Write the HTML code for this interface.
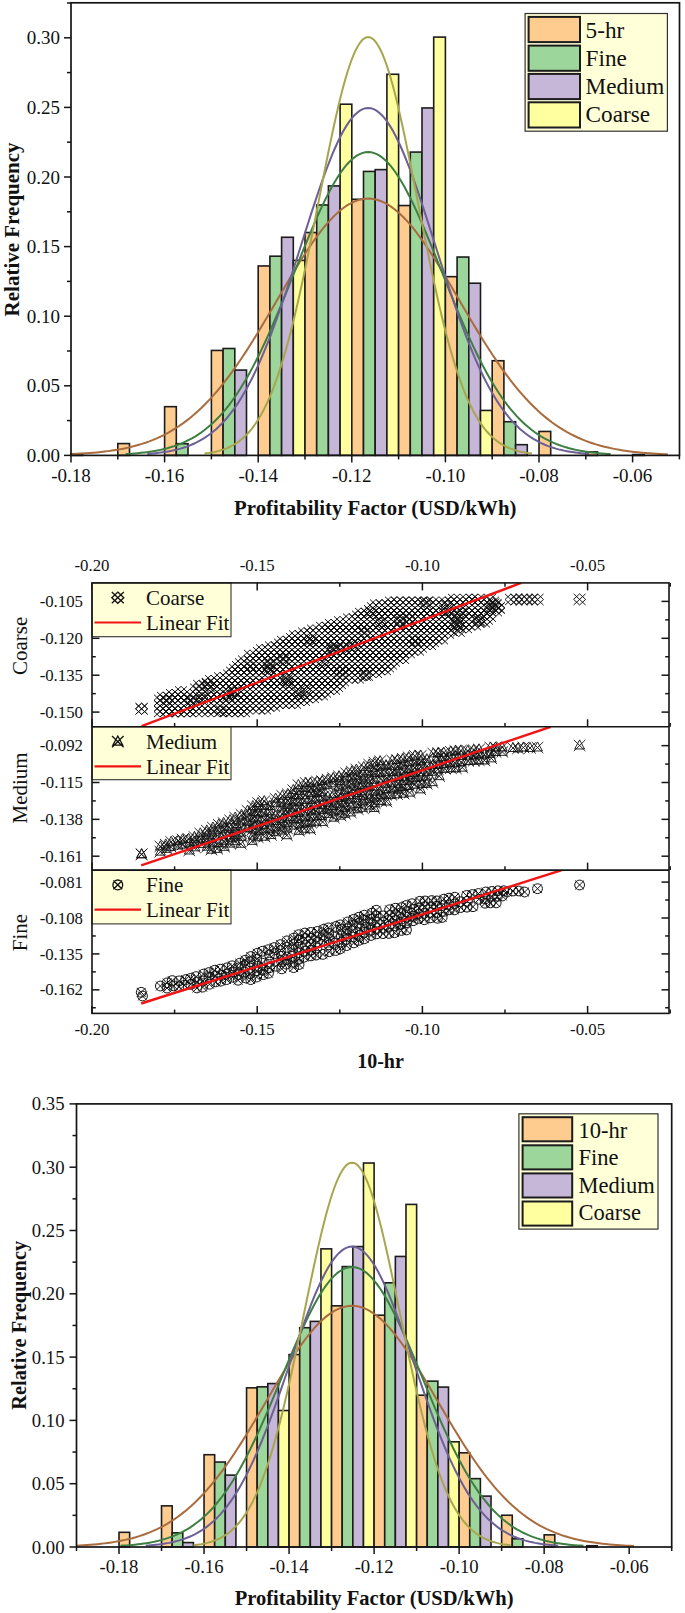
<!DOCTYPE html><html><head><meta charset="utf-8"><title>chart</title><style>html,body{margin:0;padding:0;background:#fff;width:685px;height:1613px;overflow:hidden}svg{display:block}text{font-family:"Liberation Serif",serif;fill:#111}</style></head><body>
<svg width="685" height="1613" viewBox="0 0 685 1613">
<rect width="685" height="1613" fill="#fff"/>
<g stroke="#1C1C1C" stroke-width="1.6">
<rect x="71" y="453.73" width="11.7" height="1.67" fill="#FFCC90"/>
<rect x="117.8" y="443.57" width="11.7" height="11.83" fill="#FFCC90"/>
<rect x="164.6" y="406.68" width="11.7" height="48.72" fill="#FFCC90"/>
<rect x="176.3" y="443.71" width="11.7" height="11.69" fill="#9DD69B"/>
<rect x="211.4" y="350.44" width="11.7" height="104.96" fill="#FFCC90"/>
<rect x="223.1" y="348.49" width="11.7" height="106.91" fill="#9DD69B"/>
<rect x="234.8" y="370.07" width="11.7" height="85.33" fill="#C6B6D8"/>
<rect x="258.2" y="265.95" width="11.7" height="189.45" fill="#FFCC90"/>
<rect x="269.9" y="256.2" width="11.7" height="199.2" fill="#9DD69B"/>
<rect x="281.6" y="237.27" width="11.7" height="218.13" fill="#C6B6D8"/>
<rect x="293.3" y="260.38" width="11.7" height="195.02" fill="#FFFFA0"/>
<rect x="305" y="232.54" width="11.7" height="222.86" fill="#FFCC90"/>
<rect x="316.7" y="204.98" width="11.7" height="250.42" fill="#9DD69B"/>
<rect x="328.4" y="185.91" width="11.7" height="269.49" fill="#C6B6D8"/>
<rect x="340.1" y="104.2" width="11.7" height="351.2" fill="#FFFFA0"/>
<rect x="351.8" y="199.27" width="11.7" height="256.13" fill="#FFCC90"/>
<rect x="363.5" y="171.43" width="11.7" height="283.97" fill="#9DD69B"/>
<rect x="375.2" y="169.62" width="11.7" height="285.78" fill="#C6B6D8"/>
<rect x="386.9" y="74.27" width="11.7" height="381.13" fill="#FFFFA0"/>
<rect x="398.6" y="205.54" width="11.7" height="249.86" fill="#FFCC90"/>
<rect x="410.3" y="152.08" width="11.7" height="303.32" fill="#9DD69B"/>
<rect x="422" y="107.96" width="11.7" height="347.44" fill="#C6B6D8"/>
<rect x="433.7" y="37.1" width="11.7" height="418.3" fill="#FFFFA0"/>
<rect x="445.4" y="276.67" width="11.7" height="178.73" fill="#FFCC90"/>
<rect x="457.1" y="257.04" width="11.7" height="198.36" fill="#9DD69B"/>
<rect x="468.8" y="283.21" width="11.7" height="172.19" fill="#C6B6D8"/>
<rect x="480.5" y="410.44" width="11.7" height="44.96" fill="#FFFFA0"/>
<rect x="492.2" y="360.74" width="11.7" height="94.66" fill="#FFCC90"/>
<rect x="503.9" y="421.71" width="11.7" height="33.69" fill="#9DD69B"/>
<rect x="515.6" y="444.68" width="11.7" height="10.72" fill="#C6B6D8"/>
<rect x="539" y="431.46" width="11.7" height="23.94" fill="#FFCC90"/>
<rect x="585.8" y="451.92" width="11.7" height="3.48" fill="#FFCC90"/>
<rect x="632.6" y="454.56" width="11.7" height="0.84" fill="#FFCC90"/>
</g>
<polyline fill="none" stroke="#A86C3E" stroke-width="2" points="71,454.19 74.73,454.02 78.46,453.82 82.19,453.6 85.92,453.35 89.65,453.08 93.38,452.77 97.11,452.42 100.84,452.04 104.57,451.61 108.3,451.13 112.03,450.6 115.76,450.01 119.49,449.37 123.22,448.66 126.95,447.87 130.68,447.01 134.41,446.07 138.14,445.03 141.87,443.91 145.6,442.68 149.33,441.34 153.06,439.89 156.79,438.32 160.52,436.62 164.25,434.79 167.98,432.82 171.71,430.69 175.44,428.42 179.17,425.99 182.9,423.39 186.63,420.62 190.36,417.67 194.09,414.54 197.82,411.23 201.55,407.73 205.28,404.04 209.01,400.16 212.74,396.09 216.47,391.82 220.2,387.36 223.93,382.71 227.66,377.87 231.39,372.85 235.12,367.65 238.85,362.29 242.58,356.76 246.31,351.08 250.04,345.26 253.77,339.31 257.5,333.24 261.23,327.08 264.96,320.83 268.69,314.51 272.42,308.15 276.15,301.76 279.88,295.36 283.61,288.97 287.34,282.63 291.07,276.34 294.8,270.14 298.53,264.05 302.26,258.09 305.99,252.28 309.72,246.66 313.45,241.25 317.18,236.06 320.91,231.13 324.64,226.48 328.37,222.12 332.1,218.08 335.83,214.37 339.56,211.03 343.29,208.05 347.02,205.46 350.75,203.27 354.48,201.48 358.21,200.12 361.94,199.18 365.67,198.67 369.4,198.6 373.13,198.96 376.86,199.75 380.59,200.96 384.32,202.6 388.05,204.65 391.78,207.1 395.51,209.95 399.24,213.17 402.97,216.75 406.7,220.68 410.43,224.93 414.16,229.48 417.89,234.32 421.62,239.42 425.35,244.76 429.08,250.31 432.81,256.05 436.54,261.96 440.27,268.01 444,274.18 447.73,280.44 451.46,286.76 455.19,293.14 458.92,299.53 462.65,305.93 466.38,312.3 470.11,318.64 473.84,324.91 477.57,331.11 481.3,337.21 485.03,343.2 488.76,349.07 492.49,354.8 496.22,360.38 499.95,365.81 503.68,371.06 507.41,376.15 511.14,381.05 514.87,385.76 518.6,390.29 522.33,394.63 526.06,398.77 529.79,402.72 533.52,406.47 537.24,410.04 540.97,413.41 544.7,416.61 548.43,419.61 552.16,422.44 555.89,425.1 559.62,427.59 563.35,429.92 567.08,432.1 570.81,434.12 574.54,436 578.27,437.74 582,439.36 585.73,440.85 589.46,442.23 593.19,443.49 596.92,444.65 600.65,445.72 604.38,446.69 608.11,447.58 611.84,448.39 615.57,449.13 619.3,449.8 623.03,450.4 626.76,450.95 630.49,451.45 634.22,451.89 637.95,452.29 641.68,452.65 645.41,452.97 649.14,453.26 652.87,453.52 656.6,453.75 660.33,453.95 664.06,454.13 667.79,454.29"/>
<polyline fill="none" stroke="#3D7F42" stroke-width="2" points="125.71,454.09 128.74,453.9 131.77,453.69 134.8,453.44 137.83,453.17 140.86,452.87 143.89,452.53 146.93,452.14 149.96,451.71 152.99,451.24 156.02,450.71 159.05,450.12 162.08,449.47 165.11,448.74 168.14,447.95 171.17,447.07 174.2,446.1 177.23,445.04 180.27,443.88 183.3,442.61 186.33,441.22 189.36,439.71 192.39,438.06 195.42,436.28 198.45,434.35 201.48,432.27 204.51,430.02 207.54,427.6 210.57,425.01 213.6,422.22 216.64,419.24 219.67,416.07 222.7,412.68 225.73,409.09 228.76,405.27 231.79,401.24 234.82,396.98 237.85,392.49 240.88,387.77 243.91,382.83 246.94,377.65 249.98,372.24 253.01,366.61 256.04,360.76 259.07,354.7 262.1,348.43 265.13,341.96 268.16,335.31 271.19,328.48 274.22,321.49 277.25,314.36 280.28,307.1 283.32,299.73 286.35,292.27 289.38,284.74 292.41,277.18 295.44,269.59 298.47,262.01 301.5,254.46 304.53,246.97 307.56,239.58 310.59,232.29 313.62,225.16 316.65,218.2 319.69,211.45 322.72,204.93 325.75,198.67 328.78,192.7 331.81,187.06 334.84,181.75 337.87,176.82 340.9,172.28 343.93,168.16 346.96,164.47 349.99,161.23 353.03,158.47 356.06,156.18 359.09,154.4 362.12,153.11 365.15,152.34 368.18,152.08 371.21,152.34 374.24,153.11 377.27,154.4 380.3,156.18 383.33,158.47 386.37,161.23 389.4,164.47 392.43,168.16 395.46,172.28 398.49,176.82 401.52,181.75 404.55,187.06 407.58,192.7 410.61,198.67 413.64,204.93 416.67,211.45 419.71,218.2 422.74,225.16 425.77,232.29 428.8,239.58 431.83,246.97 434.86,254.46 437.89,262.01 440.92,269.59 443.95,277.18 446.98,284.74 450.01,292.27 453.04,299.73 456.08,307.1 459.11,314.36 462.14,321.49 465.17,328.48 468.2,335.31 471.23,341.96 474.26,348.43 477.29,354.7 480.32,360.76 483.35,366.61 486.38,372.24 489.42,377.65 492.45,382.83 495.48,387.77 498.51,392.49 501.54,396.98 504.57,401.24 507.6,405.27 510.63,409.09 513.66,412.68 516.69,416.07 519.72,419.24 522.76,422.22 525.79,425.01 528.82,427.6 531.85,430.02 534.88,432.27 537.91,434.35 540.94,436.28 543.97,438.06 547,439.71 550.03,441.22 553.06,442.61 556.09,443.88 559.13,445.04 562.16,446.1 565.19,447.07 568.22,447.95 571.25,448.74 574.28,449.47 577.31,450.12 580.34,450.71 583.37,451.24 586.4,451.71 589.43,452.14 592.47,452.53 595.5,452.87 598.53,453.17 601.56,453.44 604.59,453.69 607.62,453.9 610.65,454.09"/>
<polyline fill="none" stroke="#6C6095" stroke-width="2" points="147.33,453.9 150.09,453.68 152.85,453.44 155.61,453.16 158.37,452.85 161.13,452.5 163.89,452.11 166.66,451.67 169.42,451.18 172.18,450.63 174.94,450.02 177.7,449.35 180.46,448.6 183.22,447.77 185.98,446.86 188.74,445.85 191.5,444.75 194.26,443.53 197.02,442.2 199.78,440.74 202.54,439.15 205.3,437.42 208.06,435.54 210.82,433.5 213.59,431.29 216.35,428.9 219.11,426.33 221.87,423.56 224.63,420.58 227.39,417.39 230.15,413.98 232.91,410.35 235.67,406.47 238.43,402.35 241.19,397.98 243.95,393.36 246.71,388.48 249.47,383.34 252.23,377.94 254.99,372.27 257.76,366.34 260.52,360.14 263.28,353.7 266.04,346.99 268.8,340.05 271.56,332.87 274.32,325.46 277.08,317.83 279.84,310.01 282.6,302.01 285.36,293.84 288.12,285.52 290.88,277.08 293.64,268.54 296.4,259.92 299.16,251.25 301.93,242.56 304.69,233.87 307.45,225.23 310.21,216.65 312.97,208.18 315.73,199.84 318.49,191.66 321.25,183.69 324.01,175.96 326.77,168.49 329.53,161.32 332.29,154.49 335.05,148.02 337.81,141.94 340.57,136.29 343.33,131.09 346.1,126.37 348.86,122.14 351.62,118.44 354.38,115.27 357.14,112.65 359.9,110.61 362.66,109.14 365.42,108.25 368.18,107.96 370.94,108.25 373.7,109.14 376.46,110.61 379.22,112.65 381.98,115.27 384.74,118.44 387.5,122.14 390.26,126.37 393.03,131.09 395.79,136.29 398.55,141.94 401.31,148.02 404.07,154.49 406.83,161.32 409.59,168.49 412.35,175.96 415.11,183.69 417.87,191.66 420.63,199.84 423.39,208.18 426.15,216.65 428.91,225.23 431.67,233.87 434.43,242.56 437.2,251.25 439.96,259.92 442.72,268.54 445.48,277.08 448.24,285.52 451,293.84 453.76,302.01 456.52,310.01 459.28,317.83 462.04,325.46 464.8,332.87 467.56,340.05 470.32,346.99 473.08,353.7 475.84,360.14 478.6,366.34 481.37,372.27 484.13,377.94 486.89,383.34 489.65,388.48 492.41,393.36 495.17,397.98 497.93,402.35 500.69,406.47 503.45,410.35 506.21,413.98 508.97,417.39 511.73,420.58 514.49,423.56 517.25,426.33 520.01,428.9 522.77,431.29 525.54,433.5 528.3,435.54 531.06,437.42 533.82,439.15 536.58,440.74 539.34,442.2 542.1,443.53 544.86,444.75 547.62,445.85 550.38,446.86 553.14,447.77 555.9,448.6 558.66,449.35 561.42,450.02 564.18,450.63 566.94,451.18 569.7,451.67 572.47,452.11 575.23,452.5 577.99,452.85 580.75,453.16 583.51,453.44 586.27,453.68 589.03,453.9"/>
<polyline fill="none" stroke="#A8A64C" stroke-width="2" points="204.47,453.59 206.52,453.33 208.57,453.04 210.61,452.7 212.66,452.33 214.71,451.91 216.75,451.44 218.8,450.91 220.84,450.32 222.89,449.66 224.94,448.93 226.98,448.12 229.03,447.22 231.08,446.22 233.12,445.12 235.17,443.91 237.21,442.58 239.26,441.11 241.31,439.51 243.35,437.76 245.4,435.84 247.45,433.76 249.49,431.49 251.54,429.04 253.59,426.38 255.63,423.5 257.68,420.4 259.72,417.07 261.77,413.48 263.82,409.64 265.86,405.54 267.91,401.16 269.96,396.49 272,391.53 274.05,386.27 276.1,380.71 278.14,374.83 280.19,368.64 282.23,362.14 284.28,355.31 286.33,348.17 288.37,340.72 290.42,332.96 292.47,324.89 294.51,316.52 296.56,307.88 298.6,298.96 300.65,289.78 302.7,280.36 304.74,270.73 306.79,260.89 308.84,250.88 310.88,240.71 312.93,230.43 314.98,220.05 317.02,209.62 319.07,199.15 321.11,188.7 323.16,178.29 325.21,167.97 327.25,157.76 329.3,147.72 331.35,137.88 333.39,128.28 335.44,118.97 337.49,109.98 339.53,101.35 341.58,93.12 343.62,85.34 345.67,78.02 347.72,71.22 349.76,64.96 351.81,59.27 353.86,54.18 355.9,49.72 357.95,45.91 359.99,42.76 362.04,40.29 364.09,38.53 366.13,37.46 368.18,37.1 370.23,37.46 372.27,38.53 374.32,40.29 376.37,42.76 378.41,45.91 380.46,49.72 382.5,54.18 384.55,59.27 386.6,64.96 388.64,71.22 390.69,78.02 392.74,85.34 394.78,93.12 396.83,101.35 398.87,109.98 400.92,118.97 402.97,128.28 405.01,137.88 407.06,147.72 409.11,157.76 411.15,167.97 413.2,178.29 415.25,188.7 417.29,199.15 419.34,209.62 421.38,220.05 423.43,230.43 425.48,240.71 427.52,250.88 429.57,260.89 431.62,270.73 433.66,280.36 435.71,289.78 437.76,298.96 439.8,307.88 441.85,316.52 443.89,324.89 445.94,332.96 447.99,340.72 450.03,348.17 452.08,355.31 454.13,362.14 456.17,368.64 458.22,374.83 460.26,380.71 462.31,386.27 464.36,391.53 466.4,396.49 468.45,401.16 470.5,405.54 472.54,409.64 474.59,413.48 476.64,417.07 478.68,420.4 480.73,423.5 482.77,426.38 484.82,429.04 486.87,431.49 488.91,433.76 490.96,435.84 493.01,437.76 495.05,439.51 497.1,441.11 499.15,442.58 501.19,443.91 503.24,445.12 505.28,446.22 507.33,447.22 509.38,448.12 511.42,448.93 513.47,449.66 515.52,450.32 517.56,450.91 519.61,451.44 521.65,451.91 523.7,452.33 525.75,452.7 527.79,453.04 529.84,453.33 531.89,453.59"/>
<rect x="71" y="2.8" width="608.5" height="452.6" fill="none" stroke="#151515" stroke-width="1.7"/>
<line x1="64" y1="455.4" x2="71" y2="455.4" stroke="#151515" stroke-width="1.5"/>
<text x="60" y="461.9" font-size="19" text-anchor="end">0.00</text>
<line x1="64" y1="385.8" x2="71" y2="385.8" stroke="#151515" stroke-width="1.5"/>
<text x="60" y="392.3" font-size="19" text-anchor="end">0.05</text>
<line x1="64" y1="316.2" x2="71" y2="316.2" stroke="#151515" stroke-width="1.5"/>
<text x="60" y="322.7" font-size="19" text-anchor="end">0.10</text>
<line x1="64" y1="246.6" x2="71" y2="246.6" stroke="#151515" stroke-width="1.5"/>
<text x="60" y="253.1" font-size="19" text-anchor="end">0.15</text>
<line x1="64" y1="177" x2="71" y2="177" stroke="#151515" stroke-width="1.5"/>
<text x="60" y="183.5" font-size="19" text-anchor="end">0.20</text>
<line x1="64" y1="107.4" x2="71" y2="107.4" stroke="#151515" stroke-width="1.5"/>
<text x="60" y="113.9" font-size="19" text-anchor="end">0.25</text>
<line x1="64" y1="37.8" x2="71" y2="37.8" stroke="#151515" stroke-width="1.5"/>
<text x="60" y="44.3" font-size="19" text-anchor="end">0.30</text>
<line x1="67" y1="420.6" x2="71" y2="420.6" stroke="#151515" stroke-width="1.5"/>
<line x1="67" y1="351" x2="71" y2="351" stroke="#151515" stroke-width="1.5"/>
<line x1="67" y1="281.4" x2="71" y2="281.4" stroke="#151515" stroke-width="1.5"/>
<line x1="67" y1="211.8" x2="71" y2="211.8" stroke="#151515" stroke-width="1.5"/>
<line x1="67" y1="142.2" x2="71" y2="142.2" stroke="#151515" stroke-width="1.5"/>
<line x1="67" y1="72.6" x2="71" y2="72.6" stroke="#151515" stroke-width="1.5"/>
<line x1="67" y1="3" x2="71" y2="3" stroke="#151515" stroke-width="1.5"/>
<line x1="71" y1="455.4" x2="71" y2="462.4" stroke="#151515" stroke-width="1.5"/>
<text x="71" y="481.8" font-size="19" text-anchor="middle">-0.18</text>
<line x1="164.6" y1="455.4" x2="164.6" y2="462.4" stroke="#151515" stroke-width="1.5"/>
<text x="164.6" y="481.8" font-size="19" text-anchor="middle">-0.16</text>
<line x1="258.2" y1="455.4" x2="258.2" y2="462.4" stroke="#151515" stroke-width="1.5"/>
<text x="258.2" y="481.8" font-size="19" text-anchor="middle">-0.14</text>
<line x1="351.8" y1="455.4" x2="351.8" y2="462.4" stroke="#151515" stroke-width="1.5"/>
<text x="351.8" y="481.8" font-size="19" text-anchor="middle">-0.12</text>
<line x1="445.4" y1="455.4" x2="445.4" y2="462.4" stroke="#151515" stroke-width="1.5"/>
<text x="445.4" y="481.8" font-size="19" text-anchor="middle">-0.10</text>
<line x1="539" y1="455.4" x2="539" y2="462.4" stroke="#151515" stroke-width="1.5"/>
<text x="539" y="481.8" font-size="19" text-anchor="middle">-0.08</text>
<line x1="632.6" y1="455.4" x2="632.6" y2="462.4" stroke="#151515" stroke-width="1.5"/>
<text x="632.6" y="481.8" font-size="19" text-anchor="middle">-0.06</text>
<line x1="117.8" y1="455.4" x2="117.8" y2="459.4" stroke="#151515" stroke-width="1.5"/>
<line x1="211.4" y1="455.4" x2="211.4" y2="459.4" stroke="#151515" stroke-width="1.5"/>
<line x1="305" y1="455.4" x2="305" y2="459.4" stroke="#151515" stroke-width="1.5"/>
<line x1="398.6" y1="455.4" x2="398.6" y2="459.4" stroke="#151515" stroke-width="1.5"/>
<line x1="492.2" y1="455.4" x2="492.2" y2="459.4" stroke="#151515" stroke-width="1.5"/>
<line x1="585.8" y1="455.4" x2="585.8" y2="459.4" stroke="#151515" stroke-width="1.5"/>
<line x1="679.4" y1="455.4" x2="679.4" y2="459.4" stroke="#151515" stroke-width="1.5"/>
<text x="375.25" y="515.3" font-size="20.8" text-anchor="middle" font-weight="bold">Profitability Factor (USD/kWh)</text>
<text transform="translate(18.8,229.4) rotate(-90)" font-size="21" font-weight="bold" text-anchor="middle">Relative Frequency</text>
<rect x="525.1" y="13.5" width="142.3" height="117.7" fill="#FFFFD8" stroke="#333" stroke-width="1.2"/>
<rect x="528.6" y="16.9" width="51.4" height="25.2" fill="#FFCC90" stroke="#1C1C1C" stroke-width="2"/>
<text x="585.6" y="37.5" font-size="23.2" text-anchor="start">5-hr</text>
<rect x="528.6" y="45.6" width="51.4" height="25.2" fill="#9DD69B" stroke="#1C1C1C" stroke-width="2"/>
<text x="585.6" y="65.5" font-size="23.2" text-anchor="start">Fine</text>
<rect x="528.6" y="73.9" width="51.4" height="25.2" fill="#C6B6D8" stroke="#1C1C1C" stroke-width="2"/>
<text x="585.6" y="94" font-size="23.2" text-anchor="start">Medium</text>
<rect x="528.6" y="102.3" width="51.4" height="25.2" fill="#FFFFA0" stroke="#1C1C1C" stroke-width="2"/>
<text x="585.6" y="122.2" font-size="23.2" text-anchor="start">Coarse</text>
<defs>
<clipPath id="cp0"><rect x="92" y="582.9" width="577" height="143.9"/></clipPath>
<clipPath id="cp1"><rect x="92" y="726.8" width="577" height="143.3"/></clipPath>
<clipPath id="cp2"><rect x="92" y="870.1" width="577" height="143.3"/></clipPath>
</defs>
<path clip-path="url(#cp0)" fill="none" stroke="#111" stroke-width="0.95" d="M154 694.7l12 11.2m0 -11.2l-12 11.2M160 694.7l6 5.6l-6 5.6l-6 -5.6zM154 700.3l12 11.2m0 -11.2l-12 11.2M160 700.3l6 5.6l-6 5.6l-6 -5.6zM154 705.9l12 11.2m0 -11.2l-12 11.2M160 705.9l6 5.6l-6 5.6l-6 -5.6zM157 691.9l12 11.2m0 -11.2l-12 11.2M163 691.9l6 5.6l-6 5.6l-6 -5.6zM157 697.5l12 11.2m0 -11.2l-12 11.2M163 697.5l6 5.6l-6 5.6l-6 -5.6zM157 703.1l12 11.2m0 -11.2l-12 11.2M163 703.1l6 5.6l-6 5.6l-6 -5.6zM160 694.7l12 11.2m0 -11.2l-12 11.2M166 694.7l6 5.6l-6 5.6l-6 -5.6zM160 700.3l12 11.2m0 -11.2l-12 11.2M166 700.3l6 5.6l-6 5.6l-6 -5.6zM160 705.9l12 11.2m0 -11.2l-12 11.2M166 705.9l6 5.6l-6 5.6l-6 -5.6zM163 691.9l12 11.2m0 -11.2l-12 11.2M169 691.9l6 5.6l-6 5.6l-6 -5.6zM163 703.1l12 11.2m0 -11.2l-12 11.2M169 703.1l6 5.6l-6 5.6l-6 -5.6zM166 689.1l12 11.2m0 -11.2l-12 11.2M172 689.1l6 5.6l-6 5.6l-6 -5.6zM166 694.7l12 11.2m0 -11.2l-12 11.2M172 694.7l6 5.6l-6 5.6l-6 -5.6zM166 700.3l12 11.2m0 -11.2l-12 11.2M172 700.3l6 5.6l-6 5.6l-6 -5.6zM166 705.9l12 11.2m0 -11.2l-12 11.2M172 705.9l6 5.6l-6 5.6l-6 -5.6zM169 691.9l12 11.2m0 -11.2l-12 11.2M175 691.9l6 5.6l-6 5.6l-6 -5.6zM169 703.1l12 11.2m0 -11.2l-12 11.2M175 703.1l6 5.6l-6 5.6l-6 -5.6zM172 689.1l12 11.2m0 -11.2l-12 11.2M178 689.1l6 5.6l-6 5.6l-6 -5.6zM172 694.7l12 11.2m0 -11.2l-12 11.2M178 694.7l6 5.6l-6 5.6l-6 -5.6zM172 700.3l12 11.2m0 -11.2l-12 11.2M178 700.3l6 5.6l-6 5.6l-6 -5.6zM172 705.9l12 11.2m0 -11.2l-12 11.2M178 705.9l6 5.6l-6 5.6l-6 -5.6zM175 686.3l12 11.2m0 -11.2l-12 11.2M181 686.3l6 5.6l-6 5.6l-6 -5.6zM175 691.9l12 11.2m0 -11.2l-12 11.2M181 691.9l6 5.6l-6 5.6l-6 -5.6zM175 697.5l12 11.2m0 -11.2l-12 11.2M181 697.5l6 5.6l-6 5.6l-6 -5.6zM178 689.1l12 11.2m0 -11.2l-12 11.2M184 689.1l6 5.6l-6 5.6l-6 -5.6zM178 694.7l12 11.2m0 -11.2l-12 11.2M184 694.7l6 5.6l-6 5.6l-6 -5.6zM178 705.9l12 11.2m0 -11.2l-12 11.2M184 705.9l6 5.6l-6 5.6l-6 -5.6zM181 691.9l12 11.2m0 -11.2l-12 11.2M187 691.9l6 5.6l-6 5.6l-6 -5.6zM181 697.5l12 11.2m0 -11.2l-12 11.2M187 697.5l6 5.6l-6 5.6l-6 -5.6zM181 703.1l12 11.2m0 -11.2l-12 11.2M187 703.1l6 5.6l-6 5.6l-6 -5.6zM184 694.7l12 11.2m0 -11.2l-12 11.2M190 694.7l6 5.6l-6 5.6l-6 -5.6zM184 700.3l12 11.2m0 -11.2l-12 11.2M190 700.3l6 5.6l-6 5.6l-6 -5.6zM184 705.9l12 11.2m0 -11.2l-12 11.2M190 705.9l6 5.6l-6 5.6l-6 -5.6zM187 691.9l12 11.2m0 -11.2l-12 11.2M193 691.9l6 5.6l-6 5.6l-6 -5.6zM187 697.5l12 11.2m0 -11.2l-12 11.2M193 697.5l6 5.6l-6 5.6l-6 -5.6zM187 703.1l12 11.2m0 -11.2l-12 11.2M193 703.1l6 5.6l-6 5.6l-6 -5.6zM190 683.5l12 11.2m0 -11.2l-12 11.2M196 683.5l6 5.6l-6 5.6l-6 -5.6zM190 689.1l12 11.2m0 -11.2l-12 11.2M196 689.1l6 5.6l-6 5.6l-6 -5.6zM190 694.7l12 11.2m0 -11.2l-12 11.2M196 694.7l6 5.6l-6 5.6l-6 -5.6zM190 700.3l12 11.2m0 -11.2l-12 11.2M196 700.3l6 5.6l-6 5.6l-6 -5.6zM190 705.9l12 11.2m0 -11.2l-12 11.2M196 705.9l6 5.6l-6 5.6l-6 -5.6zM193 686.3l12 11.2m0 -11.2l-12 11.2M199 686.3l6 5.6l-6 5.6l-6 -5.6zM196 683.5l12 11.2m0 -11.2l-12 11.2M202 683.5l6 5.6l-6 5.6l-6 -5.6zM196 689.1l12 11.2m0 -11.2l-12 11.2M202 689.1l6 5.6l-6 5.6l-6 -5.6zM199 680.7l12 11.2m0 -11.2l-12 11.2M205 680.7l6 5.6l-6 5.6l-6 -5.6zM199 686.3l12 11.2m0 -11.2l-12 11.2M205 686.3l6 5.6l-6 5.6l-6 -5.6zM199 691.9l12 11.2m0 -11.2l-12 11.2M205 691.9l6 5.6l-6 5.6l-6 -5.6zM199 697.5l12 11.2m0 -11.2l-12 11.2M205 697.5l6 5.6l-6 5.6l-6 -5.6zM199 703.1l12 11.2m0 -11.2l-12 11.2M205 703.1l6 5.6l-6 5.6l-6 -5.6zM202 677.9l12 11.2m0 -11.2l-12 11.2M208 677.9l6 5.6l-6 5.6l-6 -5.6zM202 683.5l12 11.2m0 -11.2l-12 11.2M208 683.5l6 5.6l-6 5.6l-6 -5.6zM202 700.3l12 11.2m0 -11.2l-12 11.2M208 700.3l6 5.6l-6 5.6l-6 -5.6zM202 705.9l12 11.2m0 -11.2l-12 11.2M208 705.9l6 5.6l-6 5.6l-6 -5.6zM205 675.1l12 11.2m0 -11.2l-12 11.2M211 675.1l6 5.6l-6 5.6l-6 -5.6zM205 680.7l12 11.2m0 -11.2l-12 11.2M211 680.7l6 5.6l-6 5.6l-6 -5.6zM205 686.3l12 11.2m0 -11.2l-12 11.2M211 686.3l6 5.6l-6 5.6l-6 -5.6zM205 691.9l12 11.2m0 -11.2l-12 11.2M211 691.9l6 5.6l-6 5.6l-6 -5.6zM205 703.1l12 11.2m0 -11.2l-12 11.2M211 703.1l6 5.6l-6 5.6l-6 -5.6zM208 677.9l12 11.2m0 -11.2l-12 11.2M214 677.9l6 5.6l-6 5.6l-6 -5.6zM208 683.5l12 11.2m0 -11.2l-12 11.2M214 683.5l6 5.6l-6 5.6l-6 -5.6zM208 689.1l12 11.2m0 -11.2l-12 11.2M214 689.1l6 5.6l-6 5.6l-6 -5.6zM208 694.7l12 11.2m0 -11.2l-12 11.2M214 694.7l6 5.6l-6 5.6l-6 -5.6zM211 675.1l12 11.2m0 -11.2l-12 11.2M217 675.1l6 5.6l-6 5.6l-6 -5.6zM211 686.3l12 11.2m0 -11.2l-12 11.2M217 686.3l6 5.6l-6 5.6l-6 -5.6zM211 691.9l12 11.2m0 -11.2l-12 11.2M217 691.9l6 5.6l-6 5.6l-6 -5.6zM211 697.5l12 11.2m0 -11.2l-12 11.2M217 697.5l6 5.6l-6 5.6l-6 -5.6zM211 703.1l12 11.2m0 -11.2l-12 11.2M217 703.1l6 5.6l-6 5.6l-6 -5.6zM214 672.3l12 11.2m0 -11.2l-12 11.2M220 672.3l6 5.6l-6 5.6l-6 -5.6zM214 677.9l12 11.2m0 -11.2l-12 11.2M220 677.9l6 5.6l-6 5.6l-6 -5.6zM214 683.5l12 11.2m0 -11.2l-12 11.2M220 683.5l6 5.6l-6 5.6l-6 -5.6zM214 689.1l12 11.2m0 -11.2l-12 11.2M220 689.1l6 5.6l-6 5.6l-6 -5.6zM214 694.7l12 11.2m0 -11.2l-12 11.2M220 694.7l6 5.6l-6 5.6l-6 -5.6zM214 705.9l12 11.2m0 -11.2l-12 11.2M220 705.9l6 5.6l-6 5.6l-6 -5.6zM217 680.7l12 11.2m0 -11.2l-12 11.2M223 680.7l6 5.6l-6 5.6l-6 -5.6zM217 686.3l12 11.2m0 -11.2l-12 11.2M223 686.3l6 5.6l-6 5.6l-6 -5.6zM217 691.9l12 11.2m0 -11.2l-12 11.2M223 691.9l6 5.6l-6 5.6l-6 -5.6zM217 697.5l12 11.2m0 -11.2l-12 11.2M223 697.5l6 5.6l-6 5.6l-6 -5.6zM217 703.1l12 11.2m0 -11.2l-12 11.2M223 703.1l6 5.6l-6 5.6l-6 -5.6zM220 672.3l12 11.2m0 -11.2l-12 11.2M226 672.3l6 5.6l-6 5.6l-6 -5.6zM220 677.9l12 11.2m0 -11.2l-12 11.2M226 677.9l6 5.6l-6 5.6l-6 -5.6zM220 689.1l12 11.2m0 -11.2l-12 11.2M226 689.1l6 5.6l-6 5.6l-6 -5.6zM220 694.7l12 11.2m0 -11.2l-12 11.2M226 694.7l6 5.6l-6 5.6l-6 -5.6zM220 700.3l12 11.2m0 -11.2l-12 11.2M226 700.3l6 5.6l-6 5.6l-6 -5.6zM220 705.9l12 11.2m0 -11.2l-12 11.2M226 705.9l6 5.6l-6 5.6l-6 -5.6zM223 669.5l12 11.2m0 -11.2l-12 11.2M229 669.5l6 5.6l-6 5.6l-6 -5.6zM223 680.7l12 11.2m0 -11.2l-12 11.2M229 680.7l6 5.6l-6 5.6l-6 -5.6zM223 686.3l12 11.2m0 -11.2l-12 11.2M229 686.3l6 5.6l-6 5.6l-6 -5.6zM223 691.9l12 11.2m0 -11.2l-12 11.2M229 691.9l6 5.6l-6 5.6l-6 -5.6zM223 697.5l12 11.2m0 -11.2l-12 11.2M229 697.5l6 5.6l-6 5.6l-6 -5.6zM223 703.1l12 11.2m0 -11.2l-12 11.2M229 703.1l6 5.6l-6 5.6l-6 -5.6zM226 666.7l12 11.2m0 -11.2l-12 11.2M232 666.7l6 5.6l-6 5.6l-6 -5.6zM226 672.3l12 11.2m0 -11.2l-12 11.2M232 672.3l6 5.6l-6 5.6l-6 -5.6zM226 677.9l12 11.2m0 -11.2l-12 11.2M232 677.9l6 5.6l-6 5.6l-6 -5.6zM226 683.5l12 11.2m0 -11.2l-12 11.2M232 683.5l6 5.6l-6 5.6l-6 -5.6zM226 689.1l12 11.2m0 -11.2l-12 11.2M232 689.1l6 5.6l-6 5.6l-6 -5.6zM226 694.7l12 11.2m0 -11.2l-12 11.2M232 694.7l6 5.6l-6 5.6l-6 -5.6zM226 700.3l12 11.2m0 -11.2l-12 11.2M232 700.3l6 5.6l-6 5.6l-6 -5.6zM226 705.9l12 11.2m0 -11.2l-12 11.2M232 705.9l6 5.6l-6 5.6l-6 -5.6zM229 663.9l12 11.2m0 -11.2l-12 11.2M235 663.9l6 5.6l-6 5.6l-6 -5.6zM229 669.5l12 11.2m0 -11.2l-12 11.2M235 669.5l6 5.6l-6 5.6l-6 -5.6zM229 675.1l12 11.2m0 -11.2l-12 11.2M235 675.1l6 5.6l-6 5.6l-6 -5.6zM229 680.7l12 11.2m0 -11.2l-12 11.2M235 680.7l6 5.6l-6 5.6l-6 -5.6zM229 686.3l12 11.2m0 -11.2l-12 11.2M235 686.3l6 5.6l-6 5.6l-6 -5.6zM229 697.5l12 11.2m0 -11.2l-12 11.2M235 697.5l6 5.6l-6 5.6l-6 -5.6zM229 703.1l12 11.2m0 -11.2l-12 11.2M235 703.1l6 5.6l-6 5.6l-6 -5.6zM232 661.1l12 11.2m0 -11.2l-12 11.2M238 661.1l6 5.6l-6 5.6l-6 -5.6zM232 666.7l12 11.2m0 -11.2l-12 11.2M238 666.7l6 5.6l-6 5.6l-6 -5.6zM232 672.3l12 11.2m0 -11.2l-12 11.2M238 672.3l6 5.6l-6 5.6l-6 -5.6zM232 677.9l12 11.2m0 -11.2l-12 11.2M238 677.9l6 5.6l-6 5.6l-6 -5.6zM232 683.5l12 11.2m0 -11.2l-12 11.2M238 683.5l6 5.6l-6 5.6l-6 -5.6zM232 689.1l12 11.2m0 -11.2l-12 11.2M238 689.1l6 5.6l-6 5.6l-6 -5.6zM232 694.7l12 11.2m0 -11.2l-12 11.2M238 694.7l6 5.6l-6 5.6l-6 -5.6zM232 700.3l12 11.2m0 -11.2l-12 11.2M238 700.3l6 5.6l-6 5.6l-6 -5.6zM232 705.9l12 11.2m0 -11.2l-12 11.2M238 705.9l6 5.6l-6 5.6l-6 -5.6zM235 658.3l12 11.2m0 -11.2l-12 11.2M241 658.3l6 5.6l-6 5.6l-6 -5.6zM235 663.9l12 11.2m0 -11.2l-12 11.2M241 663.9l6 5.6l-6 5.6l-6 -5.6zM235 669.5l12 11.2m0 -11.2l-12 11.2M241 669.5l6 5.6l-6 5.6l-6 -5.6zM235 675.1l12 11.2m0 -11.2l-12 11.2M241 675.1l6 5.6l-6 5.6l-6 -5.6zM235 680.7l12 11.2m0 -11.2l-12 11.2M241 680.7l6 5.6l-6 5.6l-6 -5.6zM235 686.3l12 11.2m0 -11.2l-12 11.2M241 686.3l6 5.6l-6 5.6l-6 -5.6zM235 691.9l12 11.2m0 -11.2l-12 11.2M241 691.9l6 5.6l-6 5.6l-6 -5.6zM235 697.5l12 11.2m0 -11.2l-12 11.2M241 697.5l6 5.6l-6 5.6l-6 -5.6zM235 703.1l12 11.2m0 -11.2l-12 11.2M241 703.1l6 5.6l-6 5.6l-6 -5.6zM238 655.5l12 11.2m0 -11.2l-12 11.2M244 655.5l6 5.6l-6 5.6l-6 -5.6zM238 661.1l12 11.2m0 -11.2l-12 11.2M244 661.1l6 5.6l-6 5.6l-6 -5.6zM238 666.7l12 11.2m0 -11.2l-12 11.2M244 666.7l6 5.6l-6 5.6l-6 -5.6zM238 672.3l12 11.2m0 -11.2l-12 11.2M244 672.3l6 5.6l-6 5.6l-6 -5.6zM238 677.9l12 11.2m0 -11.2l-12 11.2M244 677.9l6 5.6l-6 5.6l-6 -5.6zM238 683.5l12 11.2m0 -11.2l-12 11.2M244 683.5l6 5.6l-6 5.6l-6 -5.6zM238 694.7l12 11.2m0 -11.2l-12 11.2M244 694.7l6 5.6l-6 5.6l-6 -5.6zM238 700.3l12 11.2m0 -11.2l-12 11.2M244 700.3l6 5.6l-6 5.6l-6 -5.6zM238 705.9l12 11.2m0 -11.2l-12 11.2M244 705.9l6 5.6l-6 5.6l-6 -5.6zM241 658.3l12 11.2m0 -11.2l-12 11.2M247 658.3l6 5.6l-6 5.6l-6 -5.6zM241 663.9l12 11.2m0 -11.2l-12 11.2M247 663.9l6 5.6l-6 5.6l-6 -5.6zM241 669.5l12 11.2m0 -11.2l-12 11.2M247 669.5l6 5.6l-6 5.6l-6 -5.6zM241 675.1l12 11.2m0 -11.2l-12 11.2M247 675.1l6 5.6l-6 5.6l-6 -5.6zM241 680.7l12 11.2m0 -11.2l-12 11.2M247 680.7l6 5.6l-6 5.6l-6 -5.6zM241 686.3l12 11.2m0 -11.2l-12 11.2M247 686.3l6 5.6l-6 5.6l-6 -5.6zM241 691.9l12 11.2m0 -11.2l-12 11.2M247 691.9l6 5.6l-6 5.6l-6 -5.6zM241 697.5l12 11.2m0 -11.2l-12 11.2M247 697.5l6 5.6l-6 5.6l-6 -5.6zM241 703.1l12 11.2m0 -11.2l-12 11.2M247 703.1l6 5.6l-6 5.6l-6 -5.6zM244 649.9l12 11.2m0 -11.2l-12 11.2M250 649.9l6 5.6l-6 5.6l-6 -5.6zM244 655.5l12 11.2m0 -11.2l-12 11.2M250 655.5l6 5.6l-6 5.6l-6 -5.6zM244 661.1l12 11.2m0 -11.2l-12 11.2M250 661.1l6 5.6l-6 5.6l-6 -5.6zM244 666.7l12 11.2m0 -11.2l-12 11.2M250 666.7l6 5.6l-6 5.6l-6 -5.6zM244 672.3l12 11.2m0 -11.2l-12 11.2M250 672.3l6 5.6l-6 5.6l-6 -5.6zM244 677.9l12 11.2m0 -11.2l-12 11.2M250 677.9l6 5.6l-6 5.6l-6 -5.6zM244 683.5l12 11.2m0 -11.2l-12 11.2M250 683.5l6 5.6l-6 5.6l-6 -5.6zM244 689.1l12 11.2m0 -11.2l-12 11.2M250 689.1l6 5.6l-6 5.6l-6 -5.6zM244 694.7l12 11.2m0 -11.2l-12 11.2M250 694.7l6 5.6l-6 5.6l-6 -5.6zM244 700.3l12 11.2m0 -11.2l-12 11.2M250 700.3l6 5.6l-6 5.6l-6 -5.6zM247 652.7l12 11.2m0 -11.2l-12 11.2M253 652.7l6 5.6l-6 5.6l-6 -5.6zM247 658.3l12 11.2m0 -11.2l-12 11.2M253 658.3l6 5.6l-6 5.6l-6 -5.6zM247 669.5l12 11.2m0 -11.2l-12 11.2M253 669.5l6 5.6l-6 5.6l-6 -5.6zM247 675.1l12 11.2m0 -11.2l-12 11.2M253 675.1l6 5.6l-6 5.6l-6 -5.6zM247 697.5l12 11.2m0 -11.2l-12 11.2M253 697.5l6 5.6l-6 5.6l-6 -5.6zM250 655.5l12 11.2m0 -11.2l-12 11.2M256 655.5l6 5.6l-6 5.6l-6 -5.6zM250 661.1l12 11.2m0 -11.2l-12 11.2M256 661.1l6 5.6l-6 5.6l-6 -5.6zM250 666.7l12 11.2m0 -11.2l-12 11.2M256 666.7l6 5.6l-6 5.6l-6 -5.6zM250 672.3l12 11.2m0 -11.2l-12 11.2M256 672.3l6 5.6l-6 5.6l-6 -5.6zM250 677.9l12 11.2m0 -11.2l-12 11.2M256 677.9l6 5.6l-6 5.6l-6 -5.6zM250 683.5l12 11.2m0 -11.2l-12 11.2M256 683.5l6 5.6l-6 5.6l-6 -5.6zM250 689.1l12 11.2m0 -11.2l-12 11.2M256 689.1l6 5.6l-6 5.6l-6 -5.6zM250 694.7l12 11.2m0 -11.2l-12 11.2M256 694.7l6 5.6l-6 5.6l-6 -5.6zM250 700.3l12 11.2m0 -11.2l-12 11.2M256 700.3l6 5.6l-6 5.6l-6 -5.6zM253 647.1l12 11.2m0 -11.2l-12 11.2M259 647.1l6 5.6l-6 5.6l-6 -5.6zM253 652.7l12 11.2m0 -11.2l-12 11.2M259 652.7l6 5.6l-6 5.6l-6 -5.6zM253 658.3l12 11.2m0 -11.2l-12 11.2M259 658.3l6 5.6l-6 5.6l-6 -5.6zM253 663.9l12 11.2m0 -11.2l-12 11.2M259 663.9l6 5.6l-6 5.6l-6 -5.6zM253 675.1l12 11.2m0 -11.2l-12 11.2M259 675.1l6 5.6l-6 5.6l-6 -5.6zM253 697.5l12 11.2m0 -11.2l-12 11.2M259 697.5l6 5.6l-6 5.6l-6 -5.6zM253 703.1l12 11.2m0 -11.2l-12 11.2M259 703.1l6 5.6l-6 5.6l-6 -5.6zM256 644.3l12 11.2m0 -11.2l-12 11.2M262 644.3l6 5.6l-6 5.6l-6 -5.6zM256 649.9l12 11.2m0 -11.2l-12 11.2M262 649.9l6 5.6l-6 5.6l-6 -5.6zM256 655.5l12 11.2m0 -11.2l-12 11.2M262 655.5l6 5.6l-6 5.6l-6 -5.6zM256 661.1l12 11.2m0 -11.2l-12 11.2M262 661.1l6 5.6l-6 5.6l-6 -5.6zM256 666.7l12 11.2m0 -11.2l-12 11.2M262 666.7l6 5.6l-6 5.6l-6 -5.6zM256 672.3l12 11.2m0 -11.2l-12 11.2M262 672.3l6 5.6l-6 5.6l-6 -5.6zM256 683.5l12 11.2m0 -11.2l-12 11.2M262 683.5l6 5.6l-6 5.6l-6 -5.6zM256 689.1l12 11.2m0 -11.2l-12 11.2M262 689.1l6 5.6l-6 5.6l-6 -5.6zM256 694.7l12 11.2m0 -11.2l-12 11.2M262 694.7l6 5.6l-6 5.6l-6 -5.6zM259 647.1l12 11.2m0 -11.2l-12 11.2M265 647.1l6 5.6l-6 5.6l-6 -5.6zM259 652.7l12 11.2m0 -11.2l-12 11.2M265 652.7l6 5.6l-6 5.6l-6 -5.6zM259 658.3l12 11.2m0 -11.2l-12 11.2M265 658.3l6 5.6l-6 5.6l-6 -5.6zM259 663.9l12 11.2m0 -11.2l-12 11.2M265 663.9l6 5.6l-6 5.6l-6 -5.6zM259 669.5l12 11.2m0 -11.2l-12 11.2M265 669.5l6 5.6l-6 5.6l-6 -5.6zM259 675.1l12 11.2m0 -11.2l-12 11.2M265 675.1l6 5.6l-6 5.6l-6 -5.6zM259 680.7l12 11.2m0 -11.2l-12 11.2M265 680.7l6 5.6l-6 5.6l-6 -5.6zM259 686.3l12 11.2m0 -11.2l-12 11.2M265 686.3l6 5.6l-6 5.6l-6 -5.6zM259 697.5l12 11.2m0 -11.2l-12 11.2M265 697.5l6 5.6l-6 5.6l-6 -5.6zM259 703.1l12 11.2m0 -11.2l-12 11.2M265 703.1l6 5.6l-6 5.6l-6 -5.6zM262 644.3l12 11.2m0 -11.2l-12 11.2M268 644.3l6 5.6l-6 5.6l-6 -5.6zM262 649.9l12 11.2m0 -11.2l-12 11.2M268 649.9l6 5.6l-6 5.6l-6 -5.6zM262 661.1l12 11.2m0 -11.2l-12 11.2M268 661.1l6 5.6l-6 5.6l-6 -5.6zM262 666.7l12 11.2m0 -11.2l-12 11.2M268 666.7l6 5.6l-6 5.6l-6 -5.6zM262 672.3l12 11.2m0 -11.2l-12 11.2M268 672.3l6 5.6l-6 5.6l-6 -5.6zM262 677.9l12 11.2m0 -11.2l-12 11.2M268 677.9l6 5.6l-6 5.6l-6 -5.6zM262 683.5l12 11.2m0 -11.2l-12 11.2M268 683.5l6 5.6l-6 5.6l-6 -5.6zM262 689.1l12 11.2m0 -11.2l-12 11.2M268 689.1l6 5.6l-6 5.6l-6 -5.6zM262 694.7l12 11.2m0 -11.2l-12 11.2M268 694.7l6 5.6l-6 5.6l-6 -5.6zM262 700.3l12 11.2m0 -11.2l-12 11.2M268 700.3l6 5.6l-6 5.6l-6 -5.6zM265 641.5l12 11.2m0 -11.2l-12 11.2M271 641.5l6 5.6l-6 5.6l-6 -5.6zM265 647.1l12 11.2m0 -11.2l-12 11.2M271 647.1l6 5.6l-6 5.6l-6 -5.6zM265 652.7l12 11.2m0 -11.2l-12 11.2M271 652.7l6 5.6l-6 5.6l-6 -5.6zM265 658.3l12 11.2m0 -11.2l-12 11.2M271 658.3l6 5.6l-6 5.6l-6 -5.6zM265 675.1l12 11.2m0 -11.2l-12 11.2M271 675.1l6 5.6l-6 5.6l-6 -5.6zM265 680.7l12 11.2m0 -11.2l-12 11.2M271 680.7l6 5.6l-6 5.6l-6 -5.6zM265 686.3l12 11.2m0 -11.2l-12 11.2M271 686.3l6 5.6l-6 5.6l-6 -5.6zM265 691.9l12 11.2m0 -11.2l-12 11.2M271 691.9l6 5.6l-6 5.6l-6 -5.6zM265 697.5l12 11.2m0 -11.2l-12 11.2M271 697.5l6 5.6l-6 5.6l-6 -5.6zM268 644.3l12 11.2m0 -11.2l-12 11.2M274 644.3l6 5.6l-6 5.6l-6 -5.6zM268 649.9l12 11.2m0 -11.2l-12 11.2M274 649.9l6 5.6l-6 5.6l-6 -5.6zM268 655.5l12 11.2m0 -11.2l-12 11.2M274 655.5l6 5.6l-6 5.6l-6 -5.6zM268 661.1l12 11.2m0 -11.2l-12 11.2M274 661.1l6 5.6l-6 5.6l-6 -5.6zM268 666.7l12 11.2m0 -11.2l-12 11.2M274 666.7l6 5.6l-6 5.6l-6 -5.6zM268 672.3l12 11.2m0 -11.2l-12 11.2M274 672.3l6 5.6l-6 5.6l-6 -5.6zM268 677.9l12 11.2m0 -11.2l-12 11.2M274 677.9l6 5.6l-6 5.6l-6 -5.6zM268 683.5l12 11.2m0 -11.2l-12 11.2M274 683.5l6 5.6l-6 5.6l-6 -5.6zM268 689.1l12 11.2m0 -11.2l-12 11.2M274 689.1l6 5.6l-6 5.6l-6 -5.6zM268 694.7l12 11.2m0 -11.2l-12 11.2M274 694.7l6 5.6l-6 5.6l-6 -5.6zM268 700.3l12 11.2m0 -11.2l-12 11.2M274 700.3l6 5.6l-6 5.6l-6 -5.6zM271 641.5l12 11.2m0 -11.2l-12 11.2M277 641.5l6 5.6l-6 5.6l-6 -5.6zM271 647.1l12 11.2m0 -11.2l-12 11.2M277 647.1l6 5.6l-6 5.6l-6 -5.6zM271 652.7l12 11.2m0 -11.2l-12 11.2M277 652.7l6 5.6l-6 5.6l-6 -5.6zM271 658.3l12 11.2m0 -11.2l-12 11.2M277 658.3l6 5.6l-6 5.6l-6 -5.6zM271 663.9l12 11.2m0 -11.2l-12 11.2M277 663.9l6 5.6l-6 5.6l-6 -5.6zM271 669.5l12 11.2m0 -11.2l-12 11.2M277 669.5l6 5.6l-6 5.6l-6 -5.6zM271 675.1l12 11.2m0 -11.2l-12 11.2M277 675.1l6 5.6l-6 5.6l-6 -5.6zM271 680.7l12 11.2m0 -11.2l-12 11.2M277 680.7l6 5.6l-6 5.6l-6 -5.6zM271 686.3l12 11.2m0 -11.2l-12 11.2M277 686.3l6 5.6l-6 5.6l-6 -5.6zM271 691.9l12 11.2m0 -11.2l-12 11.2M277 691.9l6 5.6l-6 5.6l-6 -5.6zM271 697.5l12 11.2m0 -11.2l-12 11.2M277 697.5l6 5.6l-6 5.6l-6 -5.6zM274 638.7l12 11.2m0 -11.2l-12 11.2M280 638.7l6 5.6l-6 5.6l-6 -5.6zM274 644.3l12 11.2m0 -11.2l-12 11.2M280 644.3l6 5.6l-6 5.6l-6 -5.6zM274 649.9l12 11.2m0 -11.2l-12 11.2M280 649.9l6 5.6l-6 5.6l-6 -5.6zM274 655.5l12 11.2m0 -11.2l-12 11.2M280 655.5l6 5.6l-6 5.6l-6 -5.6zM274 661.1l12 11.2m0 -11.2l-12 11.2M280 661.1l6 5.6l-6 5.6l-6 -5.6zM274 666.7l12 11.2m0 -11.2l-12 11.2M280 666.7l6 5.6l-6 5.6l-6 -5.6zM274 672.3l12 11.2m0 -11.2l-12 11.2M280 672.3l6 5.6l-6 5.6l-6 -5.6zM274 677.9l12 11.2m0 -11.2l-12 11.2M280 677.9l6 5.6l-6 5.6l-6 -5.6zM274 694.7l12 11.2m0 -11.2l-12 11.2M280 694.7l6 5.6l-6 5.6l-6 -5.6zM277 635.9l12 11.2m0 -11.2l-12 11.2M283 635.9l6 5.6l-6 5.6l-6 -5.6zM277 641.5l12 11.2m0 -11.2l-12 11.2M283 641.5l6 5.6l-6 5.6l-6 -5.6zM277 647.1l12 11.2m0 -11.2l-12 11.2M283 647.1l6 5.6l-6 5.6l-6 -5.6zM277 652.7l12 11.2m0 -11.2l-12 11.2M283 652.7l6 5.6l-6 5.6l-6 -5.6zM277 658.3l12 11.2m0 -11.2l-12 11.2M283 658.3l6 5.6l-6 5.6l-6 -5.6zM277 663.9l12 11.2m0 -11.2l-12 11.2M283 663.9l6 5.6l-6 5.6l-6 -5.6zM277 675.1l12 11.2m0 -11.2l-12 11.2M283 675.1l6 5.6l-6 5.6l-6 -5.6zM277 680.7l12 11.2m0 -11.2l-12 11.2M283 680.7l6 5.6l-6 5.6l-6 -5.6zM277 686.3l12 11.2m0 -11.2l-12 11.2M283 686.3l6 5.6l-6 5.6l-6 -5.6zM277 691.9l12 11.2m0 -11.2l-12 11.2M283 691.9l6 5.6l-6 5.6l-6 -5.6zM277 697.5l12 11.2m0 -11.2l-12 11.2M283 697.5l6 5.6l-6 5.6l-6 -5.6zM280 638.7l12 11.2m0 -11.2l-12 11.2M286 638.7l6 5.6l-6 5.6l-6 -5.6zM280 644.3l12 11.2m0 -11.2l-12 11.2M286 644.3l6 5.6l-6 5.6l-6 -5.6zM280 649.9l12 11.2m0 -11.2l-12 11.2M286 649.9l6 5.6l-6 5.6l-6 -5.6zM280 655.5l12 11.2m0 -11.2l-12 11.2M286 655.5l6 5.6l-6 5.6l-6 -5.6zM280 661.1l12 11.2m0 -11.2l-12 11.2M286 661.1l6 5.6l-6 5.6l-6 -5.6zM280 666.7l12 11.2m0 -11.2l-12 11.2M286 666.7l6 5.6l-6 5.6l-6 -5.6zM280 672.3l12 11.2m0 -11.2l-12 11.2M286 672.3l6 5.6l-6 5.6l-6 -5.6zM280 683.5l12 11.2m0 -11.2l-12 11.2M286 683.5l6 5.6l-6 5.6l-6 -5.6zM280 689.1l12 11.2m0 -11.2l-12 11.2M286 689.1l6 5.6l-6 5.6l-6 -5.6zM280 694.7l12 11.2m0 -11.2l-12 11.2M286 694.7l6 5.6l-6 5.6l-6 -5.6zM283 635.9l12 11.2m0 -11.2l-12 11.2M289 635.9l6 5.6l-6 5.6l-6 -5.6zM283 641.5l12 11.2m0 -11.2l-12 11.2M289 641.5l6 5.6l-6 5.6l-6 -5.6zM283 647.1l12 11.2m0 -11.2l-12 11.2M289 647.1l6 5.6l-6 5.6l-6 -5.6zM283 652.7l12 11.2m0 -11.2l-12 11.2M289 652.7l6 5.6l-6 5.6l-6 -5.6zM283 663.9l12 11.2m0 -11.2l-12 11.2M289 663.9l6 5.6l-6 5.6l-6 -5.6zM283 669.5l12 11.2m0 -11.2l-12 11.2M289 669.5l6 5.6l-6 5.6l-6 -5.6zM283 675.1l12 11.2m0 -11.2l-12 11.2M289 675.1l6 5.6l-6 5.6l-6 -5.6zM283 680.7l12 11.2m0 -11.2l-12 11.2M289 680.7l6 5.6l-6 5.6l-6 -5.6zM283 686.3l12 11.2m0 -11.2l-12 11.2M289 686.3l6 5.6l-6 5.6l-6 -5.6zM283 691.9l12 11.2m0 -11.2l-12 11.2M289 691.9l6 5.6l-6 5.6l-6 -5.6zM283 697.5l12 11.2m0 -11.2l-12 11.2M289 697.5l6 5.6l-6 5.6l-6 -5.6zM286 633.1l12 11.2m0 -11.2l-12 11.2M292 633.1l6 5.6l-6 5.6l-6 -5.6zM286 644.3l12 11.2m0 -11.2l-12 11.2M292 644.3l6 5.6l-6 5.6l-6 -5.6zM286 649.9l12 11.2m0 -11.2l-12 11.2M292 649.9l6 5.6l-6 5.6l-6 -5.6zM286 655.5l12 11.2m0 -11.2l-12 11.2M292 655.5l6 5.6l-6 5.6l-6 -5.6zM286 661.1l12 11.2m0 -11.2l-12 11.2M292 661.1l6 5.6l-6 5.6l-6 -5.6zM286 666.7l12 11.2m0 -11.2l-12 11.2M292 666.7l6 5.6l-6 5.6l-6 -5.6zM286 672.3l12 11.2m0 -11.2l-12 11.2M292 672.3l6 5.6l-6 5.6l-6 -5.6zM286 677.9l12 11.2m0 -11.2l-12 11.2M292 677.9l6 5.6l-6 5.6l-6 -5.6zM286 683.5l12 11.2m0 -11.2l-12 11.2M292 683.5l6 5.6l-6 5.6l-6 -5.6zM286 689.1l12 11.2m0 -11.2l-12 11.2M292 689.1l6 5.6l-6 5.6l-6 -5.6zM286 694.7l12 11.2m0 -11.2l-12 11.2M292 694.7l6 5.6l-6 5.6l-6 -5.6zM289 630.3l12 11.2m0 -11.2l-12 11.2M295 630.3l6 5.6l-6 5.6l-6 -5.6zM289 635.9l12 11.2m0 -11.2l-12 11.2M295 635.9l6 5.6l-6 5.6l-6 -5.6zM289 641.5l12 11.2m0 -11.2l-12 11.2M295 641.5l6 5.6l-6 5.6l-6 -5.6zM289 647.1l12 11.2m0 -11.2l-12 11.2M295 647.1l6 5.6l-6 5.6l-6 -5.6zM289 652.7l12 11.2m0 -11.2l-12 11.2M295 652.7l6 5.6l-6 5.6l-6 -5.6zM289 658.3l12 11.2m0 -11.2l-12 11.2M295 658.3l6 5.6l-6 5.6l-6 -5.6zM289 669.5l12 11.2m0 -11.2l-12 11.2M295 669.5l6 5.6l-6 5.6l-6 -5.6zM289 675.1l12 11.2m0 -11.2l-12 11.2M295 675.1l6 5.6l-6 5.6l-6 -5.6zM289 680.7l12 11.2m0 -11.2l-12 11.2M295 680.7l6 5.6l-6 5.6l-6 -5.6zM289 686.3l12 11.2m0 -11.2l-12 11.2M295 686.3l6 5.6l-6 5.6l-6 -5.6zM289 691.9l12 11.2m0 -11.2l-12 11.2M295 691.9l6 5.6l-6 5.6l-6 -5.6zM289 697.5l12 11.2m0 -11.2l-12 11.2M295 697.5l6 5.6l-6 5.6l-6 -5.6zM292 633.1l12 11.2m0 -11.2l-12 11.2M298 633.1l6 5.6l-6 5.6l-6 -5.6zM292 638.7l12 11.2m0 -11.2l-12 11.2M298 638.7l6 5.6l-6 5.6l-6 -5.6zM292 644.3l12 11.2m0 -11.2l-12 11.2M298 644.3l6 5.6l-6 5.6l-6 -5.6zM292 655.5l12 11.2m0 -11.2l-12 11.2M298 655.5l6 5.6l-6 5.6l-6 -5.6zM292 661.1l12 11.2m0 -11.2l-12 11.2M298 661.1l6 5.6l-6 5.6l-6 -5.6zM292 666.7l12 11.2m0 -11.2l-12 11.2M298 666.7l6 5.6l-6 5.6l-6 -5.6zM292 677.9l12 11.2m0 -11.2l-12 11.2M298 677.9l6 5.6l-6 5.6l-6 -5.6zM292 683.5l12 11.2m0 -11.2l-12 11.2M298 683.5l6 5.6l-6 5.6l-6 -5.6zM292 689.1l12 11.2m0 -11.2l-12 11.2M298 689.1l6 5.6l-6 5.6l-6 -5.6zM292 694.7l12 11.2m0 -11.2l-12 11.2M298 694.7l6 5.6l-6 5.6l-6 -5.6zM295 630.3l12 11.2m0 -11.2l-12 11.2M301 630.3l6 5.6l-6 5.6l-6 -5.6zM295 635.9l12 11.2m0 -11.2l-12 11.2M301 635.9l6 5.6l-6 5.6l-6 -5.6zM295 641.5l12 11.2m0 -11.2l-12 11.2M301 641.5l6 5.6l-6 5.6l-6 -5.6zM295 647.1l12 11.2m0 -11.2l-12 11.2M301 647.1l6 5.6l-6 5.6l-6 -5.6zM295 652.7l12 11.2m0 -11.2l-12 11.2M301 652.7l6 5.6l-6 5.6l-6 -5.6zM295 658.3l12 11.2m0 -11.2l-12 11.2M301 658.3l6 5.6l-6 5.6l-6 -5.6zM295 669.5l12 11.2m0 -11.2l-12 11.2M301 669.5l6 5.6l-6 5.6l-6 -5.6zM295 675.1l12 11.2m0 -11.2l-12 11.2M301 675.1l6 5.6l-6 5.6l-6 -5.6zM295 680.7l12 11.2m0 -11.2l-12 11.2M301 680.7l6 5.6l-6 5.6l-6 -5.6zM295 691.9l12 11.2m0 -11.2l-12 11.2M301 691.9l6 5.6l-6 5.6l-6 -5.6zM298 627.5l12 11.2m0 -11.2l-12 11.2M304 627.5l6 5.6l-6 5.6l-6 -5.6zM298 633.1l12 11.2m0 -11.2l-12 11.2M304 633.1l6 5.6l-6 5.6l-6 -5.6zM298 638.7l12 11.2m0 -11.2l-12 11.2M304 638.7l6 5.6l-6 5.6l-6 -5.6zM298 644.3l12 11.2m0 -11.2l-12 11.2M304 644.3l6 5.6l-6 5.6l-6 -5.6zM298 649.9l12 11.2m0 -11.2l-12 11.2M304 649.9l6 5.6l-6 5.6l-6 -5.6zM298 655.5l12 11.2m0 -11.2l-12 11.2M304 655.5l6 5.6l-6 5.6l-6 -5.6zM298 661.1l12 11.2m0 -11.2l-12 11.2M304 661.1l6 5.6l-6 5.6l-6 -5.6zM298 666.7l12 11.2m0 -11.2l-12 11.2M304 666.7l6 5.6l-6 5.6l-6 -5.6zM298 672.3l12 11.2m0 -11.2l-12 11.2M304 672.3l6 5.6l-6 5.6l-6 -5.6zM298 677.9l12 11.2m0 -11.2l-12 11.2M304 677.9l6 5.6l-6 5.6l-6 -5.6zM298 689.1l12 11.2m0 -11.2l-12 11.2M304 689.1l6 5.6l-6 5.6l-6 -5.6zM298 694.7l12 11.2m0 -11.2l-12 11.2M304 694.7l6 5.6l-6 5.6l-6 -5.6zM301 630.3l12 11.2m0 -11.2l-12 11.2M307 630.3l6 5.6l-6 5.6l-6 -5.6zM301 635.9l12 11.2m0 -11.2l-12 11.2M307 635.9l6 5.6l-6 5.6l-6 -5.6zM301 641.5l12 11.2m0 -11.2l-12 11.2M307 641.5l6 5.6l-6 5.6l-6 -5.6zM301 647.1l12 11.2m0 -11.2l-12 11.2M307 647.1l6 5.6l-6 5.6l-6 -5.6zM301 652.7l12 11.2m0 -11.2l-12 11.2M307 652.7l6 5.6l-6 5.6l-6 -5.6zM301 658.3l12 11.2m0 -11.2l-12 11.2M307 658.3l6 5.6l-6 5.6l-6 -5.6zM301 669.5l12 11.2m0 -11.2l-12 11.2M307 669.5l6 5.6l-6 5.6l-6 -5.6zM301 675.1l12 11.2m0 -11.2l-12 11.2M307 675.1l6 5.6l-6 5.6l-6 -5.6zM301 686.3l12 11.2m0 -11.2l-12 11.2M307 686.3l6 5.6l-6 5.6l-6 -5.6zM301 691.9l12 11.2m0 -11.2l-12 11.2M307 691.9l6 5.6l-6 5.6l-6 -5.6zM304 627.5l12 11.2m0 -11.2l-12 11.2M310 627.5l6 5.6l-6 5.6l-6 -5.6zM304 633.1l12 11.2m0 -11.2l-12 11.2M310 633.1l6 5.6l-6 5.6l-6 -5.6zM304 638.7l12 11.2m0 -11.2l-12 11.2M310 638.7l6 5.6l-6 5.6l-6 -5.6zM304 655.5l12 11.2m0 -11.2l-12 11.2M310 655.5l6 5.6l-6 5.6l-6 -5.6zM304 661.1l12 11.2m0 -11.2l-12 11.2M310 661.1l6 5.6l-6 5.6l-6 -5.6zM304 666.7l12 11.2m0 -11.2l-12 11.2M310 666.7l6 5.6l-6 5.6l-6 -5.6zM304 672.3l12 11.2m0 -11.2l-12 11.2M310 672.3l6 5.6l-6 5.6l-6 -5.6zM304 677.9l12 11.2m0 -11.2l-12 11.2M310 677.9l6 5.6l-6 5.6l-6 -5.6zM307 624.7l12 11.2m0 -11.2l-12 11.2M313 624.7l6 5.6l-6 5.6l-6 -5.6zM307 635.9l12 11.2m0 -11.2l-12 11.2M313 635.9l6 5.6l-6 5.6l-6 -5.6zM307 641.5l12 11.2m0 -11.2l-12 11.2M313 641.5l6 5.6l-6 5.6l-6 -5.6zM307 647.1l12 11.2m0 -11.2l-12 11.2M313 647.1l6 5.6l-6 5.6l-6 -5.6zM307 652.7l12 11.2m0 -11.2l-12 11.2M313 652.7l6 5.6l-6 5.6l-6 -5.6zM307 658.3l12 11.2m0 -11.2l-12 11.2M313 658.3l6 5.6l-6 5.6l-6 -5.6zM307 663.9l12 11.2m0 -11.2l-12 11.2M313 663.9l6 5.6l-6 5.6l-6 -5.6zM307 669.5l12 11.2m0 -11.2l-12 11.2M313 669.5l6 5.6l-6 5.6l-6 -5.6zM307 675.1l12 11.2m0 -11.2l-12 11.2M313 675.1l6 5.6l-6 5.6l-6 -5.6zM307 680.7l12 11.2m0 -11.2l-12 11.2M313 680.7l6 5.6l-6 5.6l-6 -5.6zM307 686.3l12 11.2m0 -11.2l-12 11.2M313 686.3l6 5.6l-6 5.6l-6 -5.6zM307 691.9l12 11.2m0 -11.2l-12 11.2M313 691.9l6 5.6l-6 5.6l-6 -5.6zM310 627.5l12 11.2m0 -11.2l-12 11.2M316 627.5l6 5.6l-6 5.6l-6 -5.6zM310 633.1l12 11.2m0 -11.2l-12 11.2M316 633.1l6 5.6l-6 5.6l-6 -5.6zM310 638.7l12 11.2m0 -11.2l-12 11.2M316 638.7l6 5.6l-6 5.6l-6 -5.6zM310 644.3l12 11.2m0 -11.2l-12 11.2M316 644.3l6 5.6l-6 5.6l-6 -5.6zM310 649.9l12 11.2m0 -11.2l-12 11.2M316 649.9l6 5.6l-6 5.6l-6 -5.6zM310 661.1l12 11.2m0 -11.2l-12 11.2M316 661.1l6 5.6l-6 5.6l-6 -5.6zM310 666.7l12 11.2m0 -11.2l-12 11.2M316 666.7l6 5.6l-6 5.6l-6 -5.6zM310 672.3l12 11.2m0 -11.2l-12 11.2M316 672.3l6 5.6l-6 5.6l-6 -5.6zM310 677.9l12 11.2m0 -11.2l-12 11.2M316 677.9l6 5.6l-6 5.6l-6 -5.6zM310 683.5l12 11.2m0 -11.2l-12 11.2M316 683.5l6 5.6l-6 5.6l-6 -5.6zM310 689.1l12 11.2m0 -11.2l-12 11.2M316 689.1l6 5.6l-6 5.6l-6 -5.6zM313 635.9l12 11.2m0 -11.2l-12 11.2M319 635.9l6 5.6l-6 5.6l-6 -5.6zM313 647.1l12 11.2m0 -11.2l-12 11.2M319 647.1l6 5.6l-6 5.6l-6 -5.6zM313 652.7l12 11.2m0 -11.2l-12 11.2M319 652.7l6 5.6l-6 5.6l-6 -5.6zM313 658.3l12 11.2m0 -11.2l-12 11.2M319 658.3l6 5.6l-6 5.6l-6 -5.6zM313 663.9l12 11.2m0 -11.2l-12 11.2M319 663.9l6 5.6l-6 5.6l-6 -5.6zM313 669.5l12 11.2m0 -11.2l-12 11.2M319 669.5l6 5.6l-6 5.6l-6 -5.6zM313 675.1l12 11.2m0 -11.2l-12 11.2M319 675.1l6 5.6l-6 5.6l-6 -5.6zM313 680.7l12 11.2m0 -11.2l-12 11.2M319 680.7l6 5.6l-6 5.6l-6 -5.6zM313 686.3l12 11.2m0 -11.2l-12 11.2M319 686.3l6 5.6l-6 5.6l-6 -5.6zM316 621.9l12 11.2m0 -11.2l-12 11.2M322 621.9l6 5.6l-6 5.6l-6 -5.6zM316 633.1l12 11.2m0 -11.2l-12 11.2M322 633.1l6 5.6l-6 5.6l-6 -5.6zM316 638.7l12 11.2m0 -11.2l-12 11.2M322 638.7l6 5.6l-6 5.6l-6 -5.6zM316 644.3l12 11.2m0 -11.2l-12 11.2M322 644.3l6 5.6l-6 5.6l-6 -5.6zM316 649.9l12 11.2m0 -11.2l-12 11.2M322 649.9l6 5.6l-6 5.6l-6 -5.6zM316 655.5l12 11.2m0 -11.2l-12 11.2M322 655.5l6 5.6l-6 5.6l-6 -5.6zM316 661.1l12 11.2m0 -11.2l-12 11.2M322 661.1l6 5.6l-6 5.6l-6 -5.6zM316 666.7l12 11.2m0 -11.2l-12 11.2M322 666.7l6 5.6l-6 5.6l-6 -5.6zM316 672.3l12 11.2m0 -11.2l-12 11.2M322 672.3l6 5.6l-6 5.6l-6 -5.6zM316 677.9l12 11.2m0 -11.2l-12 11.2M322 677.9l6 5.6l-6 5.6l-6 -5.6zM316 683.5l12 11.2m0 -11.2l-12 11.2M322 683.5l6 5.6l-6 5.6l-6 -5.6zM316 689.1l12 11.2m0 -11.2l-12 11.2M322 689.1l6 5.6l-6 5.6l-6 -5.6zM319 624.7l12 11.2m0 -11.2l-12 11.2M325 624.7l6 5.6l-6 5.6l-6 -5.6zM319 635.9l12 11.2m0 -11.2l-12 11.2M325 635.9l6 5.6l-6 5.6l-6 -5.6zM319 641.5l12 11.2m0 -11.2l-12 11.2M325 641.5l6 5.6l-6 5.6l-6 -5.6zM319 652.7l12 11.2m0 -11.2l-12 11.2M325 652.7l6 5.6l-6 5.6l-6 -5.6zM319 658.3l12 11.2m0 -11.2l-12 11.2M325 658.3l6 5.6l-6 5.6l-6 -5.6zM319 663.9l12 11.2m0 -11.2l-12 11.2M325 663.9l6 5.6l-6 5.6l-6 -5.6zM319 669.5l12 11.2m0 -11.2l-12 11.2M325 669.5l6 5.6l-6 5.6l-6 -5.6zM319 675.1l12 11.2m0 -11.2l-12 11.2M325 675.1l6 5.6l-6 5.6l-6 -5.6zM319 680.7l12 11.2m0 -11.2l-12 11.2M325 680.7l6 5.6l-6 5.6l-6 -5.6zM319 686.3l12 11.2m0 -11.2l-12 11.2M325 686.3l6 5.6l-6 5.6l-6 -5.6zM322 621.9l12 11.2m0 -11.2l-12 11.2M328 621.9l6 5.6l-6 5.6l-6 -5.6zM322 627.5l12 11.2m0 -11.2l-12 11.2M328 627.5l6 5.6l-6 5.6l-6 -5.6zM322 633.1l12 11.2m0 -11.2l-12 11.2M328 633.1l6 5.6l-6 5.6l-6 -5.6zM322 638.7l12 11.2m0 -11.2l-12 11.2M328 638.7l6 5.6l-6 5.6l-6 -5.6zM322 644.3l12 11.2m0 -11.2l-12 11.2M328 644.3l6 5.6l-6 5.6l-6 -5.6zM322 649.9l12 11.2m0 -11.2l-12 11.2M328 649.9l6 5.6l-6 5.6l-6 -5.6zM322 655.5l12 11.2m0 -11.2l-12 11.2M328 655.5l6 5.6l-6 5.6l-6 -5.6zM322 661.1l12 11.2m0 -11.2l-12 11.2M328 661.1l6 5.6l-6 5.6l-6 -5.6zM322 666.7l12 11.2m0 -11.2l-12 11.2M328 666.7l6 5.6l-6 5.6l-6 -5.6zM322 672.3l12 11.2m0 -11.2l-12 11.2M328 672.3l6 5.6l-6 5.6l-6 -5.6zM322 683.5l12 11.2m0 -11.2l-12 11.2M328 683.5l6 5.6l-6 5.6l-6 -5.6zM325 619.1l12 11.2m0 -11.2l-12 11.2M331 619.1l6 5.6l-6 5.6l-6 -5.6zM325 624.7l12 11.2m0 -11.2l-12 11.2M331 624.7l6 5.6l-6 5.6l-6 -5.6zM325 630.3l12 11.2m0 -11.2l-12 11.2M331 630.3l6 5.6l-6 5.6l-6 -5.6zM325 635.9l12 11.2m0 -11.2l-12 11.2M331 635.9l6 5.6l-6 5.6l-6 -5.6zM325 641.5l12 11.2m0 -11.2l-12 11.2M331 641.5l6 5.6l-6 5.6l-6 -5.6zM325 647.1l12 11.2m0 -11.2l-12 11.2M331 647.1l6 5.6l-6 5.6l-6 -5.6zM325 652.7l12 11.2m0 -11.2l-12 11.2M331 652.7l6 5.6l-6 5.6l-6 -5.6zM325 658.3l12 11.2m0 -11.2l-12 11.2M331 658.3l6 5.6l-6 5.6l-6 -5.6zM325 663.9l12 11.2m0 -11.2l-12 11.2M331 663.9l6 5.6l-6 5.6l-6 -5.6zM325 669.5l12 11.2m0 -11.2l-12 11.2M331 669.5l6 5.6l-6 5.6l-6 -5.6zM325 675.1l12 11.2m0 -11.2l-12 11.2M331 675.1l6 5.6l-6 5.6l-6 -5.6zM325 680.7l12 11.2m0 -11.2l-12 11.2M331 680.7l6 5.6l-6 5.6l-6 -5.6zM328 621.9l12 11.2m0 -11.2l-12 11.2M334 621.9l6 5.6l-6 5.6l-6 -5.6zM328 627.5l12 11.2m0 -11.2l-12 11.2M334 627.5l6 5.6l-6 5.6l-6 -5.6zM328 633.1l12 11.2m0 -11.2l-12 11.2M334 633.1l6 5.6l-6 5.6l-6 -5.6zM328 638.7l12 11.2m0 -11.2l-12 11.2M334 638.7l6 5.6l-6 5.6l-6 -5.6zM328 644.3l12 11.2m0 -11.2l-12 11.2M334 644.3l6 5.6l-6 5.6l-6 -5.6zM328 649.9l12 11.2m0 -11.2l-12 11.2M334 649.9l6 5.6l-6 5.6l-6 -5.6zM328 655.5l12 11.2m0 -11.2l-12 11.2M334 655.5l6 5.6l-6 5.6l-6 -5.6zM328 661.1l12 11.2m0 -11.2l-12 11.2M334 661.1l6 5.6l-6 5.6l-6 -5.6zM328 666.7l12 11.2m0 -11.2l-12 11.2M334 666.7l6 5.6l-6 5.6l-6 -5.6zM328 672.3l12 11.2m0 -11.2l-12 11.2M334 672.3l6 5.6l-6 5.6l-6 -5.6zM328 677.9l12 11.2m0 -11.2l-12 11.2M334 677.9l6 5.6l-6 5.6l-6 -5.6zM328 683.5l12 11.2m0 -11.2l-12 11.2M334 683.5l6 5.6l-6 5.6l-6 -5.6zM331 619.1l12 11.2m0 -11.2l-12 11.2M337 619.1l6 5.6l-6 5.6l-6 -5.6zM331 624.7l12 11.2m0 -11.2l-12 11.2M337 624.7l6 5.6l-6 5.6l-6 -5.6zM331 630.3l12 11.2m0 -11.2l-12 11.2M337 630.3l6 5.6l-6 5.6l-6 -5.6zM331 635.9l12 11.2m0 -11.2l-12 11.2M337 635.9l6 5.6l-6 5.6l-6 -5.6zM331 641.5l12 11.2m0 -11.2l-12 11.2M337 641.5l6 5.6l-6 5.6l-6 -5.6zM331 647.1l12 11.2m0 -11.2l-12 11.2M337 647.1l6 5.6l-6 5.6l-6 -5.6zM331 652.7l12 11.2m0 -11.2l-12 11.2M337 652.7l6 5.6l-6 5.6l-6 -5.6zM331 658.3l12 11.2m0 -11.2l-12 11.2M337 658.3l6 5.6l-6 5.6l-6 -5.6zM331 663.9l12 11.2m0 -11.2l-12 11.2M337 663.9l6 5.6l-6 5.6l-6 -5.6zM331 680.7l12 11.2m0 -11.2l-12 11.2M337 680.7l6 5.6l-6 5.6l-6 -5.6zM334 616.3l12 11.2m0 -11.2l-12 11.2M340 616.3l6 5.6l-6 5.6l-6 -5.6zM334 621.9l12 11.2m0 -11.2l-12 11.2M340 621.9l6 5.6l-6 5.6l-6 -5.6zM334 627.5l12 11.2m0 -11.2l-12 11.2M340 627.5l6 5.6l-6 5.6l-6 -5.6zM334 638.7l12 11.2m0 -11.2l-12 11.2M340 638.7l6 5.6l-6 5.6l-6 -5.6zM334 644.3l12 11.2m0 -11.2l-12 11.2M340 644.3l6 5.6l-6 5.6l-6 -5.6zM334 655.5l12 11.2m0 -11.2l-12 11.2M340 655.5l6 5.6l-6 5.6l-6 -5.6zM334 661.1l12 11.2m0 -11.2l-12 11.2M340 661.1l6 5.6l-6 5.6l-6 -5.6zM334 666.7l12 11.2m0 -11.2l-12 11.2M340 666.7l6 5.6l-6 5.6l-6 -5.6zM334 672.3l12 11.2m0 -11.2l-12 11.2M340 672.3l6 5.6l-6 5.6l-6 -5.6zM334 677.9l12 11.2m0 -11.2l-12 11.2M340 677.9l6 5.6l-6 5.6l-6 -5.6zM337 619.1l12 11.2m0 -11.2l-12 11.2M343 619.1l6 5.6l-6 5.6l-6 -5.6zM337 624.7l12 11.2m0 -11.2l-12 11.2M343 624.7l6 5.6l-6 5.6l-6 -5.6zM337 630.3l12 11.2m0 -11.2l-12 11.2M343 630.3l6 5.6l-6 5.6l-6 -5.6zM337 635.9l12 11.2m0 -11.2l-12 11.2M343 635.9l6 5.6l-6 5.6l-6 -5.6zM337 641.5l12 11.2m0 -11.2l-12 11.2M343 641.5l6 5.6l-6 5.6l-6 -5.6zM337 647.1l12 11.2m0 -11.2l-12 11.2M343 647.1l6 5.6l-6 5.6l-6 -5.6zM337 652.7l12 11.2m0 -11.2l-12 11.2M343 652.7l6 5.6l-6 5.6l-6 -5.6zM337 658.3l12 11.2m0 -11.2l-12 11.2M343 658.3l6 5.6l-6 5.6l-6 -5.6zM337 663.9l12 11.2m0 -11.2l-12 11.2M343 663.9l6 5.6l-6 5.6l-6 -5.6zM337 669.5l12 11.2m0 -11.2l-12 11.2M343 669.5l6 5.6l-6 5.6l-6 -5.6zM337 675.1l12 11.2m0 -11.2l-12 11.2M343 675.1l6 5.6l-6 5.6l-6 -5.6zM340 627.5l12 11.2m0 -11.2l-12 11.2M346 627.5l6 5.6l-6 5.6l-6 -5.6zM340 633.1l12 11.2m0 -11.2l-12 11.2M346 633.1l6 5.6l-6 5.6l-6 -5.6zM340 638.7l12 11.2m0 -11.2l-12 11.2M346 638.7l6 5.6l-6 5.6l-6 -5.6zM340 644.3l12 11.2m0 -11.2l-12 11.2M346 644.3l6 5.6l-6 5.6l-6 -5.6zM340 649.9l12 11.2m0 -11.2l-12 11.2M346 649.9l6 5.6l-6 5.6l-6 -5.6zM340 655.5l12 11.2m0 -11.2l-12 11.2M346 655.5l6 5.6l-6 5.6l-6 -5.6zM340 661.1l12 11.2m0 -11.2l-12 11.2M346 661.1l6 5.6l-6 5.6l-6 -5.6zM340 666.7l12 11.2m0 -11.2l-12 11.2M346 666.7l6 5.6l-6 5.6l-6 -5.6zM343 613.5l12 11.2m0 -11.2l-12 11.2M349 613.5l6 5.6l-6 5.6l-6 -5.6zM343 624.7l12 11.2m0 -11.2l-12 11.2M349 624.7l6 5.6l-6 5.6l-6 -5.6zM343 630.3l12 11.2m0 -11.2l-12 11.2M349 630.3l6 5.6l-6 5.6l-6 -5.6zM343 641.5l12 11.2m0 -11.2l-12 11.2M349 641.5l6 5.6l-6 5.6l-6 -5.6zM343 652.7l12 11.2m0 -11.2l-12 11.2M349 652.7l6 5.6l-6 5.6l-6 -5.6zM343 658.3l12 11.2m0 -11.2l-12 11.2M349 658.3l6 5.6l-6 5.6l-6 -5.6zM343 663.9l12 11.2m0 -11.2l-12 11.2M349 663.9l6 5.6l-6 5.6l-6 -5.6zM343 669.5l12 11.2m0 -11.2l-12 11.2M349 669.5l6 5.6l-6 5.6l-6 -5.6zM346 621.9l12 11.2m0 -11.2l-12 11.2M352 621.9l6 5.6l-6 5.6l-6 -5.6zM346 627.5l12 11.2m0 -11.2l-12 11.2M352 627.5l6 5.6l-6 5.6l-6 -5.6zM346 633.1l12 11.2m0 -11.2l-12 11.2M352 633.1l6 5.6l-6 5.6l-6 -5.6zM346 638.7l12 11.2m0 -11.2l-12 11.2M352 638.7l6 5.6l-6 5.6l-6 -5.6zM346 644.3l12 11.2m0 -11.2l-12 11.2M352 644.3l6 5.6l-6 5.6l-6 -5.6zM346 649.9l12 11.2m0 -11.2l-12 11.2M352 649.9l6 5.6l-6 5.6l-6 -5.6zM346 655.5l12 11.2m0 -11.2l-12 11.2M352 655.5l6 5.6l-6 5.6l-6 -5.6zM346 661.1l12 11.2m0 -11.2l-12 11.2M352 661.1l6 5.6l-6 5.6l-6 -5.6zM346 666.7l12 11.2m0 -11.2l-12 11.2M352 666.7l6 5.6l-6 5.6l-6 -5.6zM346 672.3l12 11.2m0 -11.2l-12 11.2M352 672.3l6 5.6l-6 5.6l-6 -5.6zM349 613.5l12 11.2m0 -11.2l-12 11.2M355 613.5l6 5.6l-6 5.6l-6 -5.6zM349 619.1l12 11.2m0 -11.2l-12 11.2M355 619.1l6 5.6l-6 5.6l-6 -5.6zM349 624.7l12 11.2m0 -11.2l-12 11.2M355 624.7l6 5.6l-6 5.6l-6 -5.6zM349 630.3l12 11.2m0 -11.2l-12 11.2M355 630.3l6 5.6l-6 5.6l-6 -5.6zM349 635.9l12 11.2m0 -11.2l-12 11.2M355 635.9l6 5.6l-6 5.6l-6 -5.6zM349 641.5l12 11.2m0 -11.2l-12 11.2M355 641.5l6 5.6l-6 5.6l-6 -5.6zM349 647.1l12 11.2m0 -11.2l-12 11.2M355 647.1l6 5.6l-6 5.6l-6 -5.6zM349 652.7l12 11.2m0 -11.2l-12 11.2M355 652.7l6 5.6l-6 5.6l-6 -5.6zM349 663.9l12 11.2m0 -11.2l-12 11.2M355 663.9l6 5.6l-6 5.6l-6 -5.6zM349 669.5l12 11.2m0 -11.2l-12 11.2M355 669.5l6 5.6l-6 5.6l-6 -5.6zM352 610.7l12 11.2m0 -11.2l-12 11.2M358 610.7l6 5.6l-6 5.6l-6 -5.6zM352 616.3l12 11.2m0 -11.2l-12 11.2M358 616.3l6 5.6l-6 5.6l-6 -5.6zM352 621.9l12 11.2m0 -11.2l-12 11.2M358 621.9l6 5.6l-6 5.6l-6 -5.6zM352 627.5l12 11.2m0 -11.2l-12 11.2M358 627.5l6 5.6l-6 5.6l-6 -5.6zM352 633.1l12 11.2m0 -11.2l-12 11.2M358 633.1l6 5.6l-6 5.6l-6 -5.6zM352 638.7l12 11.2m0 -11.2l-12 11.2M358 638.7l6 5.6l-6 5.6l-6 -5.6zM352 644.3l12 11.2m0 -11.2l-12 11.2M358 644.3l6 5.6l-6 5.6l-6 -5.6zM352 649.9l12 11.2m0 -11.2l-12 11.2M358 649.9l6 5.6l-6 5.6l-6 -5.6zM352 655.5l12 11.2m0 -11.2l-12 11.2M358 655.5l6 5.6l-6 5.6l-6 -5.6zM352 661.1l12 11.2m0 -11.2l-12 11.2M358 661.1l6 5.6l-6 5.6l-6 -5.6zM352 666.7l12 11.2m0 -11.2l-12 11.2M358 666.7l6 5.6l-6 5.6l-6 -5.6zM352 672.3l12 11.2m0 -11.2l-12 11.2M358 672.3l6 5.6l-6 5.6l-6 -5.6zM355 607.9l12 11.2m0 -11.2l-12 11.2M361 607.9l6 5.6l-6 5.6l-6 -5.6zM355 613.5l12 11.2m0 -11.2l-12 11.2M361 613.5l6 5.6l-6 5.6l-6 -5.6zM355 619.1l12 11.2m0 -11.2l-12 11.2M361 619.1l6 5.6l-6 5.6l-6 -5.6zM355 624.7l12 11.2m0 -11.2l-12 11.2M361 624.7l6 5.6l-6 5.6l-6 -5.6zM355 630.3l12 11.2m0 -11.2l-12 11.2M361 630.3l6 5.6l-6 5.6l-6 -5.6zM355 635.9l12 11.2m0 -11.2l-12 11.2M361 635.9l6 5.6l-6 5.6l-6 -5.6zM355 641.5l12 11.2m0 -11.2l-12 11.2M361 641.5l6 5.6l-6 5.6l-6 -5.6zM355 647.1l12 11.2m0 -11.2l-12 11.2M361 647.1l6 5.6l-6 5.6l-6 -5.6zM355 652.7l12 11.2m0 -11.2l-12 11.2M361 652.7l6 5.6l-6 5.6l-6 -5.6zM355 658.3l12 11.2m0 -11.2l-12 11.2M361 658.3l6 5.6l-6 5.6l-6 -5.6zM355 663.9l12 11.2m0 -11.2l-12 11.2M361 663.9l6 5.6l-6 5.6l-6 -5.6zM355 669.5l12 11.2m0 -11.2l-12 11.2M361 669.5l6 5.6l-6 5.6l-6 -5.6zM358 610.7l12 11.2m0 -11.2l-12 11.2M364 610.7l6 5.6l-6 5.6l-6 -5.6zM358 616.3l12 11.2m0 -11.2l-12 11.2M364 616.3l6 5.6l-6 5.6l-6 -5.6zM358 621.9l12 11.2m0 -11.2l-12 11.2M364 621.9l6 5.6l-6 5.6l-6 -5.6zM358 633.1l12 11.2m0 -11.2l-12 11.2M364 633.1l6 5.6l-6 5.6l-6 -5.6zM358 638.7l12 11.2m0 -11.2l-12 11.2M364 638.7l6 5.6l-6 5.6l-6 -5.6zM358 644.3l12 11.2m0 -11.2l-12 11.2M364 644.3l6 5.6l-6 5.6l-6 -5.6zM358 649.9l12 11.2m0 -11.2l-12 11.2M364 649.9l6 5.6l-6 5.6l-6 -5.6zM358 655.5l12 11.2m0 -11.2l-12 11.2M364 655.5l6 5.6l-6 5.6l-6 -5.6zM358 661.1l12 11.2m0 -11.2l-12 11.2M364 661.1l6 5.6l-6 5.6l-6 -5.6zM358 666.7l12 11.2m0 -11.2l-12 11.2M364 666.7l6 5.6l-6 5.6l-6 -5.6zM361 607.9l12 11.2m0 -11.2l-12 11.2M367 607.9l6 5.6l-6 5.6l-6 -5.6zM361 613.5l12 11.2m0 -11.2l-12 11.2M367 613.5l6 5.6l-6 5.6l-6 -5.6zM361 619.1l12 11.2m0 -11.2l-12 11.2M367 619.1l6 5.6l-6 5.6l-6 -5.6zM361 624.7l12 11.2m0 -11.2l-12 11.2M367 624.7l6 5.6l-6 5.6l-6 -5.6zM361 630.3l12 11.2m0 -11.2l-12 11.2M367 630.3l6 5.6l-6 5.6l-6 -5.6zM361 641.5l12 11.2m0 -11.2l-12 11.2M367 641.5l6 5.6l-6 5.6l-6 -5.6zM361 647.1l12 11.2m0 -11.2l-12 11.2M367 647.1l6 5.6l-6 5.6l-6 -5.6zM361 652.7l12 11.2m0 -11.2l-12 11.2M367 652.7l6 5.6l-6 5.6l-6 -5.6zM361 658.3l12 11.2m0 -11.2l-12 11.2M367 658.3l6 5.6l-6 5.6l-6 -5.6zM361 663.9l12 11.2m0 -11.2l-12 11.2M367 663.9l6 5.6l-6 5.6l-6 -5.6zM361 669.5l12 11.2m0 -11.2l-12 11.2M367 669.5l6 5.6l-6 5.6l-6 -5.6zM364 605.1l12 11.2m0 -11.2l-12 11.2M370 605.1l6 5.6l-6 5.6l-6 -5.6zM364 610.7l12 11.2m0 -11.2l-12 11.2M370 610.7l6 5.6l-6 5.6l-6 -5.6zM364 621.9l12 11.2m0 -11.2l-12 11.2M370 621.9l6 5.6l-6 5.6l-6 -5.6zM364 627.5l12 11.2m0 -11.2l-12 11.2M370 627.5l6 5.6l-6 5.6l-6 -5.6zM364 633.1l12 11.2m0 -11.2l-12 11.2M370 633.1l6 5.6l-6 5.6l-6 -5.6zM364 638.7l12 11.2m0 -11.2l-12 11.2M370 638.7l6 5.6l-6 5.6l-6 -5.6zM364 644.3l12 11.2m0 -11.2l-12 11.2M370 644.3l6 5.6l-6 5.6l-6 -5.6zM364 649.9l12 11.2m0 -11.2l-12 11.2M370 649.9l6 5.6l-6 5.6l-6 -5.6zM364 655.5l12 11.2m0 -11.2l-12 11.2M370 655.5l6 5.6l-6 5.6l-6 -5.6zM364 661.1l12 11.2m0 -11.2l-12 11.2M370 661.1l6 5.6l-6 5.6l-6 -5.6zM367 602.3l12 11.2m0 -11.2l-12 11.2M373 602.3l6 5.6l-6 5.6l-6 -5.6zM367 613.5l12 11.2m0 -11.2l-12 11.2M373 613.5l6 5.6l-6 5.6l-6 -5.6zM367 619.1l12 11.2m0 -11.2l-12 11.2M373 619.1l6 5.6l-6 5.6l-6 -5.6zM367 635.9l12 11.2m0 -11.2l-12 11.2M373 635.9l6 5.6l-6 5.6l-6 -5.6zM367 641.5l12 11.2m0 -11.2l-12 11.2M373 641.5l6 5.6l-6 5.6l-6 -5.6zM367 647.1l12 11.2m0 -11.2l-12 11.2M373 647.1l6 5.6l-6 5.6l-6 -5.6zM367 658.3l12 11.2m0 -11.2l-12 11.2M373 658.3l6 5.6l-6 5.6l-6 -5.6zM367 663.9l12 11.2m0 -11.2l-12 11.2M373 663.9l6 5.6l-6 5.6l-6 -5.6zM370 599.5l12 11.2m0 -11.2l-12 11.2M376 599.5l6 5.6l-6 5.6l-6 -5.6zM370 605.1l12 11.2m0 -11.2l-12 11.2M376 605.1l6 5.6l-6 5.6l-6 -5.6zM370 610.7l12 11.2m0 -11.2l-12 11.2M376 610.7l6 5.6l-6 5.6l-6 -5.6zM370 616.3l12 11.2m0 -11.2l-12 11.2M376 616.3l6 5.6l-6 5.6l-6 -5.6zM370 621.9l12 11.2m0 -11.2l-12 11.2M376 621.9l6 5.6l-6 5.6l-6 -5.6zM370 633.1l12 11.2m0 -11.2l-12 11.2M376 633.1l6 5.6l-6 5.6l-6 -5.6zM370 638.7l12 11.2m0 -11.2l-12 11.2M376 638.7l6 5.6l-6 5.6l-6 -5.6zM370 644.3l12 11.2m0 -11.2l-12 11.2M376 644.3l6 5.6l-6 5.6l-6 -5.6zM370 649.9l12 11.2m0 -11.2l-12 11.2M376 649.9l6 5.6l-6 5.6l-6 -5.6zM370 655.5l12 11.2m0 -11.2l-12 11.2M376 655.5l6 5.6l-6 5.6l-6 -5.6zM370 666.7l12 11.2m0 -11.2l-12 11.2M376 666.7l6 5.6l-6 5.6l-6 -5.6zM373 602.3l12 11.2m0 -11.2l-12 11.2M379 602.3l6 5.6l-6 5.6l-6 -5.6zM373 607.9l12 11.2m0 -11.2l-12 11.2M379 607.9l6 5.6l-6 5.6l-6 -5.6zM373 613.5l12 11.2m0 -11.2l-12 11.2M379 613.5l6 5.6l-6 5.6l-6 -5.6zM373 619.1l12 11.2m0 -11.2l-12 11.2M379 619.1l6 5.6l-6 5.6l-6 -5.6zM373 624.7l12 11.2m0 -11.2l-12 11.2M379 624.7l6 5.6l-6 5.6l-6 -5.6zM373 630.3l12 11.2m0 -11.2l-12 11.2M379 630.3l6 5.6l-6 5.6l-6 -5.6zM373 635.9l12 11.2m0 -11.2l-12 11.2M379 635.9l6 5.6l-6 5.6l-6 -5.6zM373 641.5l12 11.2m0 -11.2l-12 11.2M379 641.5l6 5.6l-6 5.6l-6 -5.6zM373 647.1l12 11.2m0 -11.2l-12 11.2M379 647.1l6 5.6l-6 5.6l-6 -5.6zM373 652.7l12 11.2m0 -11.2l-12 11.2M379 652.7l6 5.6l-6 5.6l-6 -5.6zM373 658.3l12 11.2m0 -11.2l-12 11.2M379 658.3l6 5.6l-6 5.6l-6 -5.6zM373 663.9l12 11.2m0 -11.2l-12 11.2M379 663.9l6 5.6l-6 5.6l-6 -5.6zM376 599.5l12 11.2m0 -11.2l-12 11.2M382 599.5l6 5.6l-6 5.6l-6 -5.6zM376 605.1l12 11.2m0 -11.2l-12 11.2M382 605.1l6 5.6l-6 5.6l-6 -5.6zM376 610.7l12 11.2m0 -11.2l-12 11.2M382 610.7l6 5.6l-6 5.6l-6 -5.6zM376 616.3l12 11.2m0 -11.2l-12 11.2M382 616.3l6 5.6l-6 5.6l-6 -5.6zM376 621.9l12 11.2m0 -11.2l-12 11.2M382 621.9l6 5.6l-6 5.6l-6 -5.6zM376 627.5l12 11.2m0 -11.2l-12 11.2M382 627.5l6 5.6l-6 5.6l-6 -5.6zM376 633.1l12 11.2m0 -11.2l-12 11.2M382 633.1l6 5.6l-6 5.6l-6 -5.6zM376 638.7l12 11.2m0 -11.2l-12 11.2M382 638.7l6 5.6l-6 5.6l-6 -5.6zM376 644.3l12 11.2m0 -11.2l-12 11.2M382 644.3l6 5.6l-6 5.6l-6 -5.6zM376 661.1l12 11.2m0 -11.2l-12 11.2M382 661.1l6 5.6l-6 5.6l-6 -5.6zM379 602.3l12 11.2m0 -11.2l-12 11.2M385 602.3l6 5.6l-6 5.6l-6 -5.6zM379 607.9l12 11.2m0 -11.2l-12 11.2M385 607.9l6 5.6l-6 5.6l-6 -5.6zM379 613.5l12 11.2m0 -11.2l-12 11.2M385 613.5l6 5.6l-6 5.6l-6 -5.6zM379 619.1l12 11.2m0 -11.2l-12 11.2M385 619.1l6 5.6l-6 5.6l-6 -5.6zM379 624.7l12 11.2m0 -11.2l-12 11.2M385 624.7l6 5.6l-6 5.6l-6 -5.6zM379 635.9l12 11.2m0 -11.2l-12 11.2M385 635.9l6 5.6l-6 5.6l-6 -5.6zM379 641.5l12 11.2m0 -11.2l-12 11.2M385 641.5l6 5.6l-6 5.6l-6 -5.6zM379 647.1l12 11.2m0 -11.2l-12 11.2M385 647.1l6 5.6l-6 5.6l-6 -5.6zM379 652.7l12 11.2m0 -11.2l-12 11.2M385 652.7l6 5.6l-6 5.6l-6 -5.6zM379 658.3l12 11.2m0 -11.2l-12 11.2M385 658.3l6 5.6l-6 5.6l-6 -5.6zM379 663.9l12 11.2m0 -11.2l-12 11.2M385 663.9l6 5.6l-6 5.6l-6 -5.6zM382 599.5l12 11.2m0 -11.2l-12 11.2M388 599.5l6 5.6l-6 5.6l-6 -5.6zM382 605.1l12 11.2m0 -11.2l-12 11.2M388 605.1l6 5.6l-6 5.6l-6 -5.6zM382 610.7l12 11.2m0 -11.2l-12 11.2M388 610.7l6 5.6l-6 5.6l-6 -5.6zM382 616.3l12 11.2m0 -11.2l-12 11.2M388 616.3l6 5.6l-6 5.6l-6 -5.6zM382 621.9l12 11.2m0 -11.2l-12 11.2M388 621.9l6 5.6l-6 5.6l-6 -5.6zM382 627.5l12 11.2m0 -11.2l-12 11.2M388 627.5l6 5.6l-6 5.6l-6 -5.6zM382 638.7l12 11.2m0 -11.2l-12 11.2M388 638.7l6 5.6l-6 5.6l-6 -5.6zM382 644.3l12 11.2m0 -11.2l-12 11.2M388 644.3l6 5.6l-6 5.6l-6 -5.6zM382 649.9l12 11.2m0 -11.2l-12 11.2M388 649.9l6 5.6l-6 5.6l-6 -5.6zM382 655.5l12 11.2m0 -11.2l-12 11.2M388 655.5l6 5.6l-6 5.6l-6 -5.6zM382 661.1l12 11.2m0 -11.2l-12 11.2M388 661.1l6 5.6l-6 5.6l-6 -5.6zM385 596.7l12 11.2m0 -11.2l-12 11.2M391 596.7l6 5.6l-6 5.6l-6 -5.6zM385 602.3l12 11.2m0 -11.2l-12 11.2M391 602.3l6 5.6l-6 5.6l-6 -5.6zM385 607.9l12 11.2m0 -11.2l-12 11.2M391 607.9l6 5.6l-6 5.6l-6 -5.6zM385 613.5l12 11.2m0 -11.2l-12 11.2M391 613.5l6 5.6l-6 5.6l-6 -5.6zM385 619.1l12 11.2m0 -11.2l-12 11.2M391 619.1l6 5.6l-6 5.6l-6 -5.6zM385 624.7l12 11.2m0 -11.2l-12 11.2M391 624.7l6 5.6l-6 5.6l-6 -5.6zM385 630.3l12 11.2m0 -11.2l-12 11.2M391 630.3l6 5.6l-6 5.6l-6 -5.6zM385 635.9l12 11.2m0 -11.2l-12 11.2M391 635.9l6 5.6l-6 5.6l-6 -5.6zM385 647.1l12 11.2m0 -11.2l-12 11.2M391 647.1l6 5.6l-6 5.6l-6 -5.6zM385 658.3l12 11.2m0 -11.2l-12 11.2M391 658.3l6 5.6l-6 5.6l-6 -5.6zM388 599.5l12 11.2m0 -11.2l-12 11.2M394 599.5l6 5.6l-6 5.6l-6 -5.6zM388 605.1l12 11.2m0 -11.2l-12 11.2M394 605.1l6 5.6l-6 5.6l-6 -5.6zM388 610.7l12 11.2m0 -11.2l-12 11.2M394 610.7l6 5.6l-6 5.6l-6 -5.6zM388 616.3l12 11.2m0 -11.2l-12 11.2M394 616.3l6 5.6l-6 5.6l-6 -5.6zM388 621.9l12 11.2m0 -11.2l-12 11.2M394 621.9l6 5.6l-6 5.6l-6 -5.6zM388 627.5l12 11.2m0 -11.2l-12 11.2M394 627.5l6 5.6l-6 5.6l-6 -5.6zM388 638.7l12 11.2m0 -11.2l-12 11.2M394 638.7l6 5.6l-6 5.6l-6 -5.6zM388 644.3l12 11.2m0 -11.2l-12 11.2M394 644.3l6 5.6l-6 5.6l-6 -5.6zM388 649.9l12 11.2m0 -11.2l-12 11.2M394 649.9l6 5.6l-6 5.6l-6 -5.6zM388 655.5l12 11.2m0 -11.2l-12 11.2M394 655.5l6 5.6l-6 5.6l-6 -5.6zM391 596.7l12 11.2m0 -11.2l-12 11.2M397 596.7l6 5.6l-6 5.6l-6 -5.6zM391 602.3l12 11.2m0 -11.2l-12 11.2M397 602.3l6 5.6l-6 5.6l-6 -5.6zM391 607.9l12 11.2m0 -11.2l-12 11.2M397 607.9l6 5.6l-6 5.6l-6 -5.6zM391 613.5l12 11.2m0 -11.2l-12 11.2M397 613.5l6 5.6l-6 5.6l-6 -5.6zM391 619.1l12 11.2m0 -11.2l-12 11.2M397 619.1l6 5.6l-6 5.6l-6 -5.6zM391 624.7l12 11.2m0 -11.2l-12 11.2M397 624.7l6 5.6l-6 5.6l-6 -5.6zM391 630.3l12 11.2m0 -11.2l-12 11.2M397 630.3l6 5.6l-6 5.6l-6 -5.6zM391 635.9l12 11.2m0 -11.2l-12 11.2M397 635.9l6 5.6l-6 5.6l-6 -5.6zM391 641.5l12 11.2m0 -11.2l-12 11.2M397 641.5l6 5.6l-6 5.6l-6 -5.6zM391 647.1l12 11.2m0 -11.2l-12 11.2M397 647.1l6 5.6l-6 5.6l-6 -5.6zM391 652.7l12 11.2m0 -11.2l-12 11.2M397 652.7l6 5.6l-6 5.6l-6 -5.6zM394 599.5l12 11.2m0 -11.2l-12 11.2M400 599.5l6 5.6l-6 5.6l-6 -5.6zM394 605.1l12 11.2m0 -11.2l-12 11.2M400 605.1l6 5.6l-6 5.6l-6 -5.6zM394 610.7l12 11.2m0 -11.2l-12 11.2M400 610.7l6 5.6l-6 5.6l-6 -5.6zM394 616.3l12 11.2m0 -11.2l-12 11.2M400 616.3l6 5.6l-6 5.6l-6 -5.6zM394 621.9l12 11.2m0 -11.2l-12 11.2M400 621.9l6 5.6l-6 5.6l-6 -5.6zM394 627.5l12 11.2m0 -11.2l-12 11.2M400 627.5l6 5.6l-6 5.6l-6 -5.6zM394 633.1l12 11.2m0 -11.2l-12 11.2M400 633.1l6 5.6l-6 5.6l-6 -5.6zM394 644.3l12 11.2m0 -11.2l-12 11.2M400 644.3l6 5.6l-6 5.6l-6 -5.6zM394 649.9l12 11.2m0 -11.2l-12 11.2M400 649.9l6 5.6l-6 5.6l-6 -5.6zM397 596.7l12 11.2m0 -11.2l-12 11.2M403 596.7l6 5.6l-6 5.6l-6 -5.6zM397 602.3l12 11.2m0 -11.2l-12 11.2M403 602.3l6 5.6l-6 5.6l-6 -5.6zM397 607.9l12 11.2m0 -11.2l-12 11.2M403 607.9l6 5.6l-6 5.6l-6 -5.6zM397 619.1l12 11.2m0 -11.2l-12 11.2M403 619.1l6 5.6l-6 5.6l-6 -5.6zM397 635.9l12 11.2m0 -11.2l-12 11.2M403 635.9l6 5.6l-6 5.6l-6 -5.6zM397 647.1l12 11.2m0 -11.2l-12 11.2M403 647.1l6 5.6l-6 5.6l-6 -5.6zM397 652.7l12 11.2m0 -11.2l-12 11.2M403 652.7l6 5.6l-6 5.6l-6 -5.6zM400 616.3l12 11.2m0 -11.2l-12 11.2M406 616.3l6 5.6l-6 5.6l-6 -5.6zM400 621.9l12 11.2m0 -11.2l-12 11.2M406 621.9l6 5.6l-6 5.6l-6 -5.6zM400 627.5l12 11.2m0 -11.2l-12 11.2M406 627.5l6 5.6l-6 5.6l-6 -5.6zM400 644.3l12 11.2m0 -11.2l-12 11.2M406 644.3l6 5.6l-6 5.6l-6 -5.6zM403 596.7l12 11.2m0 -11.2l-12 11.2M409 596.7l6 5.6l-6 5.6l-6 -5.6zM403 602.3l12 11.2m0 -11.2l-12 11.2M409 602.3l6 5.6l-6 5.6l-6 -5.6zM403 607.9l12 11.2m0 -11.2l-12 11.2M409 607.9l6 5.6l-6 5.6l-6 -5.6zM403 613.5l12 11.2m0 -11.2l-12 11.2M409 613.5l6 5.6l-6 5.6l-6 -5.6zM403 619.1l12 11.2m0 -11.2l-12 11.2M409 619.1l6 5.6l-6 5.6l-6 -5.6zM403 624.7l12 11.2m0 -11.2l-12 11.2M409 624.7l6 5.6l-6 5.6l-6 -5.6zM403 630.3l12 11.2m0 -11.2l-12 11.2M409 630.3l6 5.6l-6 5.6l-6 -5.6zM403 635.9l12 11.2m0 -11.2l-12 11.2M409 635.9l6 5.6l-6 5.6l-6 -5.6zM403 641.5l12 11.2m0 -11.2l-12 11.2M409 641.5l6 5.6l-6 5.6l-6 -5.6zM403 647.1l12 11.2m0 -11.2l-12 11.2M409 647.1l6 5.6l-6 5.6l-6 -5.6zM406 599.5l12 11.2m0 -11.2l-12 11.2M412 599.5l6 5.6l-6 5.6l-6 -5.6zM406 605.1l12 11.2m0 -11.2l-12 11.2M412 605.1l6 5.6l-6 5.6l-6 -5.6zM406 610.7l12 11.2m0 -11.2l-12 11.2M412 610.7l6 5.6l-6 5.6l-6 -5.6zM406 616.3l12 11.2m0 -11.2l-12 11.2M412 616.3l6 5.6l-6 5.6l-6 -5.6zM406 621.9l12 11.2m0 -11.2l-12 11.2M412 621.9l6 5.6l-6 5.6l-6 -5.6zM406 627.5l12 11.2m0 -11.2l-12 11.2M412 627.5l6 5.6l-6 5.6l-6 -5.6zM406 633.1l12 11.2m0 -11.2l-12 11.2M412 633.1l6 5.6l-6 5.6l-6 -5.6zM406 638.7l12 11.2m0 -11.2l-12 11.2M412 638.7l6 5.6l-6 5.6l-6 -5.6zM406 644.3l12 11.2m0 -11.2l-12 11.2M412 644.3l6 5.6l-6 5.6l-6 -5.6zM409 596.7l12 11.2m0 -11.2l-12 11.2M415 596.7l6 5.6l-6 5.6l-6 -5.6zM409 602.3l12 11.2m0 -11.2l-12 11.2M415 602.3l6 5.6l-6 5.6l-6 -5.6zM409 624.7l12 11.2m0 -11.2l-12 11.2M415 624.7l6 5.6l-6 5.6l-6 -5.6zM409 630.3l12 11.2m0 -11.2l-12 11.2M415 630.3l6 5.6l-6 5.6l-6 -5.6zM409 635.9l12 11.2m0 -11.2l-12 11.2M415 635.9l6 5.6l-6 5.6l-6 -5.6zM409 641.5l12 11.2m0 -11.2l-12 11.2M415 641.5l6 5.6l-6 5.6l-6 -5.6zM412 599.5l12 11.2m0 -11.2l-12 11.2M418 599.5l6 5.6l-6 5.6l-6 -5.6zM412 605.1l12 11.2m0 -11.2l-12 11.2M418 605.1l6 5.6l-6 5.6l-6 -5.6zM412 610.7l12 11.2m0 -11.2l-12 11.2M418 610.7l6 5.6l-6 5.6l-6 -5.6zM412 621.9l12 11.2m0 -11.2l-12 11.2M418 621.9l6 5.6l-6 5.6l-6 -5.6zM412 627.5l12 11.2m0 -11.2l-12 11.2M418 627.5l6 5.6l-6 5.6l-6 -5.6zM412 638.7l12 11.2m0 -11.2l-12 11.2M418 638.7l6 5.6l-6 5.6l-6 -5.6zM412 644.3l12 11.2m0 -11.2l-12 11.2M418 644.3l6 5.6l-6 5.6l-6 -5.6zM415 596.7l12 11.2m0 -11.2l-12 11.2M421 596.7l6 5.6l-6 5.6l-6 -5.6zM415 602.3l12 11.2m0 -11.2l-12 11.2M421 602.3l6 5.6l-6 5.6l-6 -5.6zM415 607.9l12 11.2m0 -11.2l-12 11.2M421 607.9l6 5.6l-6 5.6l-6 -5.6zM415 613.5l12 11.2m0 -11.2l-12 11.2M421 613.5l6 5.6l-6 5.6l-6 -5.6zM415 619.1l12 11.2m0 -11.2l-12 11.2M421 619.1l6 5.6l-6 5.6l-6 -5.6zM415 624.7l12 11.2m0 -11.2l-12 11.2M421 624.7l6 5.6l-6 5.6l-6 -5.6zM415 630.3l12 11.2m0 -11.2l-12 11.2M421 630.3l6 5.6l-6 5.6l-6 -5.6zM415 635.9l12 11.2m0 -11.2l-12 11.2M421 635.9l6 5.6l-6 5.6l-6 -5.6zM415 641.5l12 11.2m0 -11.2l-12 11.2M421 641.5l6 5.6l-6 5.6l-6 -5.6zM418 599.5l12 11.2m0 -11.2l-12 11.2M424 599.5l6 5.6l-6 5.6l-6 -5.6zM418 605.1l12 11.2m0 -11.2l-12 11.2M424 605.1l6 5.6l-6 5.6l-6 -5.6zM418 616.3l12 11.2m0 -11.2l-12 11.2M424 616.3l6 5.6l-6 5.6l-6 -5.6zM418 627.5l12 11.2m0 -11.2l-12 11.2M424 627.5l6 5.6l-6 5.6l-6 -5.6zM418 633.1l12 11.2m0 -11.2l-12 11.2M424 633.1l6 5.6l-6 5.6l-6 -5.6zM418 638.7l12 11.2m0 -11.2l-12 11.2M424 638.7l6 5.6l-6 5.6l-6 -5.6zM421 596.7l12 11.2m0 -11.2l-12 11.2M427 596.7l6 5.6l-6 5.6l-6 -5.6zM421 602.3l12 11.2m0 -11.2l-12 11.2M427 602.3l6 5.6l-6 5.6l-6 -5.6zM421 607.9l12 11.2m0 -11.2l-12 11.2M427 607.9l6 5.6l-6 5.6l-6 -5.6zM421 613.5l12 11.2m0 -11.2l-12 11.2M427 613.5l6 5.6l-6 5.6l-6 -5.6zM421 619.1l12 11.2m0 -11.2l-12 11.2M427 619.1l6 5.6l-6 5.6l-6 -5.6zM421 624.7l12 11.2m0 -11.2l-12 11.2M427 624.7l6 5.6l-6 5.6l-6 -5.6zM421 630.3l12 11.2m0 -11.2l-12 11.2M427 630.3l6 5.6l-6 5.6l-6 -5.6zM421 635.9l12 11.2m0 -11.2l-12 11.2M427 635.9l6 5.6l-6 5.6l-6 -5.6zM424 599.5l12 11.2m0 -11.2l-12 11.2M430 599.5l6 5.6l-6 5.6l-6 -5.6zM424 605.1l12 11.2m0 -11.2l-12 11.2M430 605.1l6 5.6l-6 5.6l-6 -5.6zM424 610.7l12 11.2m0 -11.2l-12 11.2M430 610.7l6 5.6l-6 5.6l-6 -5.6zM424 616.3l12 11.2m0 -11.2l-12 11.2M430 616.3l6 5.6l-6 5.6l-6 -5.6zM424 621.9l12 11.2m0 -11.2l-12 11.2M430 621.9l6 5.6l-6 5.6l-6 -5.6zM424 627.5l12 11.2m0 -11.2l-12 11.2M430 627.5l6 5.6l-6 5.6l-6 -5.6zM424 638.7l12 11.2m0 -11.2l-12 11.2M430 638.7l6 5.6l-6 5.6l-6 -5.6zM427 596.7l12 11.2m0 -11.2l-12 11.2M433 596.7l6 5.6l-6 5.6l-6 -5.6zM427 602.3l12 11.2m0 -11.2l-12 11.2M433 602.3l6 5.6l-6 5.6l-6 -5.6zM427 607.9l12 11.2m0 -11.2l-12 11.2M433 607.9l6 5.6l-6 5.6l-6 -5.6zM427 613.5l12 11.2m0 -11.2l-12 11.2M433 613.5l6 5.6l-6 5.6l-6 -5.6zM427 619.1l12 11.2m0 -11.2l-12 11.2M433 619.1l6 5.6l-6 5.6l-6 -5.6zM427 624.7l12 11.2m0 -11.2l-12 11.2M433 624.7l6 5.6l-6 5.6l-6 -5.6zM427 630.3l12 11.2m0 -11.2l-12 11.2M433 630.3l6 5.6l-6 5.6l-6 -5.6zM427 635.9l12 11.2m0 -11.2l-12 11.2M433 635.9l6 5.6l-6 5.6l-6 -5.6zM430 599.5l12 11.2m0 -11.2l-12 11.2M436 599.5l6 5.6l-6 5.6l-6 -5.6zM430 605.1l12 11.2m0 -11.2l-12 11.2M436 605.1l6 5.6l-6 5.6l-6 -5.6zM430 610.7l12 11.2m0 -11.2l-12 11.2M436 610.7l6 5.6l-6 5.6l-6 -5.6zM430 627.5l12 11.2m0 -11.2l-12 11.2M436 627.5l6 5.6l-6 5.6l-6 -5.6zM430 633.1l12 11.2m0 -11.2l-12 11.2M436 633.1l6 5.6l-6 5.6l-6 -5.6zM433 602.3l12 11.2m0 -11.2l-12 11.2M439 602.3l6 5.6l-6 5.6l-6 -5.6zM433 607.9l12 11.2m0 -11.2l-12 11.2M439 607.9l6 5.6l-6 5.6l-6 -5.6zM433 613.5l12 11.2m0 -11.2l-12 11.2M439 613.5l6 5.6l-6 5.6l-6 -5.6zM433 619.1l12 11.2m0 -11.2l-12 11.2M439 619.1l6 5.6l-6 5.6l-6 -5.6zM433 624.7l12 11.2m0 -11.2l-12 11.2M439 624.7l6 5.6l-6 5.6l-6 -5.6zM433 630.3l12 11.2m0 -11.2l-12 11.2M439 630.3l6 5.6l-6 5.6l-6 -5.6zM436 599.5l12 11.2m0 -11.2l-12 11.2M442 599.5l6 5.6l-6 5.6l-6 -5.6zM436 610.7l12 11.2m0 -11.2l-12 11.2M442 610.7l6 5.6l-6 5.6l-6 -5.6zM436 616.3l12 11.2m0 -11.2l-12 11.2M442 616.3l6 5.6l-6 5.6l-6 -5.6zM436 621.9l12 11.2m0 -11.2l-12 11.2M442 621.9l6 5.6l-6 5.6l-6 -5.6zM436 627.5l12 11.2m0 -11.2l-12 11.2M442 627.5l6 5.6l-6 5.6l-6 -5.6zM436 633.1l12 11.2m0 -11.2l-12 11.2M442 633.1l6 5.6l-6 5.6l-6 -5.6zM439 596.7l12 11.2m0 -11.2l-12 11.2M445 596.7l6 5.6l-6 5.6l-6 -5.6zM439 607.9l12 11.2m0 -11.2l-12 11.2M445 607.9l6 5.6l-6 5.6l-6 -5.6zM439 613.5l12 11.2m0 -11.2l-12 11.2M445 613.5l6 5.6l-6 5.6l-6 -5.6zM439 619.1l12 11.2m0 -11.2l-12 11.2M445 619.1l6 5.6l-6 5.6l-6 -5.6zM439 624.7l12 11.2m0 -11.2l-12 11.2M445 624.7l6 5.6l-6 5.6l-6 -5.6zM442 599.5l12 11.2m0 -11.2l-12 11.2M448 599.5l6 5.6l-6 5.6l-6 -5.6zM442 610.7l12 11.2m0 -11.2l-12 11.2M448 610.7l6 5.6l-6 5.6l-6 -5.6zM442 616.3l12 11.2m0 -11.2l-12 11.2M448 616.3l6 5.6l-6 5.6l-6 -5.6zM442 621.9l12 11.2m0 -11.2l-12 11.2M448 621.9l6 5.6l-6 5.6l-6 -5.6zM442 627.5l12 11.2m0 -11.2l-12 11.2M448 627.5l6 5.6l-6 5.6l-6 -5.6zM445 596.7l12 11.2m0 -11.2l-12 11.2M451 596.7l6 5.6l-6 5.6l-6 -5.6zM445 602.3l12 11.2m0 -11.2l-12 11.2M451 602.3l6 5.6l-6 5.6l-6 -5.6zM445 607.9l12 11.2m0 -11.2l-12 11.2M451 607.9l6 5.6l-6 5.6l-6 -5.6zM445 619.1l12 11.2m0 -11.2l-12 11.2M451 619.1l6 5.6l-6 5.6l-6 -5.6zM445 624.7l12 11.2m0 -11.2l-12 11.2M451 624.7l6 5.6l-6 5.6l-6 -5.6zM448 593.9l12 11.2m0 -11.2l-12 11.2M454 593.9l6 5.6l-6 5.6l-6 -5.6zM448 599.5l12 11.2m0 -11.2l-12 11.2M454 599.5l6 5.6l-6 5.6l-6 -5.6zM448 616.3l12 11.2m0 -11.2l-12 11.2M454 616.3l6 5.6l-6 5.6l-6 -5.6zM448 621.9l12 11.2m0 -11.2l-12 11.2M454 621.9l6 5.6l-6 5.6l-6 -5.6zM451 596.7l12 11.2m0 -11.2l-12 11.2M457 596.7l6 5.6l-6 5.6l-6 -5.6zM451 602.3l12 11.2m0 -11.2l-12 11.2M457 602.3l6 5.6l-6 5.6l-6 -5.6zM451 607.9l12 11.2m0 -11.2l-12 11.2M457 607.9l6 5.6l-6 5.6l-6 -5.6zM451 613.5l12 11.2m0 -11.2l-12 11.2M457 613.5l6 5.6l-6 5.6l-6 -5.6zM451 619.1l12 11.2m0 -11.2l-12 11.2M457 619.1l6 5.6l-6 5.6l-6 -5.6zM454 599.5l12 11.2m0 -11.2l-12 11.2M460 599.5l6 5.6l-6 5.6l-6 -5.6zM454 605.1l12 11.2m0 -11.2l-12 11.2M460 605.1l6 5.6l-6 5.6l-6 -5.6zM454 610.7l12 11.2m0 -11.2l-12 11.2M460 610.7l6 5.6l-6 5.6l-6 -5.6zM454 616.3l12 11.2m0 -11.2l-12 11.2M460 616.3l6 5.6l-6 5.6l-6 -5.6zM454 621.9l12 11.2m0 -11.2l-12 11.2M460 621.9l6 5.6l-6 5.6l-6 -5.6zM457 602.3l12 11.2m0 -11.2l-12 11.2M463 602.3l6 5.6l-6 5.6l-6 -5.6zM457 607.9l12 11.2m0 -11.2l-12 11.2M463 607.9l6 5.6l-6 5.6l-6 -5.6zM457 613.5l12 11.2m0 -11.2l-12 11.2M463 613.5l6 5.6l-6 5.6l-6 -5.6zM457 619.1l12 11.2m0 -11.2l-12 11.2M463 619.1l6 5.6l-6 5.6l-6 -5.6zM460 593.9l12 11.2m0 -11.2l-12 11.2M466 593.9l6 5.6l-6 5.6l-6 -5.6zM460 599.5l12 11.2m0 -11.2l-12 11.2M466 599.5l6 5.6l-6 5.6l-6 -5.6zM460 605.1l12 11.2m0 -11.2l-12 11.2M466 605.1l6 5.6l-6 5.6l-6 -5.6zM460 610.7l12 11.2m0 -11.2l-12 11.2M466 610.7l6 5.6l-6 5.6l-6 -5.6zM460 616.3l12 11.2m0 -11.2l-12 11.2M466 616.3l6 5.6l-6 5.6l-6 -5.6zM460 621.9l12 11.2m0 -11.2l-12 11.2M466 621.9l6 5.6l-6 5.6l-6 -5.6zM463 596.7l12 11.2m0 -11.2l-12 11.2M469 596.7l6 5.6l-6 5.6l-6 -5.6zM463 607.9l12 11.2m0 -11.2l-12 11.2M469 607.9l6 5.6l-6 5.6l-6 -5.6zM463 613.5l12 11.2m0 -11.2l-12 11.2M469 613.5l6 5.6l-6 5.6l-6 -5.6zM463 619.1l12 11.2m0 -11.2l-12 11.2M469 619.1l6 5.6l-6 5.6l-6 -5.6zM466 593.9l12 11.2m0 -11.2l-12 11.2M472 593.9l6 5.6l-6 5.6l-6 -5.6zM466 599.5l12 11.2m0 -11.2l-12 11.2M472 599.5l6 5.6l-6 5.6l-6 -5.6zM466 605.1l12 11.2m0 -11.2l-12 11.2M472 605.1l6 5.6l-6 5.6l-6 -5.6zM466 610.7l12 11.2m0 -11.2l-12 11.2M472 610.7l6 5.6l-6 5.6l-6 -5.6zM469 596.7l12 11.2m0 -11.2l-12 11.2M475 596.7l6 5.6l-6 5.6l-6 -5.6zM469 607.9l12 11.2m0 -11.2l-12 11.2M475 607.9l6 5.6l-6 5.6l-6 -5.6zM469 619.1l12 11.2m0 -11.2l-12 11.2M475 619.1l6 5.6l-6 5.6l-6 -5.6zM472 593.9l12 11.2m0 -11.2l-12 11.2M478 593.9l6 5.6l-6 5.6l-6 -5.6zM472 599.5l12 11.2m0 -11.2l-12 11.2M478 599.5l6 5.6l-6 5.6l-6 -5.6zM472 605.1l12 11.2m0 -11.2l-12 11.2M478 605.1l6 5.6l-6 5.6l-6 -5.6zM472 610.7l12 11.2m0 -11.2l-12 11.2M478 610.7l6 5.6l-6 5.6l-6 -5.6zM472 616.3l12 11.2m0 -11.2l-12 11.2M478 616.3l6 5.6l-6 5.6l-6 -5.6zM475 596.7l12 11.2m0 -11.2l-12 11.2M481 596.7l6 5.6l-6 5.6l-6 -5.6zM475 602.3l12 11.2m0 -11.2l-12 11.2M481 602.3l6 5.6l-6 5.6l-6 -5.6zM475 613.5l12 11.2m0 -11.2l-12 11.2M481 613.5l6 5.6l-6 5.6l-6 -5.6zM478 599.5l12 11.2m0 -11.2l-12 11.2M484 599.5l6 5.6l-6 5.6l-6 -5.6zM478 605.1l12 11.2m0 -11.2l-12 11.2M484 605.1l6 5.6l-6 5.6l-6 -5.6zM478 610.7l12 11.2m0 -11.2l-12 11.2M484 610.7l6 5.6l-6 5.6l-6 -5.6zM478 616.3l12 11.2m0 -11.2l-12 11.2M484 616.3l6 5.6l-6 5.6l-6 -5.6zM481 602.3l12 11.2m0 -11.2l-12 11.2M487 602.3l6 5.6l-6 5.6l-6 -5.6zM481 607.9l12 11.2m0 -11.2l-12 11.2M487 607.9l6 5.6l-6 5.6l-6 -5.6zM481 613.5l12 11.2m0 -11.2l-12 11.2M487 613.5l6 5.6l-6 5.6l-6 -5.6zM484 593.9l12 11.2m0 -11.2l-12 11.2M490 593.9l6 5.6l-6 5.6l-6 -5.6zM484 599.5l12 11.2m0 -11.2l-12 11.2M490 599.5l6 5.6l-6 5.6l-6 -5.6zM484 610.7l12 11.2m0 -11.2l-12 11.2M490 610.7l6 5.6l-6 5.6l-6 -5.6zM487 596.7l12 11.2m0 -11.2l-12 11.2M493 596.7l6 5.6l-6 5.6l-6 -5.6zM490 599.5l12 11.2m0 -11.2l-12 11.2M496 599.5l6 5.6l-6 5.6l-6 -5.6zM490 605.1l12 11.2m0 -11.2l-12 11.2M496 605.1l6 5.6l-6 5.6l-6 -5.6zM493 602.3l12 11.2m0 -11.2l-12 11.2M499 602.3l6 5.6l-6 5.6l-6 -5.6zM394.14 614.48l12 11.2m0 -11.2l-12 11.2M400.14 614.48l6 5.6l-6 5.6l-6 -5.6zM161.29 695.2l12 11.2m0 -11.2l-12 11.2M167.29 695.2l6 5.6l-6 5.6l-6 -5.6zM409.43 634.92l12 11.2m0 -11.2l-12 11.2M415.43 634.92l6 5.6l-6 5.6l-6 -5.6zM348.21 639.8l12 11.2m0 -11.2l-12 11.2M354.21 639.8l6 5.6l-6 5.6l-6 -5.6zM337.72 642.63l12 11.2m0 -11.2l-12 11.2M343.72 642.63l6 5.6l-6 5.6l-6 -5.6zM336.46 668.8l12 11.2m0 -11.2l-12 11.2M342.46 668.8l6 5.6l-6 5.6l-6 -5.6zM222.44 689.9l12 11.2m0 -11.2l-12 11.2M228.44 689.9l6 5.6l-6 5.6l-6 -5.6zM472.46 614.95l12 11.2m0 -11.2l-12 11.2M478.46 614.95l6 5.6l-6 5.6l-6 -5.6zM215.27 705.06l12 11.2m0 -11.2l-12 11.2M221.27 705.06l6 5.6l-6 5.6l-6 -5.6zM440.79 600.26l12 11.2m0 -11.2l-12 11.2M446.79 600.26l6 5.6l-6 5.6l-6 -5.6zM244.78 660.4l12 11.2m0 -11.2l-12 11.2M250.78 660.4l6 5.6l-6 5.6l-6 -5.6zM172.12 705.96l12 11.2m0 -11.2l-12 11.2M178.12 705.96l6 5.6l-6 5.6l-6 -5.6zM293.73 688.25l12 11.2m0 -11.2l-12 11.2M299.73 688.25l6 5.6l-6 5.6l-6 -5.6zM193.11 679.97l12 11.2m0 -11.2l-12 11.2M199.11 679.97l6 5.6l-6 5.6l-6 -5.6zM450.94 619.89l12 11.2m0 -11.2l-12 11.2M456.94 619.89l6 5.6l-6 5.6l-6 -5.6zM492.52 602.39l12 11.2m0 -11.2l-12 11.2M498.52 602.39l6 5.6l-6 5.6l-6 -5.6zM333.31 666.07l12 11.2m0 -11.2l-12 11.2M339.31 666.07l6 5.6l-6 5.6l-6 -5.6zM185.59 695.14l12 11.2m0 -11.2l-12 11.2M191.59 695.14l6 5.6l-6 5.6l-6 -5.6zM304.62 634.62l12 11.2m0 -11.2l-12 11.2M310.62 634.62l6 5.6l-6 5.6l-6 -5.6zM358.97 626.88l12 11.2m0 -11.2l-12 11.2M364.97 626.88l6 5.6l-6 5.6l-6 -5.6zM326.88 642.62l12 11.2m0 -11.2l-12 11.2M332.88 642.62l6 5.6l-6 5.6l-6 -5.6zM262.61 663.28l12 11.2m0 -11.2l-12 11.2M268.61 663.28l6 5.6l-6 5.6l-6 -5.6zM359.19 669.83l12 11.2m0 -11.2l-12 11.2M365.19 669.83l6 5.6l-6 5.6l-6 -5.6zM473.6 614.99l12 11.2m0 -11.2l-12 11.2M479.6 614.99l6 5.6l-6 5.6l-6 -5.6zM439.15 604.91l12 11.2m0 -11.2l-12 11.2M445.15 604.91l6 5.6l-6 5.6l-6 -5.6zM487.45 598.46l12 11.2m0 -11.2l-12 11.2M493.45 598.46l6 5.6l-6 5.6l-6 -5.6zM196.05 692.48l12 11.2m0 -11.2l-12 11.2M202.05 692.48l6 5.6l-6 5.6l-6 -5.6zM403.98 613.52l12 11.2m0 -11.2l-12 11.2M409.98 613.52l6 5.6l-6 5.6l-6 -5.6zM374.3 617.22l12 11.2m0 -11.2l-12 11.2M380.3 617.22l6 5.6l-6 5.6l-6 -5.6zM484.11 602.89l12 11.2m0 -11.2l-12 11.2M490.11 602.89l6 5.6l-6 5.6l-6 -5.6zM317.14 656.82l12 11.2m0 -11.2l-12 11.2M323.14 656.82l6 5.6l-6 5.6l-6 -5.6zM452.69 625.45l12 11.2m0 -11.2l-12 11.2M458.69 625.45l6 5.6l-6 5.6l-6 -5.6zM334.42 644.09l12 11.2m0 -11.2l-12 11.2M340.42 644.09l6 5.6l-6 5.6l-6 -5.6zM364.92 606.48l12 11.2m0 -11.2l-12 11.2M370.92 606.48l6 5.6l-6 5.6l-6 -5.6zM299.26 685.11l12 11.2m0 -11.2l-12 11.2M305.26 685.11l6 5.6l-6 5.6l-6 -5.6zM419.41 597.46l12 11.2m0 -11.2l-12 11.2M425.41 597.46l6 5.6l-6 5.6l-6 -5.6zM445.72 607.33l12 11.2m0 -11.2l-12 11.2M451.72 607.33l6 5.6l-6 5.6l-6 -5.6zM489.01 599.59l12 11.2m0 -11.2l-12 11.2M495.01 599.59l6 5.6l-6 5.6l-6 -5.6zM227.28 686.41l12 11.2m0 -11.2l-12 11.2M233.28 686.41l6 5.6l-6 5.6l-6 -5.6zM455.75 607.12l12 11.2m0 -11.2l-12 11.2M461.75 607.12l6 5.6l-6 5.6l-6 -5.6zM450.16 617.42l12 11.2m0 -11.2l-12 11.2M456.16 617.42l6 5.6l-6 5.6l-6 -5.6zM277.42 654.26l12 11.2m0 -11.2l-12 11.2M283.42 654.26l6 5.6l-6 5.6l-6 -5.6zM326.52 644.45l12 11.2m0 -11.2l-12 11.2M332.52 644.45l6 5.6l-6 5.6l-6 -5.6zM281.19 676.61l12 11.2m0 -11.2l-12 11.2M287.19 676.61l6 5.6l-6 5.6l-6 -5.6zM452.77 612.57l12 11.2m0 -11.2l-12 11.2M458.77 612.57l6 5.6l-6 5.6l-6 -5.6zM203.91 682.12l12 11.2m0 -11.2l-12 11.2M209.91 682.12l6 5.6l-6 5.6l-6 -5.6zM280.63 674.26l12 11.2m0 -11.2l-12 11.2M286.63 674.26l6 5.6l-6 5.6l-6 -5.6zM201.63 678.68l12 11.2m0 -11.2l-12 11.2M207.63 678.68l6 5.6l-6 5.6l-6 -5.6zM263.47 658.36l12 11.2m0 -11.2l-12 11.2M269.47 658.36l6 5.6l-6 5.6l-6 -5.6zM135.6 703.2l12 11.2m0 -11.2l-12 11.2M141.6 703.2l6 5.6l-6 5.6l-6 -5.6zM135.6 703.2l12 11.2m0 -11.2l-12 11.2M141.6 703.2l6 5.6l-6 5.6l-6 -5.6zM505 593.9l12 11.2m0 -11.2l-12 11.2M511 593.9l6 5.6l-6 5.6l-6 -5.6zM510.5 593.9l12 11.2m0 -11.2l-12 11.2M516.5 593.9l6 5.6l-6 5.6l-6 -5.6zM515.5 593.9l12 11.2m0 -11.2l-12 11.2M521.5 593.9l6 5.6l-6 5.6l-6 -5.6zM521 593.9l12 11.2m0 -11.2l-12 11.2M527 593.9l6 5.6l-6 5.6l-6 -5.6zM526 593.9l12 11.2m0 -11.2l-12 11.2M532 593.9l6 5.6l-6 5.6l-6 -5.6zM531.5 593.9l12 11.2m0 -11.2l-12 11.2M537.5 593.9l6 5.6l-6 5.6l-6 -5.6zM573.6 593.8l12 11.2m0 -11.2l-12 11.2M579.6 593.8l6 5.6l-6 5.6l-6 -5.6z"/>
<line clip-path="url(#cp0)" x1="141.6" y1="726.1" x2="521.2" y2="582.9" stroke="#F01414" stroke-width="2.4"/>
<line x1="92" y1="601.4" x2="99.5" y2="601.4" stroke="#151515" stroke-width="1.5"/>
<line x1="669" y1="601.4" x2="661.5" y2="601.4" stroke="#151515" stroke-width="1.5"/>
<text x="83" y="607" font-size="16.8" text-anchor="end">-0.105</text>
<line x1="92" y1="638.3" x2="99.5" y2="638.3" stroke="#151515" stroke-width="1.5"/>
<line x1="669" y1="638.3" x2="661.5" y2="638.3" stroke="#151515" stroke-width="1.5"/>
<text x="83" y="643.9" font-size="16.8" text-anchor="end">-0.120</text>
<line x1="92" y1="675.2" x2="99.5" y2="675.2" stroke="#151515" stroke-width="1.5"/>
<line x1="669" y1="675.2" x2="661.5" y2="675.2" stroke="#151515" stroke-width="1.5"/>
<text x="83" y="680.8" font-size="16.8" text-anchor="end">-0.135</text>
<line x1="92" y1="712.1" x2="99.5" y2="712.1" stroke="#151515" stroke-width="1.5"/>
<line x1="669" y1="712.1" x2="661.5" y2="712.1" stroke="#151515" stroke-width="1.5"/>
<text x="83" y="717.7" font-size="16.8" text-anchor="end">-0.150</text>
<line x1="92" y1="619.85" x2="95.8" y2="619.85" stroke="#151515" stroke-width="1.5"/>
<line x1="669" y1="619.85" x2="665.2" y2="619.85" stroke="#151515" stroke-width="1.5"/>
<line x1="92" y1="656.75" x2="95.8" y2="656.75" stroke="#151515" stroke-width="1.5"/>
<line x1="669" y1="656.75" x2="665.2" y2="656.75" stroke="#151515" stroke-width="1.5"/>
<line x1="92" y1="693.65" x2="95.8" y2="693.65" stroke="#151515" stroke-width="1.5"/>
<line x1="669" y1="693.65" x2="665.2" y2="693.65" stroke="#151515" stroke-width="1.5"/>
<line x1="92" y1="726.8" x2="92" y2="719.3" stroke="#151515" stroke-width="1.5"/>
<line x1="257.2" y1="726.8" x2="257.2" y2="719.3" stroke="#151515" stroke-width="1.5"/>
<line x1="422.4" y1="726.8" x2="422.4" y2="719.3" stroke="#151515" stroke-width="1.5"/>
<line x1="587.6" y1="726.8" x2="587.6" y2="719.3" stroke="#151515" stroke-width="1.5"/>
<line x1="174.6" y1="726.8" x2="174.6" y2="723" stroke="#151515" stroke-width="1.5"/>
<line x1="339.8" y1="726.8" x2="339.8" y2="723" stroke="#151515" stroke-width="1.5"/>
<line x1="505" y1="726.8" x2="505" y2="723" stroke="#151515" stroke-width="1.5"/>
<line x1="670.2" y1="726.8" x2="670.2" y2="723" stroke="#151515" stroke-width="1.5"/>
<text transform="translate(27,645.8) rotate(-90)" font-size="21" text-anchor="middle">Coarse</text>
<path clip-path="url(#cp1)" fill="none" stroke="#111" stroke-width="0.9" d="M322.07 790.98l11.6 11.2m0 -11.2l-11.6 11.2M327.87 790.98l4.93 9.07h-9.86zM397.04 781.45l11.6 11.2m0 -11.2l-11.6 11.2M402.84 781.45l4.93 9.07h-9.86zM478.59 754.89l11.6 11.2m0 -11.2l-11.6 11.2M484.39 754.89l4.93 9.07h-9.86zM217.84 817.34l11.6 11.2m0 -11.2l-11.6 11.2M223.64 817.34l4.93 9.07h-9.86zM164.95 841.35l11.6 11.2m0 -11.2l-11.6 11.2M170.75 841.35l4.93 9.07h-9.86zM252.25 813.94l11.6 11.2m0 -11.2l-11.6 11.2M258.05 813.94l4.93 9.07h-9.86zM387.01 782.86l11.6 11.2m0 -11.2l-11.6 11.2M392.81 782.86l4.93 9.07h-9.86zM402.88 751.66l11.6 11.2m0 -11.2l-11.6 11.2M408.68 751.66l4.93 9.07h-9.86zM298.56 805.89l11.6 11.2m0 -11.2l-11.6 11.2M304.36 805.89l4.93 9.07h-9.86zM374.93 784.97l11.6 11.2m0 -11.2l-11.6 11.2M380.73 784.97l4.93 9.07h-9.86zM426.66 776.55l11.6 11.2m0 -11.2l-11.6 11.2M432.46 776.55l4.93 9.07h-9.86zM299.41 794.34l11.6 11.2m0 -11.2l-11.6 11.2M305.21 794.34l4.93 9.07h-9.86zM344.96 794l11.6 11.2m0 -11.2l-11.6 11.2M350.76 794l4.93 9.07h-9.86zM333.79 804.84l11.6 11.2m0 -11.2l-11.6 11.2M339.59 804.84l4.93 9.07h-9.86zM427.48 758.94l11.6 11.2m0 -11.2l-11.6 11.2M433.28 758.94l4.93 9.07h-9.86zM489.75 746.44l11.6 11.2m0 -11.2l-11.6 11.2M495.55 746.44l4.93 9.07h-9.86zM449.59 745.26l11.6 11.2m0 -11.2l-11.6 11.2M455.39 745.26l4.93 9.07h-9.86zM275.71 819l11.6 11.2m0 -11.2l-11.6 11.2M281.51 819l4.93 9.07h-9.86zM484.61 741.94l11.6 11.2m0 -11.2l-11.6 11.2M490.41 741.94l4.93 9.07h-9.86zM310.1 816.09l11.6 11.2m0 -11.2l-11.6 11.2M315.9 816.09l4.93 9.07h-9.86zM334.02 775.45l11.6 11.2m0 -11.2l-11.6 11.2M339.82 775.45l4.93 9.07h-9.86zM293.65 785.27l11.6 11.2m0 -11.2l-11.6 11.2M299.45 785.27l4.93 9.07h-9.86zM374.97 760.85l11.6 11.2m0 -11.2l-11.6 11.2M380.77 760.85l4.93 9.07h-9.86zM309.99 792.97l11.6 11.2m0 -11.2l-11.6 11.2M315.79 792.97l4.93 9.07h-9.86zM183.51 837.79l11.6 11.2m0 -11.2l-11.6 11.2M189.31 837.79l4.93 9.07h-9.86zM281.67 806.01l11.6 11.2m0 -11.2l-11.6 11.2M287.47 806.01l4.93 9.07h-9.86zM212.53 837.5l11.6 11.2m0 -11.2l-11.6 11.2M218.33 837.5l4.93 9.07h-9.86zM235.74 809.2l11.6 11.2m0 -11.2l-11.6 11.2M241.54 809.2l4.93 9.07h-9.86zM176.89 838.96l11.6 11.2m0 -11.2l-11.6 11.2M182.69 838.96l4.93 9.07h-9.86zM315.94 810.47l11.6 11.2m0 -11.2l-11.6 11.2M321.74 810.47l4.93 9.07h-9.86zM467.81 744.34l11.6 11.2m0 -11.2l-11.6 11.2M473.61 744.34l4.93 9.07h-9.86zM241.75 805.09l11.6 11.2m0 -11.2l-11.6 11.2M247.55 805.09l4.93 9.07h-9.86zM379.72 778.2l11.6 11.2m0 -11.2l-11.6 11.2M385.52 778.2l4.93 9.07h-9.86zM270.26 826.64l11.6 11.2m0 -11.2l-11.6 11.2M276.06 826.64l4.93 9.07h-9.86zM292.76 789.92l11.6 11.2m0 -11.2l-11.6 11.2M298.56 789.92l4.93 9.07h-9.86zM252.96 825.61l11.6 11.2m0 -11.2l-11.6 11.2M258.76 825.61l4.93 9.07h-9.86zM269.83 809.59l11.6 11.2m0 -11.2l-11.6 11.2M275.63 809.59l4.93 9.07h-9.86zM235.54 831.26l11.6 11.2m0 -11.2l-11.6 11.2M241.34 831.26l4.93 9.07h-9.86zM334.07 787.95l11.6 11.2m0 -11.2l-11.6 11.2M339.87 787.95l4.93 9.07h-9.86zM299.54 782.55l11.6 11.2m0 -11.2l-11.6 11.2M305.34 782.55l4.93 9.07h-9.86zM287.69 795.96l11.6 11.2m0 -11.2l-11.6 11.2M293.49 795.96l4.93 9.07h-9.86zM340.37 767.59l11.6 11.2m0 -11.2l-11.6 11.2M346.17 767.59l4.93 9.07h-9.86zM356.42 785.61l11.6 11.2m0 -11.2l-11.6 11.2M362.22 785.61l4.93 9.07h-9.86zM287.99 820l11.6 11.2m0 -11.2l-11.6 11.2M293.79 820l4.93 9.07h-9.86zM489.82 741.85l11.6 11.2m0 -11.2l-11.6 11.2M495.62 741.85l4.93 9.07h-9.86zM327.41 777.73l11.6 11.2m0 -11.2l-11.6 11.2M333.21 777.73l4.93 9.07h-9.86zM432.02 752.94l11.6 11.2m0 -11.2l-11.6 11.2M437.82 752.94l4.93 9.07h-9.86zM345.5 777.91l11.6 11.2m0 -11.2l-11.6 11.2M351.3 777.91l4.93 9.07h-9.86zM293.08 825.26l11.6 11.2m0 -11.2l-11.6 11.2M298.88 825.26l4.93 9.07h-9.86zM247.05 800.54l11.6 11.2m0 -11.2l-11.6 11.2M252.85 800.54l4.93 9.07h-9.86zM351.91 803.67l11.6 11.2m0 -11.2l-11.6 11.2M357.71 803.67l4.93 9.07h-9.86zM247.38 812.58l11.6 11.2m0 -11.2l-11.6 11.2M253.18 812.58l4.93 9.07h-9.86zM188.38 836.08l11.6 11.2m0 -11.2l-11.6 11.2M194.18 836.08l4.93 9.07h-9.86zM159.94 838.91l11.6 11.2m0 -11.2l-11.6 11.2M165.74 838.91l4.93 9.07h-9.86zM207.15 821.96l11.6 11.2m0 -11.2l-11.6 11.2M212.95 821.96l4.93 9.07h-9.86zM420.19 771l11.6 11.2m0 -11.2l-11.6 11.2M425.99 771l4.93 9.07h-9.86zM334.62 792.52l11.6 11.2m0 -11.2l-11.6 11.2M340.42 792.52l4.93 9.07h-9.86zM339.47 772.87l11.6 11.2m0 -11.2l-11.6 11.2M345.27 772.87l4.93 9.07h-9.86zM211.64 830.1l11.6 11.2m0 -11.2l-11.6 11.2M217.44 830.1l4.93 9.07h-9.86zM235.38 820.98l11.6 11.2m0 -11.2l-11.6 11.2M241.18 820.98l4.93 9.07h-9.86zM356.51 779.52l11.6 11.2m0 -11.2l-11.6 11.2M362.31 779.52l4.93 9.07h-9.86zM276.49 790.19l11.6 11.2m0 -11.2l-11.6 11.2M282.29 790.19l4.93 9.07h-9.86zM276.18 808.18l11.6 11.2m0 -11.2l-11.6 11.2M281.98 808.18l4.93 9.07h-9.86zM357.26 773.99l11.6 11.2m0 -11.2l-11.6 11.2M363.06 773.99l4.93 9.07h-9.86zM374.79 789.68l11.6 11.2m0 -11.2l-11.6 11.2M380.59 789.68l4.93 9.07h-9.86zM154.62 846.08l11.6 11.2m0 -11.2l-11.6 11.2M160.42 846.08l4.93 9.07h-9.86zM224.63 832.18l11.6 11.2m0 -11.2l-11.6 11.2M230.43 832.18l4.93 9.07h-9.86zM246.41 835.28l11.6 11.2m0 -11.2l-11.6 11.2M252.21 835.28l4.93 9.07h-9.86zM449.14 757.25l11.6 11.2m0 -11.2l-11.6 11.2M454.94 757.25l4.93 9.07h-9.86zM397.73 788.08l11.6 11.2m0 -11.2l-11.6 11.2M403.53 788.08l4.93 9.07h-9.86zM404.01 787.01l11.6 11.2m0 -11.2l-11.6 11.2M409.81 787.01l4.93 9.07h-9.86zM281.72 795l11.6 11.2m0 -11.2l-11.6 11.2M287.52 795l4.93 9.07h-9.86zM270.41 815.33l11.6 11.2m0 -11.2l-11.6 11.2M276.21 815.33l4.93 9.07h-9.86zM455.03 744.93l11.6 11.2m0 -11.2l-11.6 11.2M460.83 744.93l4.93 9.07h-9.86zM223.19 821.27l11.6 11.2m0 -11.2l-11.6 11.2M228.99 821.27l4.93 9.07h-9.86zM403.38 756.61l11.6 11.2m0 -11.2l-11.6 11.2M409.18 756.61l4.93 9.07h-9.86zM276.45 813.21l11.6 11.2m0 -11.2l-11.6 11.2M282.25 813.21l4.93 9.07h-9.86zM472.93 754.69l11.6 11.2m0 -11.2l-11.6 11.2M478.73 754.69l4.93 9.07h-9.86zM165.36 836.2l11.6 11.2m0 -11.2l-11.6 11.2M171.16 836.2l4.93 9.07h-9.86zM391.45 754.4l11.6 11.2m0 -11.2l-11.6 11.2M397.25 754.4l4.93 9.07h-9.86zM368.62 780.83l11.6 11.2m0 -11.2l-11.6 11.2M374.42 780.83l4.93 9.07h-9.86zM363.61 770.99l11.6 11.2m0 -11.2l-11.6 11.2M369.41 770.99l4.93 9.07h-9.86zM473.12 748.74l11.6 11.2m0 -11.2l-11.6 11.2M478.92 748.74l4.93 9.07h-9.86zM415.66 760.72l11.6 11.2m0 -11.2l-11.6 11.2M421.46 760.72l4.93 9.07h-9.86zM218.4 841.26l11.6 11.2m0 -11.2l-11.6 11.2M224.2 841.26l4.93 9.07h-9.86zM375.04 773.08l11.6 11.2m0 -11.2l-11.6 11.2M380.84 773.08l4.93 9.07h-9.86zM252.02 808.03l11.6 11.2m0 -11.2l-11.6 11.2M257.82 808.03l4.93 9.07h-9.86zM363.44 759l11.6 11.2m0 -11.2l-11.6 11.2M369.24 759l4.93 9.07h-9.86zM351.76 798.44l11.6 11.2m0 -11.2l-11.6 11.2M357.56 798.44l4.93 9.07h-9.86zM172.12 839.99l11.6 11.2m0 -11.2l-11.6 11.2M177.92 839.99l4.93 9.07h-9.86zM309.93 805.04l11.6 11.2m0 -11.2l-11.6 11.2M315.73 805.04l4.93 9.07h-9.86zM276.19 801.91l11.6 11.2m0 -11.2l-11.6 11.2M281.99 801.91l4.93 9.07h-9.86zM217.99 835.27l11.6 11.2m0 -11.2l-11.6 11.2M223.79 835.27l4.93 9.07h-9.86zM362.56 765.82l11.6 11.2m0 -11.2l-11.6 11.2M368.36 765.82l4.93 9.07h-9.86zM368.42 802.46l11.6 11.2m0 -11.2l-11.6 11.2M374.22 802.46l4.93 9.07h-9.86zM426.66 766.17l11.6 11.2m0 -11.2l-11.6 11.2M432.46 766.17l4.93 9.07h-9.86zM263.77 811.58l11.6 11.2m0 -11.2l-11.6 11.2M269.57 811.58l4.93 9.07h-9.86zM311.33 776.03l11.6 11.2m0 -11.2l-11.6 11.2M317.13 776.03l4.93 9.07h-9.86zM258.74 813.71l11.6 11.2m0 -11.2l-11.6 11.2M264.54 813.71l4.93 9.07h-9.86zM258.38 800.5l11.6 11.2m0 -11.2l-11.6 11.2M264.18 800.5l4.93 9.07h-9.86zM391.31 788.67l11.6 11.2m0 -11.2l-11.6 11.2M397.11 788.67l4.93 9.07h-9.86zM160.7 843.27l11.6 11.2m0 -11.2l-11.6 11.2M166.5 843.27l4.93 9.07h-9.86zM322.8 797.22l11.6 11.2m0 -11.2l-11.6 11.2M328.6 797.22l4.93 9.07h-9.86zM305.39 787.55l11.6 11.2m0 -11.2l-11.6 11.2M311.19 787.55l4.93 9.07h-9.86zM189.18 841.77l11.6 11.2m0 -11.2l-11.6 11.2M194.98 841.77l4.93 9.07h-9.86zM414.48 783.78l11.6 11.2m0 -11.2l-11.6 11.2M420.28 783.78l4.93 9.07h-9.86zM298.77 800.99l11.6 11.2m0 -11.2l-11.6 11.2M304.57 800.99l4.93 9.07h-9.86zM328.04 812.11l11.6 11.2m0 -11.2l-11.6 11.2M333.84 812.11l4.93 9.07h-9.86zM351.59 774.86l11.6 11.2m0 -11.2l-11.6 11.2M357.39 774.86l4.93 9.07h-9.86zM433.4 770.58l11.6 11.2m0 -11.2l-11.6 11.2M439.2 770.58l4.93 9.07h-9.86zM468.14 749.74l11.6 11.2m0 -11.2l-11.6 11.2M473.94 749.74l4.93 9.07h-9.86zM263.72 805.67l11.6 11.2m0 -11.2l-11.6 11.2M269.52 805.67l4.93 9.07h-9.86zM299.21 789.67l11.6 11.2m0 -11.2l-11.6 11.2M305.01 789.67l4.93 9.07h-9.86zM344.84 806.82l11.6 11.2m0 -11.2l-11.6 11.2M350.64 806.82l4.93 9.07h-9.86zM224.3 814.61l11.6 11.2m0 -11.2l-11.6 11.2M230.1 814.61l4.93 9.07h-9.86zM316.57 791.97l11.6 11.2m0 -11.2l-11.6 11.2M322.37 791.97l4.93 9.07h-9.86zM455.45 756.4l11.6 11.2m0 -11.2l-11.6 11.2M461.25 756.4l4.93 9.07h-9.86zM421.48 760.12l11.6 11.2m0 -11.2l-11.6 11.2M427.28 760.12l4.93 9.07h-9.86zM282.03 811.64l11.6 11.2m0 -11.2l-11.6 11.2M287.83 811.64l4.93 9.07h-9.86zM201.1 829.85l11.6 11.2m0 -11.2l-11.6 11.2M206.9 829.85l4.93 9.07h-9.86zM363.52 793.68l11.6 11.2m0 -11.2l-11.6 11.2M369.32 793.68l4.93 9.07h-9.86zM409.12 762.33l11.6 11.2m0 -11.2l-11.6 11.2M414.92 762.33l4.93 9.07h-9.86zM386.43 754.86l11.6 11.2m0 -11.2l-11.6 11.2M392.23 754.86l4.93 9.07h-9.86zM385.44 760.31l11.6 11.2m0 -11.2l-11.6 11.2M391.24 760.31l4.93 9.07h-9.86zM478.61 749.01l11.6 11.2m0 -11.2l-11.6 11.2M484.41 749.01l4.93 9.07h-9.86zM385.53 789.31l11.6 11.2m0 -11.2l-11.6 11.2M391.33 789.31l4.93 9.07h-9.86zM345.87 772.01l11.6 11.2m0 -11.2l-11.6 11.2M351.67 772.01l4.93 9.07h-9.86zM416.03 778.27l11.6 11.2m0 -11.2l-11.6 11.2M421.83 778.27l4.93 9.07h-9.86zM311.22 787.51l11.6 11.2m0 -11.2l-11.6 11.2M317.02 787.51l4.93 9.07h-9.86zM247.24 829.96l11.6 11.2m0 -11.2l-11.6 11.2M253.04 829.96l4.93 9.07h-9.86zM305.56 805.1l11.6 11.2m0 -11.2l-11.6 11.2M311.36 805.1l4.93 9.07h-9.86zM247.76 806.34l11.6 11.2m0 -11.2l-11.6 11.2M253.56 806.34l4.93 9.07h-9.86zM316.38 775.45l11.6 11.2m0 -11.2l-11.6 11.2M322.18 775.45l4.93 9.07h-9.86zM339.04 797.14l11.6 11.2m0 -11.2l-11.6 11.2M344.84 797.14l4.93 9.07h-9.86zM292.81 802.1l11.6 11.2m0 -11.2l-11.6 11.2M298.61 802.1l4.93 9.07h-9.86zM235.04 827.09l11.6 11.2m0 -11.2l-11.6 11.2M240.84 827.09l4.93 9.07h-9.86zM403.38 763.4l11.6 11.2m0 -11.2l-11.6 11.2M409.18 763.4l4.93 9.07h-9.86zM420.85 778.28l11.6 11.2m0 -11.2l-11.6 11.2M426.65 778.28l4.93 9.07h-9.86zM281.6 817.29l11.6 11.2m0 -11.2l-11.6 11.2M287.4 817.29l4.93 9.07h-9.86zM294.06 818.65l11.6 11.2m0 -11.2l-11.6 11.2M299.86 818.65l4.93 9.07h-9.86zM443.97 757.3l11.6 11.2m0 -11.2l-11.6 11.2M449.77 757.3l4.93 9.07h-9.86zM437.99 758.52l11.6 11.2m0 -11.2l-11.6 11.2M443.79 758.52l4.93 9.07h-9.86zM224.2 838.03l11.6 11.2m0 -11.2l-11.6 11.2M230 838.03l4.93 9.07h-9.86zM380.61 795.96l11.6 11.2m0 -11.2l-11.6 11.2M386.41 795.96l4.93 9.07h-9.86zM252.31 797.39l11.6 11.2m0 -11.2l-11.6 11.2M258.11 797.39l4.93 9.07h-9.86zM443.52 751.78l11.6 11.2m0 -11.2l-11.6 11.2M449.32 751.78l4.93 9.07h-9.86zM311.01 810.76l11.6 11.2m0 -11.2l-11.6 11.2M316.81 810.76l4.93 9.07h-9.86zM345.19 800.87l11.6 11.2m0 -11.2l-11.6 11.2M350.99 800.87l4.93 9.07h-9.86zM484.39 748.17l11.6 11.2m0 -11.2l-11.6 11.2M490.19 748.17l4.93 9.07h-9.86zM449.36 750.95l11.6 11.2m0 -11.2l-11.6 11.2M455.16 750.95l4.93 9.07h-9.86zM339.1 808.25l11.6 11.2m0 -11.2l-11.6 11.2M344.9 808.25l4.93 9.07h-9.86zM188.65 831.24l11.6 11.2m0 -11.2l-11.6 11.2M194.45 831.24l4.93 9.07h-9.86zM345.2 789.5l11.6 11.2m0 -11.2l-11.6 11.2M351 789.5l4.93 9.07h-9.86zM461.97 745.36l11.6 11.2m0 -11.2l-11.6 11.2M467.77 745.36l4.93 9.07h-9.86zM380.21 759.61l11.6 11.2m0 -11.2l-11.6 11.2M386.01 759.61l4.93 9.07h-9.86zM398.35 765.09l11.6 11.2m0 -11.2l-11.6 11.2M404.15 765.09l4.93 9.07h-9.86zM264.04 823.77l11.6 11.2m0 -11.2l-11.6 11.2M269.84 823.77l4.93 9.07h-9.86zM235.16 815.07l11.6 11.2m0 -11.2l-11.6 11.2M240.96 815.07l4.93 9.07h-9.86zM397.11 759.21l11.6 11.2m0 -11.2l-11.6 11.2M402.91 759.21l4.93 9.07h-9.86zM333.28 781.1l11.6 11.2m0 -11.2l-11.6 11.2M339.08 781.1l4.93 9.07h-9.86zM467.97 755.26l11.6 11.2m0 -11.2l-11.6 11.2M473.77 755.26l4.93 9.07h-9.86zM304.55 777.38l11.6 11.2m0 -11.2l-11.6 11.2M310.35 777.38l4.93 9.07h-9.86zM234.97 838.21l11.6 11.2m0 -11.2l-11.6 11.2M240.77 838.21l4.93 9.07h-9.86zM455.6 750.42l11.6 11.2m0 -11.2l-11.6 11.2M461.4 750.42l4.93 9.07h-9.86zM287 801.92l11.6 11.2m0 -11.2l-11.6 11.2M292.8 801.92l4.93 9.07h-9.86zM292.79 796.28l11.6 11.2m0 -11.2l-11.6 11.2M298.59 796.28l4.93 9.07h-9.86zM310.83 782.05l11.6 11.2m0 -11.2l-11.6 11.2M316.63 782.05l4.93 9.07h-9.86zM258.71 831.11l11.6 11.2m0 -11.2l-11.6 11.2M264.51 831.11l4.93 9.07h-9.86zM252.74 820.06l11.6 11.2m0 -11.2l-11.6 11.2M258.54 820.06l4.93 9.07h-9.86zM340.36 779.06l11.6 11.2m0 -11.2l-11.6 11.2M346.16 779.06l4.93 9.07h-9.86zM288.11 813.65l11.6 11.2m0 -11.2l-11.6 11.2M293.91 813.65l4.93 9.07h-9.86zM438.88 763.27l11.6 11.2m0 -11.2l-11.6 11.2M444.68 763.27l4.93 9.07h-9.86zM380.77 783.45l11.6 11.2m0 -11.2l-11.6 11.2M386.57 783.45l4.93 9.07h-9.86zM333.2 770.64l11.6 11.2m0 -11.2l-11.6 11.2M339 770.64l4.93 9.07h-9.86zM328.02 805.88l11.6 11.2m0 -11.2l-11.6 11.2M333.82 805.88l4.93 9.07h-9.86zM473.19 743.82l11.6 11.2m0 -11.2l-11.6 11.2M478.99 743.82l4.93 9.07h-9.86zM357.33 790.54l11.6 11.2m0 -11.2l-11.6 11.2M363.13 790.54l4.93 9.07h-9.86zM496.55 746.27l11.6 11.2m0 -11.2l-11.6 11.2M502.35 746.27l4.93 9.07h-9.86zM321.67 779.27l11.6 11.2m0 -11.2l-11.6 11.2M327.47 779.27l4.93 9.07h-9.86zM392.25 760.53l11.6 11.2m0 -11.2l-11.6 11.2M398.05 760.53l4.93 9.07h-9.86zM246.86 824l11.6 11.2m0 -11.2l-11.6 11.2M252.66 824l4.93 9.07h-9.86zM229.43 811.97l11.6 11.2m0 -11.2l-11.6 11.2M235.23 811.97l4.93 9.07h-9.86zM357.92 761.51l11.6 11.2m0 -11.2l-11.6 11.2M363.72 761.51l4.93 9.07h-9.86zM275.94 824.91l11.6 11.2m0 -11.2l-11.6 11.2M281.74 824.91l4.93 9.07h-9.86zM292.63 813.61l11.6 11.2m0 -11.2l-11.6 11.2M298.43 813.61l4.93 9.07h-9.86zM201.03 824.88l11.6 11.2m0 -11.2l-11.6 11.2M206.83 824.88l4.93 9.07h-9.86zM275.4 797l11.6 11.2m0 -11.2l-11.6 11.2M281.2 797l4.93 9.07h-9.86zM264.18 817.03l11.6 11.2m0 -11.2l-11.6 11.2M269.98 817.03l4.93 9.07h-9.86zM298.49 823.1l11.6 11.2m0 -11.2l-11.6 11.2M304.29 823.1l4.93 9.07h-9.86zM334.07 798.8l11.6 11.2m0 -11.2l-11.6 11.2M339.87 798.8l4.93 9.07h-9.86zM205.69 844.12l11.6 11.2m0 -11.2l-11.6 11.2M211.49 844.12l4.93 9.07h-9.86zM327.42 800.4l11.6 11.2m0 -11.2l-11.6 11.2M333.22 800.4l4.93 9.07h-9.86zM398.61 775.47l11.6 11.2m0 -11.2l-11.6 11.2M404.41 775.47l4.93 9.07h-9.86zM305.2 817.06l11.6 11.2m0 -11.2l-11.6 11.2M311 817.06l4.93 9.07h-9.86zM311.48 799.26l11.6 11.2m0 -11.2l-11.6 11.2M317.28 799.26l4.93 9.07h-9.86zM172.32 835.28l11.6 11.2m0 -11.2l-11.6 11.2M178.12 835.28l4.93 9.07h-9.86zM288.31 789.55l11.6 11.2m0 -11.2l-11.6 11.2M294.11 789.55l4.93 9.07h-9.86zM241.84 822.56l11.6 11.2m0 -11.2l-11.6 11.2M247.64 822.56l4.93 9.07h-9.86zM195.16 838.49l11.6 11.2m0 -11.2l-11.6 11.2M200.96 838.49l4.93 9.07h-9.86zM287.48 784.48l11.6 11.2m0 -11.2l-11.6 11.2M293.28 784.48l4.93 9.07h-9.86zM292.72 807.47l11.6 11.2m0 -11.2l-11.6 11.2M298.52 807.47l4.93 9.07h-9.86zM386.86 766.4l11.6 11.2m0 -11.2l-11.6 11.2M392.66 766.4l4.93 9.07h-9.86zM362.2 781.81l11.6 11.2m0 -11.2l-11.6 11.2M368 781.81l4.93 9.07h-9.86zM299.47 817.23l11.6 11.2m0 -11.2l-11.6 11.2M305.27 817.23l4.93 9.07h-9.86zM346.39 783.56l11.6 11.2m0 -11.2l-11.6 11.2M352.19 783.56l4.93 9.07h-9.86zM421.7 766.28l11.6 11.2m0 -11.2l-11.6 11.2M427.5 766.28l4.93 9.07h-9.86zM368.6 774.15l11.6 11.2m0 -11.2l-11.6 11.2M374.4 774.15l4.93 9.07h-9.86zM182.83 833.3l11.6 11.2m0 -11.2l-11.6 11.2M188.63 833.3l4.93 9.07h-9.86zM229.2 829.78l11.6 11.2m0 -11.2l-11.6 11.2M235 829.78l4.93 9.07h-9.86zM194.77 833.14l11.6 11.2m0 -11.2l-11.6 11.2M200.57 833.14l4.93 9.07h-9.86zM258.37 823.89l11.6 11.2m0 -11.2l-11.6 11.2M264.17 823.89l4.93 9.07h-9.86zM362.38 777.16l11.6 11.2m0 -11.2l-11.6 11.2M368.18 777.16l4.93 9.07h-9.86zM368.95 762.04l11.6 11.2m0 -11.2l-11.6 11.2M374.75 762.04l4.93 9.07h-9.86zM368.86 792.11l11.6 11.2m0 -11.2l-11.6 11.2M374.66 792.11l4.93 9.07h-9.86zM432.39 759.5l11.6 11.2m0 -11.2l-11.6 11.2M438.19 759.5l4.93 9.07h-9.86zM392.8 771.48l11.6 11.2m0 -11.2l-11.6 11.2M398.6 771.48l4.93 9.07h-9.86zM409.9 756.05l11.6 11.2m0 -11.2l-11.6 11.2M415.7 756.05l4.93 9.07h-9.86zM408.7 779.08l11.6 11.2m0 -11.2l-11.6 11.2M414.5 779.08l4.93 9.07h-9.86zM194.52 827.82l11.6 11.2m0 -11.2l-11.6 11.2M200.32 827.82l4.93 9.07h-9.86zM437.58 751.73l11.6 11.2m0 -11.2l-11.6 11.2M443.38 751.73l4.93 9.07h-9.86zM386.07 771.85l11.6 11.2m0 -11.2l-11.6 11.2M391.87 771.85l4.93 9.07h-9.86zM265.2 829.47l11.6 11.2m0 -11.2l-11.6 11.2M271 829.47l4.93 9.07h-9.86zM368.48 767.57l11.6 11.2m0 -11.2l-11.6 11.2M374.28 767.57l4.93 9.07h-9.86zM281.27 822.92l11.6 11.2m0 -11.2l-11.6 11.2M287.07 822.92l4.93 9.07h-9.86zM205.72 833.23l11.6 11.2m0 -11.2l-11.6 11.2M211.52 833.23l4.93 9.07h-9.86zM252 802.82l11.6 11.2m0 -11.2l-11.6 11.2M257.8 802.82l4.93 9.07h-9.86zM351.16 780.83l11.6 11.2m0 -11.2l-11.6 11.2M356.96 780.83l4.93 9.07h-9.86zM346.04 765.86l11.6 11.2m0 -11.2l-11.6 11.2M351.84 765.86l4.93 9.07h-9.86zM269.78 793.07l11.6 11.2m0 -11.2l-11.6 11.2M275.58 793.07l4.93 9.07h-9.86zM327.44 772.34l11.6 11.2m0 -11.2l-11.6 11.2M333.24 772.34l4.93 9.07h-9.86zM230.45 818.49l11.6 11.2m0 -11.2l-11.6 11.2M236.25 818.49l4.93 9.07h-9.86zM281.96 788.43l11.6 11.2m0 -11.2l-11.6 11.2M287.76 788.43l4.93 9.07h-9.86zM456.54 762.06l11.6 11.2m0 -11.2l-11.6 11.2M462.34 762.06l4.93 9.07h-9.86zM350.7 792.78l11.6 11.2m0 -11.2l-11.6 11.2M356.5 792.78l4.93 9.07h-9.86zM183.53 844.91l11.6 11.2m0 -11.2l-11.6 11.2M189.33 844.91l4.93 9.07h-9.86zM432.23 747.5l11.6 11.2m0 -11.2l-11.6 11.2M438.03 747.5l4.93 9.07h-9.86zM315.99 780.75l11.6 11.2m0 -11.2l-11.6 11.2M321.79 780.75l4.93 9.07h-9.86zM350.58 764.02l11.6 11.2m0 -11.2l-11.6 11.2M356.38 764.02l4.93 9.07h-9.86zM363.63 800l11.6 11.2m0 -11.2l-11.6 11.2M369.43 800l4.93 9.07h-9.86zM258.44 795.55l11.6 11.2m0 -11.2l-11.6 11.2M264.24 795.55l4.93 9.07h-9.86zM445.03 746.09l11.6 11.2m0 -11.2l-11.6 11.2M450.83 746.09l4.93 9.07h-9.86zM409.69 772.58l11.6 11.2m0 -11.2l-11.6 11.2M415.49 772.58l4.93 9.07h-9.86zM207.03 837.79l11.6 11.2m0 -11.2l-11.6 11.2M212.83 837.79l4.93 9.07h-9.86zM206.15 827.04l11.6 11.2m0 -11.2l-11.6 11.2M211.95 827.04l4.93 9.07h-9.86zM402.93 780.44l11.6 11.2m0 -11.2l-11.6 11.2M408.73 780.44l4.93 9.07h-9.86zM212.93 818.99l11.6 11.2m0 -11.2l-11.6 11.2M218.73 818.99l4.93 9.07h-9.86zM351.55 787.5l11.6 11.2m0 -11.2l-11.6 11.2M357.35 787.5l4.93 9.07h-9.86zM414.95 755.71l11.6 11.2m0 -11.2l-11.6 11.2M420.75 755.71l4.93 9.07h-9.86zM212.28 824.71l11.6 11.2m0 -11.2l-11.6 11.2M218.08 824.71l4.93 9.07h-9.86zM356.68 802.28l11.6 11.2m0 -11.2l-11.6 11.2M362.48 802.28l4.93 9.07h-9.86zM385.86 777.22l11.6 11.2m0 -11.2l-11.6 11.2M391.66 777.22l4.93 9.07h-9.86zM201.39 841.15l11.6 11.2m0 -11.2l-11.6 11.2M207.19 841.15l4.93 9.07h-9.86zM327.94 788.54l11.6 11.2m0 -11.2l-11.6 11.2M333.74 788.54l4.93 9.07h-9.86zM339.68 791.12l11.6 11.2m0 -11.2l-11.6 11.2M345.48 791.12l4.93 9.07h-9.86zM432.07 763.77l11.6 11.2m0 -11.2l-11.6 11.2M437.87 763.77l4.93 9.07h-9.86zM391.24 765.97l11.6 11.2m0 -11.2l-11.6 11.2M397.04 765.97l4.93 9.07h-9.86zM304.33 800.74l11.6 11.2m0 -11.2l-11.6 11.2M310.13 800.74l4.93 9.07h-9.86zM339.28 802.22l11.6 11.2m0 -11.2l-11.6 11.2M345.08 802.22l4.93 9.07h-9.86zM427.52 747.86l11.6 11.2m0 -11.2l-11.6 11.2M433.32 747.86l4.93 9.07h-9.86zM450.01 762.77l11.6 11.2m0 -11.2l-11.6 11.2M455.81 762.77l4.93 9.07h-9.86zM421.01 753.65l11.6 11.2m0 -11.2l-11.6 11.2M426.81 753.65l4.93 9.07h-9.86zM240.94 810.88l11.6 11.2m0 -11.2l-11.6 11.2M246.74 810.88l4.93 9.07h-9.86zM316.01 786.61l11.6 11.2m0 -11.2l-11.6 11.2M321.81 786.61l4.93 9.07h-9.86zM321.95 802.94l11.6 11.2m0 -11.2l-11.6 11.2M327.75 802.94l4.93 9.07h-9.86zM299.61 811.6l11.6 11.2m0 -11.2l-11.6 11.2M305.41 811.6l4.93 9.07h-9.86zM363.38 788.88l11.6 11.2m0 -11.2l-11.6 11.2M369.18 788.88l4.93 9.07h-9.86zM415.23 771.79l11.6 11.2m0 -11.2l-11.6 11.2M421.03 771.79l4.93 9.07h-9.86zM299.96 777.27l11.6 11.2m0 -11.2l-11.6 11.2M305.76 777.27l4.93 9.07h-9.86zM485.49 752.76l11.6 11.2m0 -11.2l-11.6 11.2M491.29 752.76l4.93 9.07h-9.86zM496.39 741.79l11.6 11.2m0 -11.2l-11.6 11.2M502.19 741.79l4.93 9.07h-9.86zM392.34 783.99l11.6 11.2m0 -11.2l-11.6 11.2M398.14 783.99l4.93 9.07h-9.86zM304.75 811.06l11.6 11.2m0 -11.2l-11.6 11.2M310.55 811.06l4.93 9.07h-9.86zM369.54 786.13l11.6 11.2m0 -11.2l-11.6 11.2M375.34 786.13l4.93 9.07h-9.86zM257.89 807.19l11.6 11.2m0 -11.2l-11.6 11.2M263.69 807.19l4.93 9.07h-9.86zM176.75 833.79l11.6 11.2m0 -11.2l-11.6 11.2M182.55 833.79l4.93 9.07h-9.86zM334.72 810.09l11.6 11.2m0 -11.2l-11.6 11.2M340.52 810.09l4.93 9.07h-9.86zM374.21 767.36l11.6 11.2m0 -11.2l-11.6 11.2M380.01 767.36l4.93 9.07h-9.86zM398.54 771.16l11.6 11.2m0 -11.2l-11.6 11.2M404.34 771.16l4.93 9.07h-9.86zM270.05 797.71l11.6 11.2m0 -11.2l-11.6 11.2M275.85 797.71l4.93 9.07h-9.86zM392.25 778.34l11.6 11.2m0 -11.2l-11.6 11.2M398.05 778.34l4.93 9.07h-9.86zM251.93 831.71l11.6 11.2m0 -11.2l-11.6 11.2M257.73 831.71l4.93 9.07h-9.86zM281.88 799.23l11.6 11.2m0 -11.2l-11.6 11.2M287.68 799.23l4.93 9.07h-9.86zM270.69 821.8l11.6 11.2m0 -11.2l-11.6 11.2M276.49 821.8l4.93 9.07h-9.86zM357.1 767.84l11.6 11.2m0 -11.2l-11.6 11.2M362.9 767.84l4.93 9.07h-9.86zM404.05 775.06l11.6 11.2m0 -11.2l-11.6 11.2M409.85 775.06l4.93 9.07h-9.86zM368.96 797.7l11.6 11.2m0 -11.2l-11.6 11.2M374.76 797.7l4.93 9.07h-9.86zM368.58 756.88l11.6 11.2m0 -11.2l-11.6 11.2M374.38 756.88l4.93 9.07h-9.86zM223.72 827.33l11.6 11.2m0 -11.2l-11.6 11.2M229.52 827.33l4.93 9.07h-9.86zM339.07 784.75l11.6 11.2m0 -11.2l-11.6 11.2M344.87 784.75l4.93 9.07h-9.86zM258.46 819.26l11.6 11.2m0 -11.2l-11.6 11.2M264.26 819.26l4.93 9.07h-9.86zM229.6 823.21l11.6 11.2m0 -11.2l-11.6 11.2M235.4 823.21l4.93 9.07h-9.86zM379.84 766.54l11.6 11.2m0 -11.2l-11.6 11.2M385.64 766.54l4.93 9.07h-9.86zM281.04 829.66l11.6 11.2m0 -11.2l-11.6 11.2M286.84 829.66l4.93 9.07h-9.86zM322.65 808.32l11.6 11.2m0 -11.2l-11.6 11.2M328.45 808.32l4.93 9.07h-9.86zM305.79 794.44l11.6 11.2m0 -11.2l-11.6 11.2M311.59 794.44l4.93 9.07h-9.86zM286.85 807.1l11.6 11.2m0 -11.2l-11.6 11.2M292.65 807.1l4.93 9.07h-9.86zM264.14 800.44l11.6 11.2m0 -11.2l-11.6 11.2M269.94 800.44l4.93 9.07h-9.86zM351.15 770.16l11.6 11.2m0 -11.2l-11.6 11.2M356.95 770.16l4.93 9.07h-9.86zM379.9 789.13l11.6 11.2m0 -11.2l-11.6 11.2M385.7 789.13l4.93 9.07h-9.86zM397.09 753.15l11.6 11.2m0 -11.2l-11.6 11.2M402.89 753.15l4.93 9.07h-9.86zM404.41 769.65l11.6 11.2m0 -11.2l-11.6 11.2M410.21 769.65l4.93 9.07h-9.86zM328.89 795.03l11.6 11.2m0 -11.2l-11.6 11.2M334.69 795.03l4.93 9.07h-9.86zM154.62 840.75l11.6 11.2m0 -11.2l-11.6 11.2M160.42 840.75l4.93 9.07h-9.86zM316.9 804.33l11.6 11.2m0 -11.2l-11.6 11.2M322.7 804.33l4.93 9.07h-9.86zM316.37 799.34l11.6 11.2m0 -11.2l-11.6 11.2M322.17 799.34l4.93 9.07h-9.86zM375.29 795.53l11.6 11.2m0 -11.2l-11.6 11.2M381.09 795.53l4.93 9.07h-9.86zM304.69 783.04l11.6 11.2m0 -11.2l-11.6 11.2M310.49 783.04l4.93 9.07h-9.86zM321.88 773.8l11.6 11.2m0 -11.2l-11.6 11.2M327.68 773.8l4.93 9.07h-9.86zM357.01 795.88l11.6 11.2m0 -11.2l-11.6 11.2M362.81 795.88l4.93 9.07h-9.86zM247.49 818.12l11.6 11.2m0 -11.2l-11.6 11.2M253.29 818.12l4.93 9.07h-9.86zM304.37 823.7l11.6 11.2m0 -11.2l-11.6 11.2M310.17 823.7l4.93 9.07h-9.86zM217.23 829.6l11.6 11.2m0 -11.2l-11.6 11.2M223.03 829.6l4.93 9.07h-9.86zM414.77 766.69l11.6 11.2m0 -11.2l-11.6 11.2M420.57 766.69l4.93 9.07h-9.86zM409.04 750.17l11.6 11.2m0 -11.2l-11.6 11.2M414.84 750.17l4.93 9.07h-9.86zM316.9 816.38l11.6 11.2m0 -11.2l-11.6 11.2M322.7 816.38l4.93 9.07h-9.86zM381.11 772.27l11.6 11.2m0 -11.2l-11.6 11.2M386.91 772.27l4.93 9.07h-9.86zM218.57 823l11.6 11.2m0 -11.2l-11.6 11.2M224.37 823l4.93 9.07h-9.86zM199.75 835.09l11.6 11.2m0 -11.2l-11.6 11.2M205.55 835.09l4.93 9.07h-9.86zM229.36 835.59l11.6 11.2m0 -11.2l-11.6 11.2M235.16 835.59l4.93 9.07h-9.86zM445.01 762.68l11.6 11.2m0 -11.2l-11.6 11.2M450.81 762.68l4.93 9.07h-9.86zM211.41 843.28l11.6 11.2m0 -11.2l-11.6 11.2M217.21 843.28l4.93 9.07h-9.86zM241.77 816.17l11.6 11.2m0 -11.2l-11.6 11.2M247.57 816.17l4.93 9.07h-9.86zM415 750.12l11.6 11.2m0 -11.2l-11.6 11.2M420.8 750.12l4.93 9.07h-9.86zM292.62 779.45l11.6 11.2m0 -11.2l-11.6 11.2M298.42 779.45l4.93 9.07h-9.86zM437.94 747.21l11.6 11.2m0 -11.2l-11.6 11.2M443.74 747.21l4.93 9.07h-9.86zM462.35 755.46l11.6 11.2m0 -11.2l-11.6 11.2M468.15 755.46l4.93 9.07h-9.86zM374.35 755.52l11.6 11.2m0 -11.2l-11.6 11.2M380.15 755.52l4.93 9.07h-9.86zM462.45 750.06l11.6 11.2m0 -11.2l-11.6 11.2M468.25 750.06l4.93 9.07h-9.86zM408.62 767.38l11.6 11.2m0 -11.2l-11.6 11.2M414.42 767.38l4.93 9.07h-9.86zM135.8 848.7l11.6 11.2m0 -11.2l-11.6 11.2M141.6 848.7l4.93 9.07h-9.86zM135.8 848.7l11.6 11.2m0 -11.2l-11.6 11.2M141.6 848.7l4.93 9.07h-9.86zM507.2 742.4l11.6 11.2m0 -11.2l-11.6 11.2M513 742.4l4.93 9.07h-9.86zM512.2 742.9l11.6 11.2m0 -11.2l-11.6 11.2M518 742.9l4.93 9.07h-9.86zM517.6 741.9l11.6 11.2m0 -11.2l-11.6 11.2M523.4 741.9l4.93 9.07h-9.86zM524.2 742.4l11.6 11.2m0 -11.2l-11.6 11.2M530 742.4l4.93 9.07h-9.86zM531.7 741.9l11.6 11.2m0 -11.2l-11.6 11.2M537.5 741.9l4.93 9.07h-9.86zM573.8 739.9l11.6 11.2m0 -11.2l-11.6 11.2M579.6 739.9l4.93 9.07h-9.86z"/>
<line clip-path="url(#cp1)" x1="141.2" y1="865.3" x2="550.7" y2="726.8" stroke="#F01414" stroke-width="2.4"/>
<line x1="92" y1="745.65" x2="99.5" y2="745.65" stroke="#151515" stroke-width="1.5"/>
<line x1="669" y1="745.65" x2="661.5" y2="745.65" stroke="#151515" stroke-width="1.5"/>
<text x="83" y="751.25" font-size="16.8" text-anchor="end">-0.092</text>
<line x1="92" y1="782.5" x2="99.5" y2="782.5" stroke="#151515" stroke-width="1.5"/>
<line x1="669" y1="782.5" x2="661.5" y2="782.5" stroke="#151515" stroke-width="1.5"/>
<text x="83" y="788.1" font-size="16.8" text-anchor="end">-0.115</text>
<line x1="92" y1="819.35" x2="99.5" y2="819.35" stroke="#151515" stroke-width="1.5"/>
<line x1="669" y1="819.35" x2="661.5" y2="819.35" stroke="#151515" stroke-width="1.5"/>
<text x="83" y="824.95" font-size="16.8" text-anchor="end">-0.138</text>
<line x1="92" y1="856.19" x2="99.5" y2="856.19" stroke="#151515" stroke-width="1.5"/>
<line x1="669" y1="856.19" x2="661.5" y2="856.19" stroke="#151515" stroke-width="1.5"/>
<text x="83" y="861.79" font-size="16.8" text-anchor="end">-0.161</text>
<line x1="92" y1="764.08" x2="95.8" y2="764.08" stroke="#151515" stroke-width="1.5"/>
<line x1="669" y1="764.08" x2="665.2" y2="764.08" stroke="#151515" stroke-width="1.5"/>
<line x1="92" y1="800.92" x2="95.8" y2="800.92" stroke="#151515" stroke-width="1.5"/>
<line x1="669" y1="800.92" x2="665.2" y2="800.92" stroke="#151515" stroke-width="1.5"/>
<line x1="92" y1="837.77" x2="95.8" y2="837.77" stroke="#151515" stroke-width="1.5"/>
<line x1="669" y1="837.77" x2="665.2" y2="837.77" stroke="#151515" stroke-width="1.5"/>
<line x1="92" y1="870.1" x2="92" y2="862.6" stroke="#151515" stroke-width="1.5"/>
<line x1="257.2" y1="870.1" x2="257.2" y2="862.6" stroke="#151515" stroke-width="1.5"/>
<line x1="422.4" y1="870.1" x2="422.4" y2="862.6" stroke="#151515" stroke-width="1.5"/>
<line x1="587.6" y1="870.1" x2="587.6" y2="862.6" stroke="#151515" stroke-width="1.5"/>
<line x1="174.6" y1="870.1" x2="174.6" y2="866.3" stroke="#151515" stroke-width="1.5"/>
<line x1="339.8" y1="870.1" x2="339.8" y2="866.3" stroke="#151515" stroke-width="1.5"/>
<line x1="505" y1="870.1" x2="505" y2="866.3" stroke="#151515" stroke-width="1.5"/>
<line x1="670.2" y1="870.1" x2="670.2" y2="866.3" stroke="#151515" stroke-width="1.5"/>
<text transform="translate(27,787.9) rotate(-90)" font-size="21" text-anchor="middle">Medium</text>
<path clip-path="url(#cp2)" fill="none" stroke="#111" stroke-width="1" d="M342.04 941.25l8.84 8.84m0 -8.84l-8.84 8.84M341.56 945.68a4.9 4.9 0 1 0 9.8 0a4.9 4.9 0 1 0 -9.8 0M294.64 960.13l8.84 8.84m0 -8.84l-8.84 8.84M294.16 964.55a4.9 4.9 0 1 0 9.8 0a4.9 4.9 0 1 0 -9.8 0M319.29 924.85l8.84 8.84m0 -8.84l-8.84 8.84M318.81 929.27a4.9 4.9 0 1 0 9.8 0a4.9 4.9 0 1 0 -9.8 0M444.53 893.74l8.84 8.84m0 -8.84l-8.84 8.84M444.05 898.16a4.9 4.9 0 1 0 9.8 0a4.9 4.9 0 1 0 -9.8 0M330.16 938.85l8.84 8.84m0 -8.84l-8.84 8.84M329.69 943.27a4.9 4.9 0 1 0 9.8 0a4.9 4.9 0 1 0 -9.8 0M391.11 910.29l8.84 8.84m0 -8.84l-8.84 8.84M390.64 914.71a4.9 4.9 0 1 0 9.8 0a4.9 4.9 0 1 0 -9.8 0M456.29 903.13l8.84 8.84m0 -8.84l-8.84 8.84M455.82 907.55a4.9 4.9 0 1 0 9.8 0a4.9 4.9 0 1 0 -9.8 0M294.44 954.83l8.84 8.84m0 -8.84l-8.84 8.84M293.96 959.26a4.9 4.9 0 1 0 9.8 0a4.9 4.9 0 1 0 -9.8 0M288.31 945.2l8.84 8.84m0 -8.84l-8.84 8.84M287.83 949.62a4.9 4.9 0 1 0 9.8 0a4.9 4.9 0 1 0 -9.8 0M414.09 909.64l8.84 8.84m0 -8.84l-8.84 8.84M413.62 914.06a4.9 4.9 0 1 0 9.8 0a4.9 4.9 0 1 0 -9.8 0M390.9 903.83l8.84 8.84m0 -8.84l-8.84 8.84M390.43 908.25a4.9 4.9 0 1 0 9.8 0a4.9 4.9 0 1 0 -9.8 0M211.38 977.48l8.84 8.84m0 -8.84l-8.84 8.84M210.9 981.91a4.9 4.9 0 1 0 9.8 0a4.9 4.9 0 1 0 -9.8 0M402.52 918.22l8.84 8.84m0 -8.84l-8.84 8.84M402.04 922.64a4.9 4.9 0 1 0 9.8 0a4.9 4.9 0 1 0 -9.8 0M372.38 929.34l8.84 8.84m0 -8.84l-8.84 8.84M371.9 933.76a4.9 4.9 0 1 0 9.8 0a4.9 4.9 0 1 0 -9.8 0M487.43 891.96l8.84 8.84m0 -8.84l-8.84 8.84M486.95 896.38a4.9 4.9 0 1 0 9.8 0a4.9 4.9 0 1 0 -9.8 0M324.98 934.43l8.84 8.84m0 -8.84l-8.84 8.84M324.5 938.85a4.9 4.9 0 1 0 9.8 0a4.9 4.9 0 1 0 -9.8 0M234 963.5l8.84 8.84m0 -8.84l-8.84 8.84M233.52 967.92a4.9 4.9 0 1 0 9.8 0a4.9 4.9 0 1 0 -9.8 0M323.97 923.47l8.84 8.84m0 -8.84l-8.84 8.84M323.49 927.89a4.9 4.9 0 1 0 9.8 0a4.9 4.9 0 1 0 -9.8 0M301.12 934.03l8.84 8.84m0 -8.84l-8.84 8.84M300.64 938.45a4.9 4.9 0 1 0 9.8 0a4.9 4.9 0 1 0 -9.8 0M408.72 916.31l8.84 8.84m0 -8.84l-8.84 8.84M408.25 920.73a4.9 4.9 0 1 0 9.8 0a4.9 4.9 0 1 0 -9.8 0M359.97 915.61l8.84 8.84m0 -8.84l-8.84 8.84M359.49 920.03a4.9 4.9 0 1 0 9.8 0a4.9 4.9 0 1 0 -9.8 0M439.37 894.79l8.84 8.84m0 -8.84l-8.84 8.84M438.89 899.22a4.9 4.9 0 1 0 9.8 0a4.9 4.9 0 1 0 -9.8 0M192.45 977.58l8.84 8.84m0 -8.84l-8.84 8.84M191.97 982a4.9 4.9 0 1 0 9.8 0a4.9 4.9 0 1 0 -9.8 0M366.53 925.94l8.84 8.84m0 -8.84l-8.84 8.84M366.05 930.37a4.9 4.9 0 1 0 9.8 0a4.9 4.9 0 1 0 -9.8 0M277.19 951.89l8.84 8.84m0 -8.84l-8.84 8.84M276.71 956.31a4.9 4.9 0 1 0 9.8 0a4.9 4.9 0 1 0 -9.8 0M467.79 890.17l8.84 8.84m0 -8.84l-8.84 8.84M467.31 894.59a4.9 4.9 0 1 0 9.8 0a4.9 4.9 0 1 0 -9.8 0M432.35 908.5l8.84 8.84m0 -8.84l-8.84 8.84M431.87 912.93a4.9 4.9 0 1 0 9.8 0a4.9 4.9 0 1 0 -9.8 0M396.37 908.34l8.84 8.84m0 -8.84l-8.84 8.84M395.89 912.76a4.9 4.9 0 1 0 9.8 0a4.9 4.9 0 1 0 -9.8 0M306.69 933.94l8.84 8.84m0 -8.84l-8.84 8.84M306.21 938.36a4.9 4.9 0 1 0 9.8 0a4.9 4.9 0 1 0 -9.8 0M371.72 911.3l8.84 8.84m0 -8.84l-8.84 8.84M371.24 915.72a4.9 4.9 0 1 0 9.8 0a4.9 4.9 0 1 0 -9.8 0M271.36 961.78l8.84 8.84m0 -8.84l-8.84 8.84M270.89 966.2a4.9 4.9 0 1 0 9.8 0a4.9 4.9 0 1 0 -9.8 0M281.98 959.73l8.84 8.84m0 -8.84l-8.84 8.84M281.51 964.15a4.9 4.9 0 1 0 9.8 0a4.9 4.9 0 1 0 -9.8 0M409.42 904.86l8.84 8.84m0 -8.84l-8.84 8.84M408.94 909.28a4.9 4.9 0 1 0 9.8 0a4.9 4.9 0 1 0 -9.8 0M420.3 902.2l8.84 8.84m0 -8.84l-8.84 8.84M419.82 906.62a4.9 4.9 0 1 0 9.8 0a4.9 4.9 0 1 0 -9.8 0M186 974.05l8.84 8.84m0 -8.84l-8.84 8.84M185.53 978.47a4.9 4.9 0 1 0 9.8 0a4.9 4.9 0 1 0 -9.8 0M331.32 946.09l8.84 8.84m0 -8.84l-8.84 8.84M330.84 950.51a4.9 4.9 0 1 0 9.8 0a4.9 4.9 0 1 0 -9.8 0M432.16 901.7l8.84 8.84m0 -8.84l-8.84 8.84M431.68 906.12a4.9 4.9 0 1 0 9.8 0a4.9 4.9 0 1 0 -9.8 0M312.94 927l8.84 8.84m0 -8.84l-8.84 8.84M312.46 931.42a4.9 4.9 0 1 0 9.8 0a4.9 4.9 0 1 0 -9.8 0M397.02 926.03l8.84 8.84m0 -8.84l-8.84 8.84M396.54 930.45a4.9 4.9 0 1 0 9.8 0a4.9 4.9 0 1 0 -9.8 0M282.28 942.94l8.84 8.84m0 -8.84l-8.84 8.84M281.8 947.36a4.9 4.9 0 1 0 9.8 0a4.9 4.9 0 1 0 -9.8 0M425.76 913.45l8.84 8.84m0 -8.84l-8.84 8.84M425.29 917.87a4.9 4.9 0 1 0 9.8 0a4.9 4.9 0 1 0 -9.8 0M480.96 894.41l8.84 8.84m0 -8.84l-8.84 8.84M480.48 898.84a4.9 4.9 0 1 0 9.8 0a4.9 4.9 0 1 0 -9.8 0M493.05 891.91l8.84 8.84m0 -8.84l-8.84 8.84M492.58 896.34a4.9 4.9 0 1 0 9.8 0a4.9 4.9 0 1 0 -9.8 0M299.87 952.73l8.84 8.84m0 -8.84l-8.84 8.84M299.39 957.15a4.9 4.9 0 1 0 9.8 0a4.9 4.9 0 1 0 -9.8 0M227.82 961.36l8.84 8.84m0 -8.84l-8.84 8.84M227.35 965.78a4.9 4.9 0 1 0 9.8 0a4.9 4.9 0 1 0 -9.8 0M229.27 967.55l8.84 8.84m0 -8.84l-8.84 8.84M228.79 971.97a4.9 4.9 0 1 0 9.8 0a4.9 4.9 0 1 0 -9.8 0M359.81 910.79l8.84 8.84m0 -8.84l-8.84 8.84M359.33 915.21a4.9 4.9 0 1 0 9.8 0a4.9 4.9 0 1 0 -9.8 0M372.73 917.7l8.84 8.84m0 -8.84l-8.84 8.84M372.25 922.12a4.9 4.9 0 1 0 9.8 0a4.9 4.9 0 1 0 -9.8 0M395.82 919.74l8.84 8.84m0 -8.84l-8.84 8.84M395.34 924.17a4.9 4.9 0 1 0 9.8 0a4.9 4.9 0 1 0 -9.8 0M497.91 891.6l8.84 8.84m0 -8.84l-8.84 8.84M497.43 896.02a4.9 4.9 0 1 0 9.8 0a4.9 4.9 0 1 0 -9.8 0M246.4 952.12l8.84 8.84m0 -8.84l-8.84 8.84M245.92 956.54a4.9 4.9 0 1 0 9.8 0a4.9 4.9 0 1 0 -9.8 0M455.93 897.31l8.84 8.84m0 -8.84l-8.84 8.84M455.45 901.73a4.9 4.9 0 1 0 9.8 0a4.9 4.9 0 1 0 -9.8 0M239.78 967.71l8.84 8.84m0 -8.84l-8.84 8.84M239.3 972.13a4.9 4.9 0 1 0 9.8 0a4.9 4.9 0 1 0 -9.8 0M385.13 905.37l8.84 8.84m0 -8.84l-8.84 8.84M384.65 909.79a4.9 4.9 0 1 0 9.8 0a4.9 4.9 0 1 0 -9.8 0M474.07 889.1l8.84 8.84m0 -8.84l-8.84 8.84M473.59 893.52a4.9 4.9 0 1 0 9.8 0a4.9 4.9 0 1 0 -9.8 0M336.92 931.58l8.84 8.84m0 -8.84l-8.84 8.84M336.44 936.01a4.9 4.9 0 1 0 9.8 0a4.9 4.9 0 1 0 -9.8 0M205.05 979.82l8.84 8.84m0 -8.84l-8.84 8.84M204.58 984.24a4.9 4.9 0 1 0 9.8 0a4.9 4.9 0 1 0 -9.8 0M397.01 903.24l8.84 8.84m0 -8.84l-8.84 8.84M396.53 907.66a4.9 4.9 0 1 0 9.8 0a4.9 4.9 0 1 0 -9.8 0M355.45 924.49l8.84 8.84m0 -8.84l-8.84 8.84M354.97 928.91a4.9 4.9 0 1 0 9.8 0a4.9 4.9 0 1 0 -9.8 0M324.29 928.75l8.84 8.84m0 -8.84l-8.84 8.84M323.81 933.17a4.9 4.9 0 1 0 9.8 0a4.9 4.9 0 1 0 -9.8 0M312.47 943.55l8.84 8.84m0 -8.84l-8.84 8.84M312 947.97a4.9 4.9 0 1 0 9.8 0a4.9 4.9 0 1 0 -9.8 0M306.18 927.96l8.84 8.84m0 -8.84l-8.84 8.84M305.7 932.38a4.9 4.9 0 1 0 9.8 0a4.9 4.9 0 1 0 -9.8 0M198.2 982.71l8.84 8.84m0 -8.84l-8.84 8.84M197.72 987.13a4.9 4.9 0 1 0 9.8 0a4.9 4.9 0 1 0 -9.8 0M487.35 887l8.84 8.84m0 -8.84l-8.84 8.84M486.87 891.42a4.9 4.9 0 1 0 9.8 0a4.9 4.9 0 1 0 -9.8 0M499.33 886.31l8.84 8.84m0 -8.84l-8.84 8.84M498.86 890.73a4.9 4.9 0 1 0 9.8 0a4.9 4.9 0 1 0 -9.8 0M234.55 970.14l8.84 8.84m0 -8.84l-8.84 8.84M234.07 974.56a4.9 4.9 0 1 0 9.8 0a4.9 4.9 0 1 0 -9.8 0M348.13 926.31l8.84 8.84m0 -8.84l-8.84 8.84M347.65 930.73a4.9 4.9 0 1 0 9.8 0a4.9 4.9 0 1 0 -9.8 0M245.68 969.4l8.84 8.84m0 -8.84l-8.84 8.84M245.2 973.82a4.9 4.9 0 1 0 9.8 0a4.9 4.9 0 1 0 -9.8 0M289.17 939.98l8.84 8.84m0 -8.84l-8.84 8.84M288.69 944.4a4.9 4.9 0 1 0 9.8 0a4.9 4.9 0 1 0 -9.8 0M343.23 917.51l8.84 8.84m0 -8.84l-8.84 8.84M342.75 921.93a4.9 4.9 0 1 0 9.8 0a4.9 4.9 0 1 0 -9.8 0M235.27 958.8l8.84 8.84m0 -8.84l-8.84 8.84M234.79 963.22a4.9 4.9 0 1 0 9.8 0a4.9 4.9 0 1 0 -9.8 0M433.14 913.85l8.84 8.84m0 -8.84l-8.84 8.84M432.66 918.27a4.9 4.9 0 1 0 9.8 0a4.9 4.9 0 1 0 -9.8 0M402.04 925.5l8.84 8.84m0 -8.84l-8.84 8.84M401.56 929.92a4.9 4.9 0 1 0 9.8 0a4.9 4.9 0 1 0 -9.8 0M348 920.91l8.84 8.84m0 -8.84l-8.84 8.84M347.52 925.33a4.9 4.9 0 1 0 9.8 0a4.9 4.9 0 1 0 -9.8 0M341.91 929.64l8.84 8.84m0 -8.84l-8.84 8.84M341.43 934.06a4.9 4.9 0 1 0 9.8 0a4.9 4.9 0 1 0 -9.8 0M474.4 894.89l8.84 8.84m0 -8.84l-8.84 8.84M473.92 899.31a4.9 4.9 0 1 0 9.8 0a4.9 4.9 0 1 0 -9.8 0M426.39 903.07l8.84 8.84m0 -8.84l-8.84 8.84M425.91 907.49a4.9 4.9 0 1 0 9.8 0a4.9 4.9 0 1 0 -9.8 0M390.64 916.13l8.84 8.84m0 -8.84l-8.84 8.84M390.16 920.55a4.9 4.9 0 1 0 9.8 0a4.9 4.9 0 1 0 -9.8 0M228.18 972.83l8.84 8.84m0 -8.84l-8.84 8.84M227.7 977.25a4.9 4.9 0 1 0 9.8 0a4.9 4.9 0 1 0 -9.8 0M390.16 928.26l8.84 8.84m0 -8.84l-8.84 8.84M389.68 932.68a4.9 4.9 0 1 0 9.8 0a4.9 4.9 0 1 0 -9.8 0M354.3 935.97l8.84 8.84m0 -8.84l-8.84 8.84M353.83 940.39a4.9 4.9 0 1 0 9.8 0a4.9 4.9 0 1 0 -9.8 0M167.8 976.15l8.84 8.84m0 -8.84l-8.84 8.84M167.33 980.58a4.9 4.9 0 1 0 9.8 0a4.9 4.9 0 1 0 -9.8 0M306.6 945.82l8.84 8.84m0 -8.84l-8.84 8.84M306.12 950.24a4.9 4.9 0 1 0 9.8 0a4.9 4.9 0 1 0 -9.8 0M252.3 954.78l8.84 8.84m0 -8.84l-8.84 8.84M251.83 959.21a4.9 4.9 0 1 0 9.8 0a4.9 4.9 0 1 0 -9.8 0M245.79 957.25l8.84 8.84m0 -8.84l-8.84 8.84M245.31 961.67a4.9 4.9 0 1 0 9.8 0a4.9 4.9 0 1 0 -9.8 0M349.36 938.47l8.84 8.84m0 -8.84l-8.84 8.84M348.88 942.89a4.9 4.9 0 1 0 9.8 0a4.9 4.9 0 1 0 -9.8 0M378.98 911.47l8.84 8.84m0 -8.84l-8.84 8.84M378.5 915.89a4.9 4.9 0 1 0 9.8 0a4.9 4.9 0 1 0 -9.8 0M282.4 955.2l8.84 8.84m0 -8.84l-8.84 8.84M281.92 959.63a4.9 4.9 0 1 0 9.8 0a4.9 4.9 0 1 0 -9.8 0M336.94 924.98l8.84 8.84m0 -8.84l-8.84 8.84M336.46 929.4a4.9 4.9 0 1 0 9.8 0a4.9 4.9 0 1 0 -9.8 0M485.96 898.45l8.84 8.84m0 -8.84l-8.84 8.84M485.48 902.87a4.9 4.9 0 1 0 9.8 0a4.9 4.9 0 1 0 -9.8 0M439.03 906.97l8.84 8.84m0 -8.84l-8.84 8.84M438.55 911.39a4.9 4.9 0 1 0 9.8 0a4.9 4.9 0 1 0 -9.8 0M306.48 939.67l8.84 8.84m0 -8.84l-8.84 8.84M306 944.09a4.9 4.9 0 1 0 9.8 0a4.9 4.9 0 1 0 -9.8 0M366.32 919.04l8.84 8.84m0 -8.84l-8.84 8.84M365.84 923.46a4.9 4.9 0 1 0 9.8 0a4.9 4.9 0 1 0 -9.8 0M191.79 972.18l8.84 8.84m0 -8.84l-8.84 8.84M191.31 976.6a4.9 4.9 0 1 0 9.8 0a4.9 4.9 0 1 0 -9.8 0M265.08 950.48l8.84 8.84m0 -8.84l-8.84 8.84M264.6 954.9a4.9 4.9 0 1 0 9.8 0a4.9 4.9 0 1 0 -9.8 0M450.07 905.47l8.84 8.84m0 -8.84l-8.84 8.84M449.6 909.9a4.9 4.9 0 1 0 9.8 0a4.9 4.9 0 1 0 -9.8 0M252.78 948.93l8.84 8.84m0 -8.84l-8.84 8.84M252.31 953.35a4.9 4.9 0 1 0 9.8 0a4.9 4.9 0 1 0 -9.8 0M337.37 937.96l8.84 8.84m0 -8.84l-8.84 8.84M336.89 942.38a4.9 4.9 0 1 0 9.8 0a4.9 4.9 0 1 0 -9.8 0M222.51 963.39l8.84 8.84m0 -8.84l-8.84 8.84M222.03 967.81a4.9 4.9 0 1 0 9.8 0a4.9 4.9 0 1 0 -9.8 0M311.81 950.62l8.84 8.84m0 -8.84l-8.84 8.84M311.33 955.04a4.9 4.9 0 1 0 9.8 0a4.9 4.9 0 1 0 -9.8 0M450.05 899.47l8.84 8.84m0 -8.84l-8.84 8.84M449.57 903.9a4.9 4.9 0 1 0 9.8 0a4.9 4.9 0 1 0 -9.8 0M437.77 912.99l8.84 8.84m0 -8.84l-8.84 8.84M437.29 917.41a4.9 4.9 0 1 0 9.8 0a4.9 4.9 0 1 0 -9.8 0M258.93 970.23l8.84 8.84m0 -8.84l-8.84 8.84M258.45 974.66a4.9 4.9 0 1 0 9.8 0a4.9 4.9 0 1 0 -9.8 0M246.33 975.17l8.84 8.84m0 -8.84l-8.84 8.84M245.85 979.6a4.9 4.9 0 1 0 9.8 0a4.9 4.9 0 1 0 -9.8 0M367.41 908.79l8.84 8.84m0 -8.84l-8.84 8.84M366.93 913.21a4.9 4.9 0 1 0 9.8 0a4.9 4.9 0 1 0 -9.8 0M233.69 975.83l8.84 8.84m0 -8.84l-8.84 8.84M233.21 980.25a4.9 4.9 0 1 0 9.8 0a4.9 4.9 0 1 0 -9.8 0M186.35 979.95l8.84 8.84m0 -8.84l-8.84 8.84M185.87 984.38a4.9 4.9 0 1 0 9.8 0a4.9 4.9 0 1 0 -9.8 0M463.03 896.81l8.84 8.84m0 -8.84l-8.84 8.84M462.55 901.24a4.9 4.9 0 1 0 9.8 0a4.9 4.9 0 1 0 -9.8 0M359.96 934.26l8.84 8.84m0 -8.84l-8.84 8.84M359.48 938.68a4.9 4.9 0 1 0 9.8 0a4.9 4.9 0 1 0 -9.8 0M210.72 971.45l8.84 8.84m0 -8.84l-8.84 8.84M210.24 975.87a4.9 4.9 0 1 0 9.8 0a4.9 4.9 0 1 0 -9.8 0M384.09 915.94l8.84 8.84m0 -8.84l-8.84 8.84M383.61 920.36a4.9 4.9 0 1 0 9.8 0a4.9 4.9 0 1 0 -9.8 0M379 923.77l8.84 8.84m0 -8.84l-8.84 8.84M378.52 928.2a4.9 4.9 0 1 0 9.8 0a4.9 4.9 0 1 0 -9.8 0M361.24 922.67l8.84 8.84m0 -8.84l-8.84 8.84M360.77 927.09a4.9 4.9 0 1 0 9.8 0a4.9 4.9 0 1 0 -9.8 0M402.2 912.93l8.84 8.84m0 -8.84l-8.84 8.84M401.72 917.35a4.9 4.9 0 1 0 9.8 0a4.9 4.9 0 1 0 -9.8 0M252.55 966.28l8.84 8.84m0 -8.84l-8.84 8.84M252.07 970.7a4.9 4.9 0 1 0 9.8 0a4.9 4.9 0 1 0 -9.8 0M432.19 896.47l8.84 8.84m0 -8.84l-8.84 8.84M431.71 900.89a4.9 4.9 0 1 0 9.8 0a4.9 4.9 0 1 0 -9.8 0M300.98 940.72l8.84 8.84m0 -8.84l-8.84 8.84M300.51 945.14a4.9 4.9 0 1 0 9.8 0a4.9 4.9 0 1 0 -9.8 0M241.25 973.52l8.84 8.84m0 -8.84l-8.84 8.84M240.77 977.95a4.9 4.9 0 1 0 9.8 0a4.9 4.9 0 1 0 -9.8 0M169.17 981.42l8.84 8.84m0 -8.84l-8.84 8.84M168.69 985.84a4.9 4.9 0 1 0 9.8 0a4.9 4.9 0 1 0 -9.8 0M384.68 929.01l8.84 8.84m0 -8.84l-8.84 8.84M384.21 933.43a4.9 4.9 0 1 0 9.8 0a4.9 4.9 0 1 0 -9.8 0M313.19 937.66l8.84 8.84m0 -8.84l-8.84 8.84M312.71 942.09a4.9 4.9 0 1 0 9.8 0a4.9 4.9 0 1 0 -9.8 0M385.29 911.11l8.84 8.84m0 -8.84l-8.84 8.84M384.81 915.53a4.9 4.9 0 1 0 9.8 0a4.9 4.9 0 1 0 -9.8 0M462.62 902.75l8.84 8.84m0 -8.84l-8.84 8.84M462.14 907.17a4.9 4.9 0 1 0 9.8 0a4.9 4.9 0 1 0 -9.8 0M300.47 928.64l8.84 8.84m0 -8.84l-8.84 8.84M299.99 933.06a4.9 4.9 0 1 0 9.8 0a4.9 4.9 0 1 0 -9.8 0M215.79 964.75l8.84 8.84m0 -8.84l-8.84 8.84M215.31 969.17a4.9 4.9 0 1 0 9.8 0a4.9 4.9 0 1 0 -9.8 0M217.47 970.97l8.84 8.84m0 -8.84l-8.84 8.84M216.99 975.39a4.9 4.9 0 1 0 9.8 0a4.9 4.9 0 1 0 -9.8 0M419.89 915.3l8.84 8.84m0 -8.84l-8.84 8.84M419.42 919.72a4.9 4.9 0 1 0 9.8 0a4.9 4.9 0 1 0 -9.8 0M245.97 963.74l8.84 8.84m0 -8.84l-8.84 8.84M245.49 968.16a4.9 4.9 0 1 0 9.8 0a4.9 4.9 0 1 0 -9.8 0M413.72 914.03l8.84 8.84m0 -8.84l-8.84 8.84M413.24 918.45a4.9 4.9 0 1 0 9.8 0a4.9 4.9 0 1 0 -9.8 0M493.37 886.39l8.84 8.84m0 -8.84l-8.84 8.84M492.89 890.81a4.9 4.9 0 1 0 9.8 0a4.9 4.9 0 1 0 -9.8 0M450.39 892.77l8.84 8.84m0 -8.84l-8.84 8.84M449.91 897.19a4.9 4.9 0 1 0 9.8 0a4.9 4.9 0 1 0 -9.8 0M335.83 944.36l8.84 8.84m0 -8.84l-8.84 8.84M335.35 948.78a4.9 4.9 0 1 0 9.8 0a4.9 4.9 0 1 0 -9.8 0M371.84 905.81l8.84 8.84m0 -8.84l-8.84 8.84M371.36 910.24a4.9 4.9 0 1 0 9.8 0a4.9 4.9 0 1 0 -9.8 0M379.18 917.92l8.84 8.84m0 -8.84l-8.84 8.84M378.7 922.34a4.9 4.9 0 1 0 9.8 0a4.9 4.9 0 1 0 -9.8 0M198.62 976.52l8.84 8.84m0 -8.84l-8.84 8.84M198.15 980.94a4.9 4.9 0 1 0 9.8 0a4.9 4.9 0 1 0 -9.8 0M437.77 901.12l8.84 8.84m0 -8.84l-8.84 8.84M437.29 905.55a4.9 4.9 0 1 0 9.8 0a4.9 4.9 0 1 0 -9.8 0M372.86 924.04l8.84 8.84m0 -8.84l-8.84 8.84M372.38 928.46a4.9 4.9 0 1 0 9.8 0a4.9 4.9 0 1 0 -9.8 0M240.7 955.8l8.84 8.84m0 -8.84l-8.84 8.84M240.22 960.22a4.9 4.9 0 1 0 9.8 0a4.9 4.9 0 1 0 -9.8 0M174.39 982.52l8.84 8.84m0 -8.84l-8.84 8.84M173.91 986.95a4.9 4.9 0 1 0 9.8 0a4.9 4.9 0 1 0 -9.8 0M263.98 945.27l8.84 8.84m0 -8.84l-8.84 8.84M263.5 949.69a4.9 4.9 0 1 0 9.8 0a4.9 4.9 0 1 0 -9.8 0M192.49 983.55l8.84 8.84m0 -8.84l-8.84 8.84M192.02 987.97a4.9 4.9 0 1 0 9.8 0a4.9 4.9 0 1 0 -9.8 0M319.42 936.55l8.84 8.84m0 -8.84l-8.84 8.84M318.94 940.97a4.9 4.9 0 1 0 9.8 0a4.9 4.9 0 1 0 -9.8 0M240.61 961.2l8.84 8.84m0 -8.84l-8.84 8.84M240.13 965.62a4.9 4.9 0 1 0 9.8 0a4.9 4.9 0 1 0 -9.8 0M426.33 908.04l8.84 8.84m0 -8.84l-8.84 8.84M425.85 912.46a4.9 4.9 0 1 0 9.8 0a4.9 4.9 0 1 0 -9.8 0M324.8 947.32l8.84 8.84m0 -8.84l-8.84 8.84M324.32 951.74a4.9 4.9 0 1 0 9.8 0a4.9 4.9 0 1 0 -9.8 0M348.67 932.62l8.84 8.84m0 -8.84l-8.84 8.84M348.19 937.04a4.9 4.9 0 1 0 9.8 0a4.9 4.9 0 1 0 -9.8 0M468.58 902.28l8.84 8.84m0 -8.84l-8.84 8.84M468.11 906.7a4.9 4.9 0 1 0 9.8 0a4.9 4.9 0 1 0 -9.8 0M253.21 961.92l8.84 8.84m0 -8.84l-8.84 8.84M252.73 966.34a4.9 4.9 0 1 0 9.8 0a4.9 4.9 0 1 0 -9.8 0M391 921.4l8.84 8.84m0 -8.84l-8.84 8.84M390.53 925.82a4.9 4.9 0 1 0 9.8 0a4.9 4.9 0 1 0 -9.8 0M221.78 969.86l8.84 8.84m0 -8.84l-8.84 8.84M221.31 974.29a4.9 4.9 0 1 0 9.8 0a4.9 4.9 0 1 0 -9.8 0M288.63 957.89l8.84 8.84m0 -8.84l-8.84 8.84M288.15 962.32a4.9 4.9 0 1 0 9.8 0a4.9 4.9 0 1 0 -9.8 0M282.54 936.42l8.84 8.84m0 -8.84l-8.84 8.84M282.06 940.85a4.9 4.9 0 1 0 9.8 0a4.9 4.9 0 1 0 -9.8 0M265.14 957.65l8.84 8.84m0 -8.84l-8.84 8.84M264.66 962.08a4.9 4.9 0 1 0 9.8 0a4.9 4.9 0 1 0 -9.8 0M341.88 934.98l8.84 8.84m0 -8.84l-8.84 8.84M341.4 939.4a4.9 4.9 0 1 0 9.8 0a4.9 4.9 0 1 0 -9.8 0M269.73 943.17l8.84 8.84m0 -8.84l-8.84 8.84M269.25 947.59a4.9 4.9 0 1 0 9.8 0a4.9 4.9 0 1 0 -9.8 0M427.3 896.13l8.84 8.84m0 -8.84l-8.84 8.84M426.82 900.55a4.9 4.9 0 1 0 9.8 0a4.9 4.9 0 1 0 -9.8 0M293.91 942.82l8.84 8.84m0 -8.84l-8.84 8.84M293.44 947.24a4.9 4.9 0 1 0 9.8 0a4.9 4.9 0 1 0 -9.8 0M257.94 958.74l8.84 8.84m0 -8.84l-8.84 8.84M257.46 963.16a4.9 4.9 0 1 0 9.8 0a4.9 4.9 0 1 0 -9.8 0M415.39 896.87l8.84 8.84m0 -8.84l-8.84 8.84M414.91 901.29a4.9 4.9 0 1 0 9.8 0a4.9 4.9 0 1 0 -9.8 0M258.63 965.53l8.84 8.84m0 -8.84l-8.84 8.84M258.15 969.95a4.9 4.9 0 1 0 9.8 0a4.9 4.9 0 1 0 -9.8 0M204.43 968.15l8.84 8.84m0 -8.84l-8.84 8.84M203.95 972.57a4.9 4.9 0 1 0 9.8 0a4.9 4.9 0 1 0 -9.8 0M354.95 931.01l8.84 8.84m0 -8.84l-8.84 8.84M354.47 935.44a4.9 4.9 0 1 0 9.8 0a4.9 4.9 0 1 0 -9.8 0M287.7 951.96l8.84 8.84m0 -8.84l-8.84 8.84M287.23 956.38a4.9 4.9 0 1 0 9.8 0a4.9 4.9 0 1 0 -9.8 0M162.64 978.45l8.84 8.84m0 -8.84l-8.84 8.84M162.16 982.87a4.9 4.9 0 1 0 9.8 0a4.9 4.9 0 1 0 -9.8 0M257.97 946.86l8.84 8.84m0 -8.84l-8.84 8.84M257.49 951.28a4.9 4.9 0 1 0 9.8 0a4.9 4.9 0 1 0 -9.8 0M318.56 949.94l8.84 8.84m0 -8.84l-8.84 8.84M318.08 954.36a4.9 4.9 0 1 0 9.8 0a4.9 4.9 0 1 0 -9.8 0M306.64 951.43l8.84 8.84m0 -8.84l-8.84 8.84M306.16 955.85a4.9 4.9 0 1 0 9.8 0a4.9 4.9 0 1 0 -9.8 0M491.75 898.5l8.84 8.84m0 -8.84l-8.84 8.84M491.27 902.92a4.9 4.9 0 1 0 9.8 0a4.9 4.9 0 1 0 -9.8 0M300.61 946.72l8.84 8.84m0 -8.84l-8.84 8.84M300.13 951.14a4.9 4.9 0 1 0 9.8 0a4.9 4.9 0 1 0 -9.8 0M179.89 980.89l8.84 8.84m0 -8.84l-8.84 8.84M179.41 985.31a4.9 4.9 0 1 0 9.8 0a4.9 4.9 0 1 0 -9.8 0M354.46 912.82l8.84 8.84m0 -8.84l-8.84 8.84M353.98 917.24a4.9 4.9 0 1 0 9.8 0a4.9 4.9 0 1 0 -9.8 0M414.59 903.62l8.84 8.84m0 -8.84l-8.84 8.84M414.12 908.04a4.9 4.9 0 1 0 9.8 0a4.9 4.9 0 1 0 -9.8 0M312.15 932.42l8.84 8.84m0 -8.84l-8.84 8.84M311.67 936.85a4.9 4.9 0 1 0 9.8 0a4.9 4.9 0 1 0 -9.8 0M330.16 932.69l8.84 8.84m0 -8.84l-8.84 8.84M329.68 937.11a4.9 4.9 0 1 0 9.8 0a4.9 4.9 0 1 0 -9.8 0M407.71 899.28l8.84 8.84m0 -8.84l-8.84 8.84M407.23 903.7a4.9 4.9 0 1 0 9.8 0a4.9 4.9 0 1 0 -9.8 0M264.09 968.81l8.84 8.84m0 -8.84l-8.84 8.84M263.61 973.24a4.9 4.9 0 1 0 9.8 0a4.9 4.9 0 1 0 -9.8 0M277.12 957.18l8.84 8.84m0 -8.84l-8.84 8.84M276.64 961.6a4.9 4.9 0 1 0 9.8 0a4.9 4.9 0 1 0 -9.8 0M210.24 965.88l8.84 8.84m0 -8.84l-8.84 8.84M209.76 970.3a4.9 4.9 0 1 0 9.8 0a4.9 4.9 0 1 0 -9.8 0M331.45 922.04l8.84 8.84m0 -8.84l-8.84 8.84M330.97 926.46a4.9 4.9 0 1 0 9.8 0a4.9 4.9 0 1 0 -9.8 0M444.86 905.37l8.84 8.84m0 -8.84l-8.84 8.84M444.38 909.79a4.9 4.9 0 1 0 9.8 0a4.9 4.9 0 1 0 -9.8 0M408.06 911.75l8.84 8.84m0 -8.84l-8.84 8.84M407.58 916.17a4.9 4.9 0 1 0 9.8 0a4.9 4.9 0 1 0 -9.8 0M354.39 918.78l8.84 8.84m0 -8.84l-8.84 8.84M353.91 923.2a4.9 4.9 0 1 0 9.8 0a4.9 4.9 0 1 0 -9.8 0M481.25 887.56l8.84 8.84m0 -8.84l-8.84 8.84M480.77 891.98a4.9 4.9 0 1 0 9.8 0a4.9 4.9 0 1 0 -9.8 0M174.81 976.47l8.84 8.84m0 -8.84l-8.84 8.84M174.33 980.9a4.9 4.9 0 1 0 9.8 0a4.9 4.9 0 1 0 -9.8 0M198.94 969.71l8.84 8.84m0 -8.84l-8.84 8.84M198.46 974.14a4.9 4.9 0 1 0 9.8 0a4.9 4.9 0 1 0 -9.8 0M294.73 935.65l8.84 8.84m0 -8.84l-8.84 8.84M294.26 940.07a4.9 4.9 0 1 0 9.8 0a4.9 4.9 0 1 0 -9.8 0M402.89 907.25l8.84 8.84m0 -8.84l-8.84 8.84M402.41 911.67a4.9 4.9 0 1 0 9.8 0a4.9 4.9 0 1 0 -9.8 0M419.68 908.98l8.84 8.84m0 -8.84l-8.84 8.84M419.2 913.41a4.9 4.9 0 1 0 9.8 0a4.9 4.9 0 1 0 -9.8 0M324.47 940.43l8.84 8.84m0 -8.84l-8.84 8.84M323.99 944.85a4.9 4.9 0 1 0 9.8 0a4.9 4.9 0 1 0 -9.8 0M181.22 975.19l8.84 8.84m0 -8.84l-8.84 8.84M180.75 979.61a4.9 4.9 0 1 0 9.8 0a4.9 4.9 0 1 0 -9.8 0M276.05 946.15l8.84 8.84m0 -8.84l-8.84 8.84M275.57 950.57a4.9 4.9 0 1 0 9.8 0a4.9 4.9 0 1 0 -9.8 0M366.59 931.05l8.84 8.84m0 -8.84l-8.84 8.84M366.11 935.47a4.9 4.9 0 1 0 9.8 0a4.9 4.9 0 1 0 -9.8 0M270.14 949.25l8.84 8.84m0 -8.84l-8.84 8.84M269.67 953.67a4.9 4.9 0 1 0 9.8 0a4.9 4.9 0 1 0 -9.8 0M480.73 898.8l8.84 8.84m0 -8.84l-8.84 8.84M480.26 903.22a4.9 4.9 0 1 0 9.8 0a4.9 4.9 0 1 0 -9.8 0M349.05 914.99l8.84 8.84m0 -8.84l-8.84 8.84M348.57 919.42a4.9 4.9 0 1 0 9.8 0a4.9 4.9 0 1 0 -9.8 0M276.07 940.22l8.84 8.84m0 -8.84l-8.84 8.84M275.6 944.64a4.9 4.9 0 1 0 9.8 0a4.9 4.9 0 1 0 -9.8 0M401.7 901.12l8.84 8.84m0 -8.84l-8.84 8.84M401.22 905.54a4.9 4.9 0 1 0 9.8 0a4.9 4.9 0 1 0 -9.8 0M294.5 948.23l8.84 8.84m0 -8.84l-8.84 8.84M294.02 952.66a4.9 4.9 0 1 0 9.8 0a4.9 4.9 0 1 0 -9.8 0M289.31 933.67l8.84 8.84m0 -8.84l-8.84 8.84M288.83 938.09a4.9 4.9 0 1 0 9.8 0a4.9 4.9 0 1 0 -9.8 0M342.67 924.36l8.84 8.84m0 -8.84l-8.84 8.84M342.2 928.78a4.9 4.9 0 1 0 9.8 0a4.9 4.9 0 1 0 -9.8 0M294.13 930.31l8.84 8.84m0 -8.84l-8.84 8.84M293.65 934.73a4.9 4.9 0 1 0 9.8 0a4.9 4.9 0 1 0 -9.8 0M366.12 914.78l8.84 8.84m0 -8.84l-8.84 8.84M365.64 919.2a4.9 4.9 0 1 0 9.8 0a4.9 4.9 0 1 0 -9.8 0M162.59 983.65l8.84 8.84m0 -8.84l-8.84 8.84M162.11 988.07a4.9 4.9 0 1 0 9.8 0a4.9 4.9 0 1 0 -9.8 0M155.95 981.59l8.84 8.84m0 -8.84l-8.84 8.84M155.47 986.01a4.9 4.9 0 1 0 9.8 0a4.9 4.9 0 1 0 -9.8 0M384.33 922.07l8.84 8.84m0 -8.84l-8.84 8.84M383.85 926.49a4.9 4.9 0 1 0 9.8 0a4.9 4.9 0 1 0 -9.8 0M462.14 891.1l8.84 8.84m0 -8.84l-8.84 8.84M461.67 895.52a4.9 4.9 0 1 0 9.8 0a4.9 4.9 0 1 0 -9.8 0M265.13 963.35l8.84 8.84m0 -8.84l-8.84 8.84M264.65 967.78a4.9 4.9 0 1 0 9.8 0a4.9 4.9 0 1 0 -9.8 0M277.32 964.44l8.84 8.84m0 -8.84l-8.84 8.84M276.84 968.86a4.9 4.9 0 1 0 9.8 0a4.9 4.9 0 1 0 -9.8 0M318.87 930.41l8.84 8.84m0 -8.84l-8.84 8.84M318.39 934.83a4.9 4.9 0 1 0 9.8 0a4.9 4.9 0 1 0 -9.8 0M252.29 972.6l8.84 8.84m0 -8.84l-8.84 8.84M251.82 977.03a4.9 4.9 0 1 0 9.8 0a4.9 4.9 0 1 0 -9.8 0M378.62 929.22l8.84 8.84m0 -8.84l-8.84 8.84M378.14 933.64a4.9 4.9 0 1 0 9.8 0a4.9 4.9 0 1 0 -9.8 0M360.11 927.99l8.84 8.84m0 -8.84l-8.84 8.84M359.64 932.41a4.9 4.9 0 1 0 9.8 0a4.9 4.9 0 1 0 -9.8 0M289.25 963.21l8.84 8.84m0 -8.84l-8.84 8.84M288.77 967.63a4.9 4.9 0 1 0 9.8 0a4.9 4.9 0 1 0 -9.8 0M204.56 972.86l8.84 8.84m0 -8.84l-8.84 8.84M204.08 977.28a4.9 4.9 0 1 0 9.8 0a4.9 4.9 0 1 0 -9.8 0M216.37 976.69l8.84 8.84m0 -8.84l-8.84 8.84M215.89 981.11a4.9 4.9 0 1 0 9.8 0a4.9 4.9 0 1 0 -9.8 0M222.12 975.18l8.84 8.84m0 -8.84l-8.84 8.84M221.65 979.61a4.9 4.9 0 1 0 9.8 0a4.9 4.9 0 1 0 -9.8 0M445.01 900.58l8.84 8.84m0 -8.84l-8.84 8.84M444.53 905.01a4.9 4.9 0 1 0 9.8 0a4.9 4.9 0 1 0 -9.8 0M420.49 896.54l8.84 8.84m0 -8.84l-8.84 8.84M420.01 900.96a4.9 4.9 0 1 0 9.8 0a4.9 4.9 0 1 0 -9.8 0M335.95 920.47l8.84 8.84m0 -8.84l-8.84 8.84M335.47 924.89a4.9 4.9 0 1 0 9.8 0a4.9 4.9 0 1 0 -9.8 0M397.06 914.59l8.84 8.84m0 -8.84l-8.84 8.84M396.58 919.01a4.9 4.9 0 1 0 9.8 0a4.9 4.9 0 1 0 -9.8 0M136.78 987.88l8.84 8.84m0 -8.84l-8.84 8.84M136.3 992.3a4.9 4.9 0 1 0 9.8 0a4.9 4.9 0 1 0 -9.8 0M138.08 991.58l8.84 8.84m0 -8.84l-8.84 8.84M137.6 996a4.9 4.9 0 1 0 9.8 0a4.9 4.9 0 1 0 -9.8 0M502.58 887.58l8.84 8.84m0 -8.84l-8.84 8.84M502.1 892a4.9 4.9 0 1 0 9.8 0a4.9 4.9 0 1 0 -9.8 0M508.58 886.58l8.84 8.84m0 -8.84l-8.84 8.84M508.1 891a4.9 4.9 0 1 0 9.8 0a4.9 4.9 0 1 0 -9.8 0M514.38 886.58l8.84 8.84m0 -8.84l-8.84 8.84M513.9 891a4.9 4.9 0 1 0 9.8 0a4.9 4.9 0 1 0 -9.8 0M520.18 887.58l8.84 8.84m0 -8.84l-8.84 8.84M519.7 892a4.9 4.9 0 1 0 9.8 0a4.9 4.9 0 1 0 -9.8 0M533.08 884.28l8.84 8.84m0 -8.84l-8.84 8.84M532.6 888.7a4.9 4.9 0 1 0 9.8 0a4.9 4.9 0 1 0 -9.8 0M575.18 880.58l8.84 8.84m0 -8.84l-8.84 8.84M574.7 885a4.9 4.9 0 1 0 9.8 0a4.9 4.9 0 1 0 -9.8 0"/>
<line clip-path="url(#cp2)" x1="141.2" y1="1003.5" x2="561.8" y2="870.1" stroke="#F01414" stroke-width="2.4"/>
<line x1="92" y1="882.09" x2="99.5" y2="882.09" stroke="#151515" stroke-width="1.5"/>
<line x1="669" y1="882.09" x2="661.5" y2="882.09" stroke="#151515" stroke-width="1.5"/>
<text x="83" y="887.69" font-size="16.8" text-anchor="end">-0.081</text>
<line x1="92" y1="918" x2="99.5" y2="918" stroke="#151515" stroke-width="1.5"/>
<line x1="669" y1="918" x2="661.5" y2="918" stroke="#151515" stroke-width="1.5"/>
<text x="83" y="923.6" font-size="16.8" text-anchor="end">-0.108</text>
<line x1="92" y1="953.91" x2="99.5" y2="953.91" stroke="#151515" stroke-width="1.5"/>
<line x1="669" y1="953.91" x2="661.5" y2="953.91" stroke="#151515" stroke-width="1.5"/>
<text x="83" y="959.51" font-size="16.8" text-anchor="end">-0.135</text>
<line x1="92" y1="989.82" x2="99.5" y2="989.82" stroke="#151515" stroke-width="1.5"/>
<line x1="669" y1="989.82" x2="661.5" y2="989.82" stroke="#151515" stroke-width="1.5"/>
<text x="83" y="995.42" font-size="16.8" text-anchor="end">-0.162</text>
<line x1="92" y1="900.04" x2="95.8" y2="900.04" stroke="#151515" stroke-width="1.5"/>
<line x1="669" y1="900.04" x2="665.2" y2="900.04" stroke="#151515" stroke-width="1.5"/>
<line x1="92" y1="935.96" x2="95.8" y2="935.96" stroke="#151515" stroke-width="1.5"/>
<line x1="669" y1="935.96" x2="665.2" y2="935.96" stroke="#151515" stroke-width="1.5"/>
<line x1="92" y1="971.87" x2="95.8" y2="971.87" stroke="#151515" stroke-width="1.5"/>
<line x1="669" y1="971.87" x2="665.2" y2="971.87" stroke="#151515" stroke-width="1.5"/>
<line x1="92" y1="1007.77" x2="95.8" y2="1007.77" stroke="#151515" stroke-width="1.5"/>
<line x1="669" y1="1007.77" x2="665.2" y2="1007.77" stroke="#151515" stroke-width="1.5"/>
<line x1="92" y1="1013.4" x2="92" y2="1005.9" stroke="#151515" stroke-width="1.5"/>
<line x1="257.2" y1="1013.4" x2="257.2" y2="1005.9" stroke="#151515" stroke-width="1.5"/>
<line x1="422.4" y1="1013.4" x2="422.4" y2="1005.9" stroke="#151515" stroke-width="1.5"/>
<line x1="587.6" y1="1013.4" x2="587.6" y2="1005.9" stroke="#151515" stroke-width="1.5"/>
<line x1="174.6" y1="1013.4" x2="174.6" y2="1009.6" stroke="#151515" stroke-width="1.5"/>
<line x1="339.8" y1="1013.4" x2="339.8" y2="1009.6" stroke="#151515" stroke-width="1.5"/>
<line x1="505" y1="1013.4" x2="505" y2="1009.6" stroke="#151515" stroke-width="1.5"/>
<line x1="670.2" y1="1013.4" x2="670.2" y2="1009.6" stroke="#151515" stroke-width="1.5"/>
<text transform="translate(27,932.6) rotate(-90)" font-size="21" text-anchor="middle">Fine</text>
<line x1="92" y1="582.9" x2="92" y2="590.4" stroke="#151515" stroke-width="1.5"/>
<line x1="257.2" y1="582.9" x2="257.2" y2="590.4" stroke="#151515" stroke-width="1.5"/>
<line x1="422.4" y1="582.9" x2="422.4" y2="590.4" stroke="#151515" stroke-width="1.5"/>
<line x1="587.6" y1="582.9" x2="587.6" y2="590.4" stroke="#151515" stroke-width="1.5"/>
<line x1="174.6" y1="582.9" x2="174.6" y2="586.7" stroke="#151515" stroke-width="1.5"/>
<line x1="339.8" y1="582.9" x2="339.8" y2="586.7" stroke="#151515" stroke-width="1.5"/>
<line x1="505" y1="582.9" x2="505" y2="586.7" stroke="#151515" stroke-width="1.5"/>
<line x1="670.2" y1="582.9" x2="670.2" y2="586.7" stroke="#151515" stroke-width="1.5"/>
<rect x="92" y="582.9" width="139" height="53.8" fill="#FFFFD8" stroke="#333" stroke-width="1.1"/>
<path fill="none" stroke="#111" stroke-width="1.3" d="M111.8 592.1l12 11.2m0 -11.2l-12 11.2M117.8 592.1l6 5.6l-6 5.6l-6 -5.6z"/>
<text x="146" y="605.1" font-size="21" text-anchor="start">Coarse</text>
<line x1="94.5" y1="622.5" x2="141" y2="622.5" stroke="#F01414" stroke-width="2.2"/>
<text x="146" y="629.9" font-size="21" text-anchor="start">Linear Fit</text>
<rect x="92" y="726.8" width="139" height="52.9" fill="#FFFFD8" stroke="#333" stroke-width="1.1"/>
<path fill="none" stroke="#111" stroke-width="1.3" d="M112 736l11.6 11.2m0 -11.2l-11.6 11.2M117.8 736l4.93 9.07h-9.86z"/>
<text x="146" y="749" font-size="21" text-anchor="start">Medium</text>
<line x1="94.5" y1="766.4" x2="141" y2="766.4" stroke="#F01414" stroke-width="2.2"/>
<text x="146" y="773.8" font-size="21" text-anchor="start">Linear Fit</text>
<rect x="92" y="870.1" width="139" height="53.8" fill="#FFFFD8" stroke="#333" stroke-width="1.1"/>
<path fill="none" stroke="#111" stroke-width="1.3" d="M113.38 880.48l8.84 8.84m0 -8.84l-8.84 8.84M112.9 884.9a4.9 4.9 0 1 0 9.8 0a4.9 4.9 0 1 0 -9.8 0"/>
<text x="146" y="892.3" font-size="21" text-anchor="start">Fine</text>
<line x1="94.5" y1="909.7" x2="141" y2="909.7" stroke="#F01414" stroke-width="2.2"/>
<text x="146" y="917.1" font-size="21" text-anchor="start">Linear Fit</text>
<rect x="92" y="582.9" width="577" height="430.5" fill="none" stroke="#151515" stroke-width="1.6"/>
<line x1="92" y1="726.8" x2="669" y2="726.8" stroke="#151515" stroke-width="1.6"/>
<line x1="92" y1="870.1" x2="669" y2="870.1" stroke="#151515" stroke-width="1.6"/>
<text x="92" y="571" font-size="16.8" text-anchor="middle">-0.20</text>
<text x="92" y="1035" font-size="16.8" text-anchor="middle">-0.20</text>
<text x="257.2" y="571" font-size="16.8" text-anchor="middle">-0.15</text>
<text x="257.2" y="1035" font-size="16.8" text-anchor="middle">-0.15</text>
<text x="422.4" y="571" font-size="16.8" text-anchor="middle">-0.10</text>
<text x="422.4" y="1035" font-size="16.8" text-anchor="middle">-0.10</text>
<text x="587.6" y="571" font-size="16.8" text-anchor="middle">-0.05</text>
<text x="587.6" y="1035" font-size="16.8" text-anchor="middle">-0.05</text>
<text x="380.5" y="1067.7" font-size="20" text-anchor="middle" font-weight="bold">10-hr</text>
<g stroke="#1C1C1C" stroke-width="1.6">
<rect x="119.01" y="1532.31" width="10.63" height="14.69" fill="#FFCC90"/>
<rect x="161.53" y="1505.86" width="10.63" height="41.14" fill="#FFCC90"/>
<rect x="172.16" y="1532.82" width="10.63" height="14.18" fill="#9DD69B"/>
<rect x="182.79" y="1542.57" width="10.63" height="4.43" fill="#C6B6D8"/>
<rect x="204.04" y="1454.71" width="10.63" height="92.29" fill="#FFCC90"/>
<rect x="214.67" y="1462.05" width="10.63" height="84.95" fill="#9DD69B"/>
<rect x="225.3" y="1475.09" width="10.63" height="71.91" fill="#C6B6D8"/>
<rect x="246.56" y="1387.86" width="10.63" height="159.14" fill="#FFCC90"/>
<rect x="257.19" y="1386.85" width="10.63" height="160.15" fill="#9DD69B"/>
<rect x="267.82" y="1383.56" width="10.63" height="163.44" fill="#C6B6D8"/>
<rect x="278.45" y="1410.53" width="10.63" height="136.47" fill="#FFFFA0"/>
<rect x="289.07" y="1354.57" width="10.63" height="192.43" fill="#FFCC90"/>
<rect x="299.7" y="1327.73" width="10.63" height="219.27" fill="#9DD69B"/>
<rect x="310.33" y="1321.4" width="10.63" height="225.6" fill="#C6B6D8"/>
<rect x="320.96" y="1248.86" width="10.63" height="298.14" fill="#FFFFA0"/>
<rect x="331.58" y="1305.83" width="10.63" height="241.17" fill="#FFCC90"/>
<rect x="342.21" y="1266.58" width="10.63" height="280.42" fill="#9DD69B"/>
<rect x="352.84" y="1246.58" width="10.63" height="300.42" fill="#C6B6D8"/>
<rect x="363.47" y="1163.02" width="10.63" height="383.98" fill="#FFFFA0"/>
<rect x="374.1" y="1315.2" width="10.63" height="231.8" fill="#FFCC90"/>
<rect x="384.73" y="1282.79" width="10.63" height="264.21" fill="#9DD69B"/>
<rect x="395.36" y="1256.45" width="10.63" height="290.55" fill="#C6B6D8"/>
<rect x="405.99" y="1204.42" width="10.63" height="342.58" fill="#FFFFA0"/>
<rect x="416.61" y="1395.21" width="10.63" height="151.79" fill="#FFCC90"/>
<rect x="427.24" y="1381.15" width="10.63" height="165.85" fill="#9DD69B"/>
<rect x="437.87" y="1387.1" width="10.63" height="159.9" fill="#C6B6D8"/>
<rect x="448.5" y="1441.8" width="10.63" height="105.2" fill="#FFFFA0"/>
<rect x="459.13" y="1452.81" width="10.63" height="94.19" fill="#FFCC90"/>
<rect x="469.76" y="1478.64" width="10.63" height="68.36" fill="#9DD69B"/>
<rect x="480.39" y="1496.11" width="10.63" height="50.89" fill="#C6B6D8"/>
<rect x="501.64" y="1515.22" width="10.63" height="31.78" fill="#FFCC90"/>
<rect x="512.27" y="1538.77" width="10.63" height="8.23" fill="#9DD69B"/>
<rect x="544.15" y="1534.85" width="10.63" height="12.15" fill="#FFCC90"/>
<rect x="586.67" y="1545.73" width="10.63" height="1.27" fill="#FFCC90"/>
</g>
<polyline fill="none" stroke="#A86C3E" stroke-width="2" points="76.5,1545.67 79.98,1545.48 83.47,1545.27 86.95,1545.03 90.44,1544.77 93.92,1544.48 97.41,1544.15 100.89,1543.78 104.37,1543.38 107.86,1542.93 111.34,1542.43 114.83,1541.87 118.31,1541.27 121.8,1540.59 125.28,1539.86 128.76,1539.05 132.25,1538.16 135.73,1537.19 139.22,1536.13 142.7,1534.98 146.19,1533.73 149.67,1532.38 153.15,1530.91 156.64,1529.32 160.12,1527.61 163.61,1525.77 167.09,1523.79 170.58,1521.67 174.06,1519.4 177.54,1516.98 181.03,1514.4 184.51,1511.66 188,1508.75 191.48,1505.68 194.97,1502.42 198.45,1499 201.93,1495.39 205.42,1491.6 208.9,1487.64 212.39,1483.5 215.87,1479.18 219.36,1474.69 222.84,1470.03 226.32,1465.21 229.81,1460.22 233.29,1455.09 236.78,1449.82 240.26,1444.41 243.75,1438.88 247.23,1433.24 250.71,1427.51 254.2,1421.7 257.68,1415.83 261.17,1409.9 264.65,1403.95 268.14,1397.99 271.62,1392.03 275.1,1386.11 278.59,1380.23 282.07,1374.43 285.56,1368.73 289.04,1363.14 292.53,1357.69 296.01,1352.4 299.49,1347.3 302.98,1342.41 306.46,1337.74 309.95,1333.32 313.43,1329.17 316.92,1325.31 320.4,1321.76 323.88,1318.53 327.37,1315.63 330.85,1313.09 334.34,1310.92 337.82,1309.12 341.31,1307.7 344.79,1306.68 348.27,1306.05 351.76,1305.83 355.24,1306 358.73,1306.58 362.21,1307.55 365.7,1308.91 369.18,1310.66 372.66,1312.78 376.15,1315.27 379.63,1318.12 383.12,1321.31 386.6,1324.82 390.09,1328.64 393.57,1332.75 397.05,1337.13 400.54,1341.77 404.02,1346.64 407.51,1351.71 410.99,1356.98 414.48,1362.4 417.96,1367.98 421.44,1373.67 424.93,1379.46 428.41,1385.32 431.9,1391.24 435.38,1397.19 438.87,1403.16 442.35,1409.11 445.83,1415.04 449.32,1420.92 452.8,1426.74 456.29,1432.49 459.77,1438.14 463.26,1443.68 466.74,1449.1 470.22,1454.4 473.71,1459.55 477.19,1464.55 480.68,1469.4 484.16,1474.08 487.65,1478.59 491.13,1482.93 494.61,1487.1 498.1,1491.09 501.58,1494.9 505.07,1498.53 508.55,1501.98 512.04,1505.25 515.52,1508.35 519,1511.28 522.49,1514.05 525.97,1516.65 529.46,1519.09 532.94,1521.38 536.43,1523.52 539.91,1525.51 543.39,1527.37 546.88,1529.1 550.36,1530.7 553.85,1532.19 557.33,1533.56 560.82,1534.82 564.3,1535.99 567.78,1537.06 571.27,1538.04 574.75,1538.93 578.24,1539.75 581.72,1540.5 585.21,1541.18 588.69,1541.8 592.17,1542.36 595.66,1542.86 599.14,1543.32 602.63,1543.73 606.11,1544.1 609.6,1544.44 613.08,1544.73 616.56,1545 620.05,1545.24 623.53,1545.45 627.02,1545.64 630.5,1545.81 633.99,1545.96"/>
<polyline fill="none" stroke="#3D7F42" stroke-width="2" points="120.5,1545.79 123.4,1545.62 126.29,1545.42 129.18,1545.19 132.08,1544.94 134.97,1544.66 137.86,1544.35 140.76,1543.99 143.65,1543.6 146.54,1543.16 149.44,1542.67 152.33,1542.12 155.23,1541.52 158.12,1540.85 161.01,1540.12 163.91,1539.31 166.8,1538.41 169.69,1537.43 172.59,1536.36 175.48,1535.19 178.37,1533.91 181.27,1532.51 184.16,1530.99 187.05,1529.35 189.95,1527.57 192.84,1525.64 195.74,1523.57 198.63,1521.34 201.52,1518.94 204.42,1516.37 207.31,1513.62 210.2,1510.69 213.1,1507.56 215.99,1504.24 218.88,1500.72 221.78,1497 224.67,1493.06 227.57,1488.92 230.46,1484.56 233.35,1480 236.25,1475.21 239.14,1470.22 242.03,1465.03 244.93,1459.62 247.82,1454.03 250.71,1448.24 253.61,1442.27 256.5,1436.12 259.4,1429.82 262.29,1423.37 265.18,1416.78 268.08,1410.08 270.97,1403.27 273.86,1396.39 276.76,1389.44 279.65,1382.45 282.54,1375.45 285.44,1368.45 288.33,1361.48 291.22,1354.57 294.12,1347.74 297.01,1341.02 299.91,1334.43 302.8,1328 305.69,1321.77 308.59,1315.75 311.48,1309.97 314.37,1304.46 317.27,1299.25 320.16,1294.36 323.05,1289.8 325.95,1285.61 328.84,1281.8 331.74,1278.4 334.63,1275.41 337.52,1272.85 340.42,1270.75 343.31,1269.1 346.2,1267.91 349.1,1267.2 351.99,1266.96 354.88,1267.2 357.78,1267.91 360.67,1269.1 363.57,1270.75 366.46,1272.85 369.35,1275.41 372.25,1278.4 375.14,1281.8 378.03,1285.61 380.93,1289.8 383.82,1294.36 386.71,1299.25 389.61,1304.46 392.5,1309.97 395.39,1315.75 398.29,1321.77 401.18,1328 404.08,1334.43 406.97,1341.02 409.86,1347.74 412.76,1354.57 415.65,1361.48 418.54,1368.45 421.44,1375.45 424.33,1382.45 427.22,1389.44 430.12,1396.39 433.01,1403.27 435.91,1410.08 438.8,1416.78 441.69,1423.37 444.59,1429.82 447.48,1436.12 450.37,1442.27 453.27,1448.24 456.16,1454.03 459.05,1459.62 461.95,1465.03 464.84,1470.22 467.74,1475.21 470.63,1480 473.52,1484.56 476.42,1488.92 479.31,1493.06 482.2,1497 485.1,1500.72 487.99,1504.24 490.88,1507.56 493.78,1510.69 496.67,1513.62 499.56,1516.37 502.46,1518.94 505.35,1521.34 508.25,1523.57 511.14,1525.64 514.03,1527.57 516.93,1529.35 519.82,1530.99 522.71,1532.51 525.61,1533.91 528.5,1535.19 531.39,1536.36 534.29,1537.43 537.18,1538.41 540.08,1539.31 542.97,1540.12 545.86,1540.85 548.76,1541.52 551.65,1542.12 554.54,1542.67 557.44,1543.16 560.33,1543.6 563.22,1543.99 566.12,1544.35 569.01,1544.66 571.91,1544.94 574.8,1545.19 577.69,1545.42 580.59,1545.62 583.48,1545.79"/>
<polyline fill="none" stroke="#6C6095" stroke-width="2" points="145.76,1545.7 148.33,1545.51 150.91,1545.3 153.49,1545.06 156.07,1544.79 158.65,1544.49 161.22,1544.15 163.8,1543.77 166.38,1543.35 168.96,1542.88 171.53,1542.35 174.11,1541.77 176.69,1541.12 179.27,1540.41 181.85,1539.62 184.42,1538.75 187,1537.79 189.58,1536.74 192.16,1535.59 194.74,1534.33 197.31,1532.95 199.89,1531.46 202.47,1529.83 205.05,1528.07 207.63,1526.15 210.2,1524.09 212.78,1521.86 215.36,1519.47 217.94,1516.9 220.52,1514.14 223.09,1511.19 225.67,1508.04 228.25,1504.69 230.83,1501.13 233.41,1497.35 235.98,1493.36 238.56,1489.14 241.14,1484.69 243.72,1480.02 246.3,1475.12 248.87,1469.99 251.45,1464.64 254.03,1459.06 256.61,1453.27 259.18,1447.26 261.76,1441.05 264.34,1434.64 266.92,1428.05 269.5,1421.29 272.07,1414.37 274.65,1407.3 277.23,1400.11 279.81,1392.81 282.39,1385.43 284.96,1377.97 287.54,1370.48 290.12,1362.96 292.7,1355.45 295.28,1347.98 297.85,1340.56 300.43,1333.24 303.01,1326.02 305.59,1318.96 308.17,1312.06 310.74,1305.37 313.32,1298.92 315.9,1292.72 318.48,1286.81 321.06,1281.22 323.63,1275.97 326.21,1271.08 328.79,1266.58 331.37,1262.5 333.95,1258.84 336.52,1255.64 339.1,1252.9 341.68,1250.64 344.26,1248.87 346.83,1247.6 349.41,1246.83 351.99,1246.58 354.57,1246.83 357.15,1247.6 359.72,1248.87 362.3,1250.64 364.88,1252.9 367.46,1255.64 370.04,1258.84 372.61,1262.5 375.19,1266.58 377.77,1271.08 380.35,1275.97 382.93,1281.22 385.5,1286.81 388.08,1292.72 390.66,1298.92 393.24,1305.37 395.82,1312.06 398.39,1318.96 400.97,1326.02 403.55,1333.24 406.13,1340.56 408.71,1347.98 411.28,1355.45 413.86,1362.96 416.44,1370.48 419.02,1377.97 421.6,1385.43 424.17,1392.81 426.75,1400.11 429.33,1407.3 431.91,1414.37 434.48,1421.29 437.06,1428.05 439.64,1434.64 442.22,1441.05 444.8,1447.26 447.37,1453.27 449.95,1459.06 452.53,1464.64 455.11,1469.99 457.69,1475.12 460.26,1480.02 462.84,1484.69 465.42,1489.14 468,1493.36 470.58,1497.35 473.15,1501.13 475.73,1504.69 478.31,1508.04 480.89,1511.19 483.47,1514.14 486.04,1516.9 488.62,1519.47 491.2,1521.86 493.78,1524.09 496.36,1526.15 498.93,1528.07 501.51,1529.83 504.09,1531.46 506.67,1532.95 509.25,1534.33 511.82,1535.59 514.4,1536.74 516.98,1537.79 519.56,1538.75 522.13,1539.62 524.71,1540.41 527.29,1541.12 529.87,1541.77 532.45,1542.35 535.02,1542.88 537.6,1543.35 540.18,1543.77 542.76,1544.15 545.34,1544.49 547.91,1544.79 550.49,1545.06 553.07,1545.3 555.65,1545.51 558.23,1545.7"/>
<polyline fill="none" stroke="#A8A64C" stroke-width="2" points="193.46,1545.34 195.44,1545.1 197.42,1544.83 199.4,1544.52 201.38,1544.18 203.36,1543.79 205.35,1543.36 207.33,1542.87 209.31,1542.33 211.29,1541.73 213.27,1541.05 215.25,1540.31 217.24,1539.48 219.22,1538.56 221.2,1537.55 223.18,1536.44 225.16,1535.22 227.14,1533.87 229.13,1532.4 231.11,1530.79 233.09,1529.03 235.07,1527.11 237.05,1525.03 239.03,1522.78 241.02,1520.33 243,1517.69 244.98,1514.84 246.96,1511.78 248.94,1508.48 250.92,1504.96 252.91,1501.18 254.89,1497.16 256.87,1492.87 258.85,1488.31 260.83,1483.48 262.81,1478.37 264.8,1472.97 266.78,1467.28 268.76,1461.3 270.74,1455.03 272.72,1448.47 274.71,1441.62 276.69,1434.49 278.67,1427.08 280.65,1419.39 282.63,1411.45 284.61,1403.25 286.6,1394.82 288.58,1386.17 290.56,1377.31 292.54,1368.27 294.52,1359.07 296.5,1349.73 298.49,1340.28 300.47,1330.75 302.45,1321.16 304.43,1311.54 306.41,1301.94 308.39,1292.37 310.38,1282.89 312.36,1273.51 314.34,1264.28 316.32,1255.24 318.3,1246.42 320.28,1237.87 322.27,1229.6 324.25,1221.68 326.23,1214.12 328.21,1206.96 330.19,1200.24 332.17,1193.99 334.16,1188.24 336.14,1183.01 338.12,1178.34 340.1,1174.24 342.08,1170.73 344.06,1167.84 346.05,1165.57 348.03,1163.95 350.01,1162.97 351.99,1162.64 353.97,1162.97 355.95,1163.95 357.94,1165.57 359.92,1167.84 361.9,1170.73 363.88,1174.24 365.86,1178.34 367.84,1183.01 369.83,1188.24 371.81,1193.99 373.79,1200.24 375.77,1206.96 377.75,1214.12 379.73,1221.68 381.72,1229.6 383.7,1237.87 385.68,1246.42 387.66,1255.24 389.64,1264.28 391.62,1273.51 393.61,1282.89 395.59,1292.37 397.57,1301.94 399.55,1311.54 401.53,1321.16 403.51,1330.75 405.5,1340.28 407.48,1349.73 409.46,1359.07 411.44,1368.27 413.42,1377.31 415.4,1386.17 417.39,1394.82 419.37,1403.25 421.35,1411.45 423.33,1419.39 425.31,1427.08 427.29,1434.49 429.28,1441.62 431.26,1448.47 433.24,1455.03 435.22,1461.3 437.2,1467.28 439.18,1472.97 441.17,1478.37 443.15,1483.48 445.13,1488.31 447.11,1492.87 449.09,1497.16 451.07,1501.18 453.06,1504.96 455.04,1508.48 457.02,1511.78 459,1514.84 460.98,1517.69 462.97,1520.33 464.95,1522.78 466.93,1525.03 468.91,1527.11 470.89,1529.03 472.87,1530.79 474.86,1532.4 476.84,1533.87 478.82,1535.22 480.8,1536.44 482.78,1537.55 484.76,1538.56 486.75,1539.48 488.73,1540.31 490.71,1541.05 492.69,1541.73 494.67,1542.33 496.65,1542.87 498.64,1543.36 500.62,1543.79 502.6,1544.18 504.58,1544.52 506.56,1544.83 508.54,1545.1 510.53,1545.34"/>
<rect x="76.5" y="1103.9" width="595.2" height="443.1" fill="none" stroke="#151515" stroke-width="1.7"/>
<line x1="69.5" y1="1547" x2="76.5" y2="1547" stroke="#151515" stroke-width="1.5"/>
<text x="64.5" y="1553.5" font-size="18.7" text-anchor="end">0.00</text>
<line x1="69.5" y1="1483.7" x2="76.5" y2="1483.7" stroke="#151515" stroke-width="1.5"/>
<text x="64.5" y="1490.2" font-size="18.7" text-anchor="end">0.05</text>
<line x1="69.5" y1="1420.4" x2="76.5" y2="1420.4" stroke="#151515" stroke-width="1.5"/>
<text x="64.5" y="1426.9" font-size="18.7" text-anchor="end">0.10</text>
<line x1="69.5" y1="1357.1" x2="76.5" y2="1357.1" stroke="#151515" stroke-width="1.5"/>
<text x="64.5" y="1363.6" font-size="18.7" text-anchor="end">0.15</text>
<line x1="69.5" y1="1293.8" x2="76.5" y2="1293.8" stroke="#151515" stroke-width="1.5"/>
<text x="64.5" y="1300.3" font-size="18.7" text-anchor="end">0.20</text>
<line x1="69.5" y1="1230.5" x2="76.5" y2="1230.5" stroke="#151515" stroke-width="1.5"/>
<text x="64.5" y="1237" font-size="18.7" text-anchor="end">0.25</text>
<line x1="69.5" y1="1167.2" x2="76.5" y2="1167.2" stroke="#151515" stroke-width="1.5"/>
<text x="64.5" y="1173.7" font-size="18.7" text-anchor="end">0.30</text>
<line x1="69.5" y1="1103.9" x2="76.5" y2="1103.9" stroke="#151515" stroke-width="1.5"/>
<text x="64.5" y="1110.4" font-size="18.7" text-anchor="end">0.35</text>
<line x1="72.5" y1="1515.35" x2="76.5" y2="1515.35" stroke="#151515" stroke-width="1.5"/>
<line x1="72.5" y1="1452.05" x2="76.5" y2="1452.05" stroke="#151515" stroke-width="1.5"/>
<line x1="72.5" y1="1388.75" x2="76.5" y2="1388.75" stroke="#151515" stroke-width="1.5"/>
<line x1="72.5" y1="1325.45" x2="76.5" y2="1325.45" stroke="#151515" stroke-width="1.5"/>
<line x1="72.5" y1="1262.15" x2="76.5" y2="1262.15" stroke="#151515" stroke-width="1.5"/>
<line x1="72.5" y1="1198.85" x2="76.5" y2="1198.85" stroke="#151515" stroke-width="1.5"/>
<line x1="72.5" y1="1135.55" x2="76.5" y2="1135.55" stroke="#151515" stroke-width="1.5"/>
<line x1="119.01" y1="1547" x2="119.01" y2="1554" stroke="#151515" stroke-width="1.5"/>
<text x="119.01" y="1572.5" font-size="18.7" text-anchor="middle">-0.18</text>
<line x1="204.04" y1="1547" x2="204.04" y2="1554" stroke="#151515" stroke-width="1.5"/>
<text x="204.04" y="1572.5" font-size="18.7" text-anchor="middle">-0.16</text>
<line x1="289.07" y1="1547" x2="289.07" y2="1554" stroke="#151515" stroke-width="1.5"/>
<text x="289.07" y="1572.5" font-size="18.7" text-anchor="middle">-0.14</text>
<line x1="374.1" y1="1547" x2="374.1" y2="1554" stroke="#151515" stroke-width="1.5"/>
<text x="374.1" y="1572.5" font-size="18.7" text-anchor="middle">-0.12</text>
<line x1="459.13" y1="1547" x2="459.13" y2="1554" stroke="#151515" stroke-width="1.5"/>
<text x="459.13" y="1572.5" font-size="18.7" text-anchor="middle">-0.10</text>
<line x1="544.15" y1="1547" x2="544.15" y2="1554" stroke="#151515" stroke-width="1.5"/>
<text x="544.15" y="1572.5" font-size="18.7" text-anchor="middle">-0.08</text>
<line x1="629.18" y1="1547" x2="629.18" y2="1554" stroke="#151515" stroke-width="1.5"/>
<text x="629.18" y="1572.5" font-size="18.7" text-anchor="middle">-0.06</text>
<line x1="76.5" y1="1547" x2="76.5" y2="1551" stroke="#151515" stroke-width="1.5"/>
<line x1="161.53" y1="1547" x2="161.53" y2="1551" stroke="#151515" stroke-width="1.5"/>
<line x1="246.56" y1="1547" x2="246.56" y2="1551" stroke="#151515" stroke-width="1.5"/>
<line x1="331.58" y1="1547" x2="331.58" y2="1551" stroke="#151515" stroke-width="1.5"/>
<line x1="416.61" y1="1547" x2="416.61" y2="1551" stroke="#151515" stroke-width="1.5"/>
<line x1="501.64" y1="1547" x2="501.64" y2="1551" stroke="#151515" stroke-width="1.5"/>
<line x1="586.67" y1="1547" x2="586.67" y2="1551" stroke="#151515" stroke-width="1.5"/>
<line x1="671.7" y1="1547" x2="671.7" y2="1551" stroke="#151515" stroke-width="1.5"/>
<text x="374.1" y="1605.2" font-size="20.55" text-anchor="middle" font-weight="bold">Profitability Factor (USD/kWh)</text>
<text transform="translate(25.5,1325.3) rotate(-90)" font-size="20.4" font-weight="bold" text-anchor="middle">Relative Frequency</text>
<rect x="518.9" y="1113.8" width="139.1" height="115.3" fill="#FFFFD8" stroke="#333" stroke-width="1.2"/>
<rect x="522.6" y="1117.2" width="49.6" height="24.1" fill="#FFCC90" stroke="#1C1C1C" stroke-width="2"/>
<text x="578.4" y="1137.5" font-size="22.5" text-anchor="start">10-hr</text>
<rect x="522.6" y="1145.3" width="49.6" height="24.1" fill="#9DD69B" stroke="#1C1C1C" stroke-width="2"/>
<text x="578.4" y="1164.5" font-size="22.5" text-anchor="start">Fine</text>
<rect x="522.6" y="1173.4" width="49.6" height="24.1" fill="#C6B6D8" stroke="#1C1C1C" stroke-width="2"/>
<text x="578.4" y="1192.7" font-size="22.5" text-anchor="start">Medium</text>
<rect x="522.6" y="1201.5" width="49.6" height="24.1" fill="#FFFFA0" stroke="#1C1C1C" stroke-width="2"/>
<text x="578.4" y="1220.3" font-size="22.5" text-anchor="start">Coarse</text>
</svg></body></html>
